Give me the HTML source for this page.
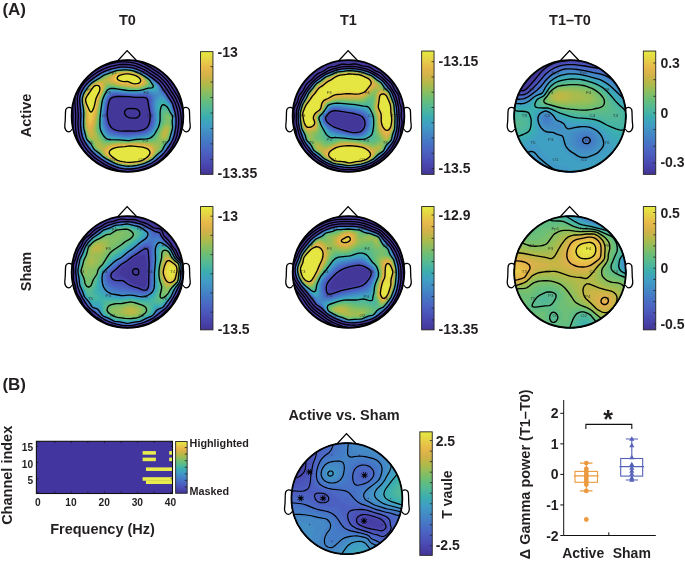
<!DOCTYPE html><html><head><meta charset="utf-8"><title>Figure</title><style>html,body{margin:0;padding:0;background:#fff}svg{display:block}text{font-family:"Liberation Sans",Arial,Helvetica,sans-serif;font-weight:bold;fill:#231f20}</style></head><body>
<svg width="685" height="561" viewBox="0 0 685 561">
<defs><linearGradient id="pg" x1="0" y1="0" x2="0" y2="1"><stop offset="0.0000" stop-color="#e5ea40"/><stop offset="0.0667" stop-color="#e6d246"/><stop offset="0.1333" stop-color="#e7b84a"/><stop offset="0.2000" stop-color="#d1b248"/><stop offset="0.2667" stop-color="#b0ba4a"/><stop offset="0.3333" stop-color="#89be61"/><stop offset="0.4000" stop-color="#66be7b"/><stop offset="0.4667" stop-color="#50b899"/><stop offset="0.5333" stop-color="#3badb1"/><stop offset="0.6000" stop-color="#409ec5"/><stop offset="0.6667" stop-color="#438bc5"/><stop offset="0.7333" stop-color="#4578c6"/><stop offset="0.8000" stop-color="#4b66c3"/><stop offset="0.8667" stop-color="#4b55ba"/><stop offset="0.9333" stop-color="#4844ac"/><stop offset="1.0000" stop-color="#433596"/></linearGradient></defs>
<rect width="685" height="561" fill="#fff"/>
<path d="M117.5 61.0 L127.1 50.6 L137.0 61.0" fill="none" stroke="#000" stroke-width="1.3" stroke-linejoin="miter"/>
<path d="M71.8 108.5 C70.3 107.0 67.3 106.5 65.8 109.5 C65.0 113.0 65.8 119.0 64.8 125.0 C64.3 129.0 66.3 131.8 68.8 131.8 C70.3 131.8 71.3 130.5 72.3 129.0" fill="#fff" stroke="#000" stroke-width="1.3"/>
<path d="M183.2 108.5 C184.7 107.0 187.7 106.5 189.2 109.5 C190.0 113.0 189.2 119.0 190.2 125.0 C190.7 129.0 188.7 131.8 186.2 131.8 C184.7 131.8 183.7 130.5 182.7 129.0" fill="#fff" stroke="#000" stroke-width="1.3"/>
<clipPath id="cA0"><circle r="562"/></clipPath>
<g transform="translate(127.5 116) scale(0.1)"><g clip-path="url(#cA0)" fill-rule="evenodd">
<circle r="567" fill="#44379a"/>
<path fill="#463ca1" d="M-109 -484l42-6 42-1 58 5 42 10 60 25 40 21 34 21 69 50 31 26 22 24 32 50 29 38 51 80 8 17 8 24 23 83 5 50 0 50-8 59-8 42-10 33-14 33-21 38-36 54-31 37-33 32-39 32-37 25-33 17-33 14-101 26-41 6-34 1-41-3-34-5-42-12-50-21-33-15-43-25-49-33-33-26-28-25-32-33-32-44-25-40-15-33-11-42-6-33-5-50 4-100-12-159 2-25 4-17 5-16 12-25 25-42 27-34 28-25 67-51 42-26 50-25 50-17zM-134 -186l-16 7-9 5-8 8-9 16-12 41-9 76 2 41 11 50 15 34 10 14 9 8 16 11 17 7 42 9 33 3 109 0 42-3 33-7 25-9 13-8 9-8 16-26 9-25 5-25 2-33-3-33-18-101-7-25-5-8-13-8-16-4-84-4-67-5-108-2z"/>
<path fill="#4741a7" d="M-103 -484l45-6 41 0 50 5 42 10 59 25 41 21 67 45 44 33 23 20 20 22 32 50 31 42 51 79 15 38 23 83 5 50-1 59-8 58-9 41-11 34-16 34-24 40-29 43-29 35-42 39-33 27-42 28-33 17-34 12-66 19-34 7-42 4-41 0-41-4-34-8-34-11-58-25-42-22-50-32-42-31-33-28-26-27-26-33-29-42-18-33-10-27-9-40-10-75 4-100-12-159 2-23 4-19 9-25 12-24 27-43 30-33 52-42 46-33 37-22 42-21 50-17zM-117 -193l-17 3-16 5-14 10-8 8-8 17-6 16-11 59-4 58 6 50 6 25 10 25 9 17 11 15 14 10 16 9 20 6 26 5 41 4 100 0 51-3 33-6 17-6 16-8 17-12 15-22 10-25 5-25 3-34-3-41-11-59-7-50-4-17-8-13-8-6-9-3-16-3-84-2-67-6z"/>
<path fill="#4946ad" d="M-96 -484l46-5 58 2 42 6 33 10 59 26 36 19 62 42 52 40 21 18 14 17 32 50 26 34 58 90 13 35 20 68 5 24 4 41-2 59-7 56-10 44-14 42-17 33-26 42-29 42-29 33-37 33-31 26-41 26-33 17-34 13-66 18-34 7-42 5-41 0-34-3-41-9-42-14-59-26-41-23-43-28-41-30-33-29-31-33-28-37-25-37-14-26-12-34-9-41-7-67 3-109-12-150 3-25 6-25 10-25 14-25 22-34 30-33 58-47 54-36 46-26 34-13 50-16zM-142 -193l-17 8-8 6-8 10-9 16-11 44-10 76 0 25 3 25 10 46 15 37 18 23 16 11 18 7 42 10 50 4 91-1 51-3 41-9 25-10 21-15 13-18 10-24 8-33 2-34-2-33-13-75-6-50-5-17-6-8-13-9-25-5-76 0-75-6-100-3-25 1z"/>
<path fill="#4a4bb3" d="M-87 -484l45-4 59 3 33 6 38 11 57 25 39 22 65 45 52 41 24 26 31 50 28 36 59 91 12 32 24 92 4 41-1 59-6 50-11 50-15 42-16 32-32 51-24 34-27 31-49 44-33 25-35 21-34 16-33 12-65 18-35 6-42 4-42-1-41-5-34-9-54-20-37-17-42-24-41-26-51-39-32-28-22-25-38-51-17-25-16-33-10-33-9-42-6-67 3-100-12-150 3-25 6-25 11-25 13-25 26-37 27-30 56-45 56-38 44-24 42-17 50-15zM-125 -201l-17 4-17 7-16 14-7 9-12 33-10 59-5 58 6 50 5 25 8 25 12 26 11 13 14 12 11 6 28 10 47 8 50 2 92-2 59-7 25-6 16-7 17-11 8-8 14-19 11-29 6-29 2-34-2-33-13-75-5-50-4-17-9-13-8-7-8-3-17-3-84 0-75-5-100-4z"/>
<path fill="#4a50b7" d="M-77 -484l44-2 58 4 33 6 34 11 58 27 37 21 60 41 54 43 23 24 30 50 30 39 59 91 8 20 21 76 7 33 3 42-2 58-7 50-12 50-12 34-15 30-57 87-35 37-42 38-33 24-33 21-34 16-33 12-67 18-42 7-41 3-42-2-42-6-33-10-50-19-46-22-43-25-48-34-39-31-29-27-21-25-41-57-16-27-11-25-9-33-9-50-4-59 3-92-11-125 0-33 4-25 8-25 26-51 27-37 30-29 53-42 65-42 36-18 41-15 67-19zM-142 -202l-17 7-15 11-10 13-6 12-11 42-11 84 2 50 10 50 8 25 8 17 17 21 25 16 25 9 50 8 50 2 84-1 67-8 25-6 16-7 17-9 9-9 13-16 12-26 9-33 2-33-2-42-13-75-6-59-5-16-7-9-12-8-25-5-92 1-67-5-108-5-25 1z"/>
<path fill="#4b56ba" d="M-63 -484l46-1 50 5 34 8 33 12 56 26 36 21 52 37 65 53 13 14 29 50 33 42 59 91 8 23 22 78 6 33 2 42-3 59-8 50-13 50-13 33-18 33-39 59-19 25-34 35-47 40-35 25-27 15-33 15-33 11-67 17-42 7-42 2-41-3-42-8-42-13-50-21-50-27-45-28-47-36-25-21-27-27-48-64-17-26-13-27-8-25-10-41-6-42-2-42 4-92-12-125 0-33 4-25 8-25 12-25 20-34 26-33 27-27 50-38 67-44 42-20 58-20 50-12zM-125 -209l-17 3-17 6-16 12-9 10-8 16-7 20-10 50-7 67 1 25 3 33 7 34 8 25 8 17 14 20 8 8 17 11 28 11 47 8 58 4 84-3 67-7 37-11 17-8 12-9 14-16 14-25 10-34 3-33-1-42-15-83-3-59-5-16-8-11-9-7-8-4-17-4-100 1-167-9z"/>
<path fill="#4b5bbe" d="M-113 -476l46-7 42-1 50 4 42 9 42 16 58 28 42 27 44 33 48 38 16 17 34 56 30 39 53 80 9 15 5 13 28 101 3 41-2 67-5 42-12 50-10 33-16 33-54 84-29 34-36 33-41 34-32 20-33 18-34 13-92 24-41 5-34 2-41-3-42-8-34-10-50-21-41-21-42-25-29-20-55-42-17-16-23-25-43-58-21-34-13-33-11-42-9-67 0-33 3-84-12-125 0-25 2-25 4-17 18-41 26-42 28-34 29-25 56-41 50-32 34-17 50-18zM-142 -210l-17 5-16 12-9 9-10 17-6 17-6 25-11 76-2 32 1 25 9 59 7 25 7 17 10 16 10 11 25 18 33 11 59 9 58 2 75-4 67-8 25-7 15-7 14-8 13-11 16-22 11-26 7-33 3-33-3-42-14-75-2-59-5-16-4-9-8-8-14-8-21-5-92 2-183-10-25 0z"/>
<path fill="#4b60c0" d="M-106 -476l39-5 42-1 50 3 42 9 42 16 57 28 43 28 42 31 50 40 16 17 34 59 27 34 56 83 12 25 28 101 4 41-2 67-6 42-11 49-11 34-14 31-56 86-27 32-38 35-41 34-30 19-33 17-34 14-92 23-41 6-34 1-41-2-42-8-34-11-50-20-41-21-42-25-38-27-46-36-16-15-22-24-45-61-20-31-13-33-10-42-10-67 0-33 3-84-11-125-1-25 3-25 4-17 18-41 26-42 28-34 50-41 48-34 41-25 36-17 58-20zM-159 -209l-14 9-11 10-10 15-7 16-12 50-9 84 3 58 9 50 14 34 11 17 10 9 25 17 33 10 67 9 58 2 84-6 58-9 34-11 16-11 12-10 18-25 10-26 7-25 3-33-3-50-14-75-3-67-6-17-7-9-17-11-25-5-100 3-192-11-25 2z"/>
<path fill="#4b66c3" d="M-99 -476l49-5 50 1 42 5 41 12 59 26 42 24 54 37 61 50 17 17 32 59 28 34 61 91 7 16 29 101 3 41-2 76-6 41-11 42-10 33-13 28-64 98-28 30-51 45-24 18-33 21-34 17-29 11-62 17-34 7-42 4-41 1-36-4-39-9-42-14-43-19-47-25-40-25-54-41-33-29-21-22-46-63-17-26-9-20-10-33-9-42-5-37-2-30 3-108-11-117-1-25 2-23 5-19 10-25 10-21 26-39 33-37 42-34 64-44 36-21 33-15 59-19zM-142 -219l-17 5-16 10-12 12-10 17-7 16-7 25-11 76-4 58 3 33 5 34 13 42 8 16 13 18 9 7 16 11 34 12 67 10 58 4 83-7 67-9 34-11 16-10 11-8 19-25 12-25 7-25 5-34-2-50-15-83-1-67-6-17-5-8-9-8-16-9-25-4-100 4-175-11z"/>
<path fill="#4a6bc5" d="M-91 -476l49-4 59 3 33 5 39 13 56 25 43 25 48 33 61 50 17 17 31 59 31 38 60 87 7 16 29 101 3 33-2 84-5 34-15 57-8 25-11 25-66 101-26 28-53 47-22 17-33 21-34 16-33 13-58 15-34 7-42 5-41 0-34-3-41-9-34-11-48-21-47-25-41-25-64-50-25-22-19-20-48-66-17-26-10-25-10-33-8-42-4-33-2-26 3-108-11-117-1-25 3-25 7-24 11-26 14-25 25-36 33-34 42-33 71-47 29-16 47-18 53-16zM-159 -218l-16 9-9 9-12 16-12 25-10 42-10 84 0 58 9 58 8 26 9 16 18 25 25 17 34 11 83 11 50 3 109-12 42-7 33-12 25-19 17-22 13-28 9-34 2-33-3-50-14-75 0-67-4-17-12-15-13-10-12-4-25-4-75 5-33 0-184-12-25 1z"/>
<path fill="#4771c6" d="M-81 -476l48-3 50 3 41 8 34 11 50 23 44 25 47 33 68 56 11 11 5 8 20 42 10 17 29 35 58 83 7 15 13 51 14 39 4 19 1 33-2 84-8 42-12 45-11 30-12 25-61 92-25 26-55 49-22 17-31 19-34 17-33 12-58 16-42 8-42 4-42-1-41-6-34-8-50-19-37-17-46-26-37-25-64-49-25-24-66-90-11-20-10-25-8-34-8-41-4-51 3-108-12-117-1-25 3-25 6-21 8-21 17-30 25-37 32-33 43-34 74-49 35-18 43-16 55-17zM-142 -227l-17 5-16 9-14 13-11 16-9 19-7 23-10 59-6 75 1 33 3 33 5 25 8 26 12 25 13 16 23 19 17 7 16 5 51 8 83 8 33-2 92-11 34-6 33-12 25-18 19-23 13-25 10-33 3-34-2-50-16-92 3-58-4-17-11-16-10-9-13-6-25-5-109 5-100-5-84-8z"/>
<path fill="#4577c6" d="M-69 -476l44-1 50 3 33 7 42 15 55 26 41 25 35 25 70 58 9 9 5 8 19 44 9 15 33 40 58 82 18 62 15 41 3 17 2 33-3 84-6 33-13 50-11 34-13 25-61 92-23 24-57 51-22 17-29 18-34 16-41 16-59 15-42 7-41 3-34-1-41-6-39-10-44-17-51-25-42-24-37-26-55-43-24-24-67-91-13-26-8-25-10-41-7-42-2-42 3-100-12-117 0-33 4-25 9-25 12-25 15-25 26-34 33-32 41-31 76-49 33-16 65-22 43-11zM-159 -227l-16 9-11 9-14 19-11 23-11 42-11 83-2 34 0 33 8 58 7 26 7 16 9 17 12 14 13 11 12 8 33 11 109 14 33 2 151-20 33-11 17-10 13-11 19-25 12-25 10-33 4-34-2-50-16-92 4-50-1-16-5-17-6-8-10-9-14-8-17-5-16-2-109 6-92-5-100-9-25 1z"/>
<path fill="#447cc7" d="M-47 -476l47 1 42 5 37 11 46 20 42 22 50 32 84 70 11 14 26 59 38 45 58 80 14 50 19 59 3 16-2 109-9 44-15 56-10 25-8 15-67 99-17 17-70 61-24 17-30 17-34 15-34 11-58 14-50 8-42 1-50-6-42-10-42-15-50-24-50-28-24-17-68-53-16-15-14-15-53-73-16-27-10-25-8-31-12-69-1-42 3-92-12-117 0-33 5-25 8-25 17-34 17-25 27-33 32-29 42-30 75-48 45-19 72-22 42-8zM-142 -234l-17 3-16 8-16 14-9 13-9 15-9 22-6 25-5 34-7 58-2 34 0 33 4 42 4 25 8 25 13 25 12 17 22 17 16 8 17 5 33 5 109 12 25-1 134-19 33-10 17-9 10-8 22-25 14-25 11-34 5-33 0-25-2-34-16-92 6-66-4-17-6-8-8-9-16-10-16-6-17-3-25 0-67 6-33 1-84-5-92-9z"/>
<path fill="#4482c6" d="M-109 -468l42-5 42-2 50 4 33 7 39 13 53 25 41 25 36 25 77 67 10 17 15 42 9 16 29 32 59 77 8 14 11 44 23 67 1 25-3 92-7 38-14 54-9 25-10 20-65 97-19 20-62 55-38 27-33 18-34 13-83 23-42 7-42 2-33-2-42-7-42-13-41-17-50-26-42-24-84-65-16-15-12-13-66-92-13-33-10-42-10-58-1-42 3-92-13-134 1-25 4-16 17-42 25-41 25-31 30-28 36-27 74-48 18-10 66-24zM-159 -235l-16 7-17 15-14 21-9 17-12 41-12 84-3 67 2 33 4 33 6 26 6 16 9 17 15 20 14 13 11 7 26 10 32 6 92 11 33 2 159-22 33-12 25-18 17-19 18-31 11-34 4-33 1-25-3-34-16-92 8-58 0-17-1-8-5-8-7-9-12-8-17-8-14-5-17-2-117 8-83-4-109-11-25 1z"/>
<path fill="#4488c6" d="M-101 -468l43-5 41 0 42 3 33 7 35 12 54 25 42 25 35 25 77 67 10 17 13 42 7 16 36 38 59 74 6 13 14 51 16 41 4 17 1 25-2 92-6 32-16 60-8 25-9 18-29 40-37 59-18 18-64 57-22 17-22 13-34 17-33 13-84 21-41 6-42 1-42-4-33-7-34-10-41-17-59-31-41-26-92-74-67-89-9-14-11-25-9-33-11-50-3-25-1-26 3-116-12-109-1-25 3-25 5-17 10-25 11-20 25-38 33-37 34-27 79-53 21-12 30-13 75-25zM-134 -242l-16 1-17 4-17 10-8 9-13 18-13 25-8 25-5 25-13 100-1 42 2 41 5 34 6 25 11 25 18 25 20 17 16 8 17 5 133 17 25 1 164-23 28-10 25-16 21-24 15-25 12-34 6-33 1-25-1-33-17-101 11-66 1-17-3-8-7-9-12-8-18-10-17-6-17-3-25 0-66 8-42 1-75-3-92-11z"/>
<path fill="#438ec5" d="M-92 -468l42-4 42 0 41 5 34 8 33 12 44 21 40 24 38 26 79 71 10 21 11 50 5 9 40 35 59 72 6 18 11 42 16 39 6 19 1 17-2 100-5 25-17 67-16 40-37 52-31 50-16 16-66 59-22 17-20 12-34 16-33 14-50 13-42 9-42 5-33 1-42-4-41-9-42-15-39-17-61-34-26-17-91-74-42-59-27-34-10-16-9-25-19-84-2-50 2-108-11-101-2-33 3-22 5-20 10-25 14-25 30-42 32-33 34-26 87-57 22-10 66-24 34-10zM-159 -243l-16 6-17 13-11 15-14 25-10 25-6 25-11 84-4 75 5 67 6 25 11 25 10 17 14 16 23 17 29 9 133 17 25 1 167-23 17-5 16-7 23-17 19-24 16-26 9-25 8-34 2-33-2-33-15-101 3-25 15-58 1-8-3-9-14-8-36-15-17-6-17-2-25 1-66 8-42 1-75-3-109-13-25 0z"/>
<path fill="#4294c5" d="M-82 -468l32-2 33-1 34 3 25 4 25 6 25 9 65 32 63 41 73 67 8 8 7 17 4 25-1 17-3 8-7 6-17 3-17-3-48-14-19-2-25 1-66 9-42 1-75-3-92-12-34-2-25 2-16 6-9 5-11 12-14 19-12 22-9 25-12 67-9 92 1 67 3 25 6 25 6 17 10 20 9 13 16 17 10 8 15 8 25 6 158 17 67-10 100-13 27-8 23-14 20-19 17-25 15-34 8-25 4-33 0-34-4-41-10-59-1-25 8-33 10-28 9-16 8-10 8-6 9 0 8 2 25 16 58 67 10 16 14 51 18 44 4 14-1 117-3 19-19 73-14 37-39 55-31 50-14 14-79 69-38 24-33 16-33 12-50 13-42 8-42 4-33 0-42-5-33-8-41-14-37-16-48-26-39-25-93-75-41-58-27-34-10-16-7-17-9-33-12-59-3-50 3-108-12-101-2-33 4-25 6-22 9-20 16-29 27-38 33-33 32-24 90-59 27-12 83-28z"/>
<path fill="#419ac5" d="M-69 -468l61-1 50 6 41 12 39 17 28 15 68 43 71 67 12 17 4 16 1 17-2 9-6 8-6 4-16 3-17-2-50-12-25 1-75 11-42 2-75-4-92-12-34-2-16 0-17 3-16 8-9 7-14 18-11 20-10 22-8 25-6 33-8 59-6 75 3 66 8 42 7 17 12 21 9 12 16 16 16 11 25 8 167 17 67-11 100-12 25-6 25-14 19-17 18-25 17-33 8-26 6-33 1-33-4-50-9-59 0-25 9-33 11-24 8-11 8-8 9-4 8 0 8 2 17 11 17 16 41 48 9 17 12 45 21 48 3 10-2 125-24 92-10 25-5 8-31 42-36 59-93 83-36 22-33 16-33 13-59 15-42 7-41 3-33-1-42-6-34-9-33-12-32-14-60-33-29-18-93-75-13-16-28-42-29-36-9-14-9-25-20-92-2-42 3-108-13-109-1-25 2-17 7-26 10-24 15-27 29-40 33-33 30-22 92-61 25-10 92-31z"/>
<path fill="#40a0c3" d="M-50 -468l50 1 50 7 50 17 51 26 66 43 68 65 7 8 5 9 4 16-1 9-2 8-6 9-8 5-8 1-17 0-42-9-17 0-91 13-67 1-50-3-92-12-42-3-25 3-17 7-8 7-12 15-13 21-10 20-9 25-6 29-7 47-9 91 1 67 6 42 9 25 8 17 11 16 14 16 17 13 25 9 175 18 67-11 100-11 25-6 25-13 18-15 19-25 18-33 12-34 6-33 1-33-3-42-9-67 1-25 4-18 10-24 12-16 12-9 8-2 8 1 17 9 25 24 31 35 8 17 15 50 22 50-1 118-8 38-17 60-8 23-7 11-31 42-36 59-93 83-43 25-37 17-37 12-50 12-50 8-42 1-42-4-50-12-42-16-52-26-56-33-84-66-18-18-33-50-32-39-7-11-11-34-19-83-1-50 2-100-12-101-1-33 3-25 8-25 13-27 17-27 29-38 29-27 25-19 92-60 25-11 92-31 33-6z"/>
<path fill="#3fa5bd" d="M-109 -459l67-7 59 2 25 4 25 6 49 20 46 25 47 30 14 12 64 66 5 9 3 16-2 9-5 8-12 7-9 1-50-7-17 0-83 14-34 3-33 0-58-3-92-14-42-3-25 3-17 6-8 7-8 9-17 26-13 26-9 25-7 34-7 50-8 92 1 66 7 42 9 25 9 17 12 17 16 16 15 10 25 8 92 7 83 10 67-12 109-11 25-7 16-9 17-13 20-24 19-34 14-33 7-34 2-33-2-42-8-75 2-25 5-18 8-18 12-14 13-7 8-1 17 7 25 22 27 29 9 17 15 50 23 50 1 17-2 50 1 50-7 33-17 60-8 24-8 16-33 42-29 50-14 16-76 68-22 17-31 16-37 17-26 9-41 10-51 9-41 4-34-1-41-7-34-9-42-15-49-25-51-29-92-72-16-16-32-50-35-41-5-9-9-25-11-45-9-37-2-18 2-142-14-126 1-16 5-25 17-41 22-35 26-33 26-25 26-19 100-64 94-34z"/>
<path fill="#3ca9b7" d="M-100 -459l58-6 59 2 25 4 25 7 50 20 43 23 49 32 11 10 61 66 5 9 2 8-1 8-3 9-8 6-9 2-58-4-75 14-42 4-92-1-109-16-33-2-25 2-17 6-8 6-8 8-17 26-16 32-9 25-13 76-9 100 0 75 4 25 4 17 11 25 9 16 13 17 14 14 17 10 25 7 92 5 83 10 67-11 109-11 28-7 22-12 22-22 17-25 17-33 12-34 5-25 2-33-7-108 1-26 4-16 7-17 12-15 8-5 8-2 17 5 25 21 25 27 8 17 15 44 19 36 5 14-1 125-25 92-5 17-8 14-34 44-32 55-87 79-23 17-32 17-37 16-30 10-42 10-50 8-42 3-33-3-42-7-33-10-34-13-46-23-58-34-46-38-50-38-12-15-26-42-37-44-12-31-20-84-3-50 2-108-3-34-9-67-2-33 4-25 5-17 20-41 29-42 31-34 25-20 58-37 38-26 21-10 90-32z"/>
<path fill="#3baeb1" d="M-90 -459l57-5 33 1 25 2 42 10 50 20 40 22 61 42 56 66 5 9 1 8-4 11-13 6-13 1-41-2-67 14-42 6-42 1-58-2-109-16-33-3-17 0-16 4-13 5-10 9-11 14-16 30-14 31-6 16-6 34-9 58-8 92 0 67 3 25 4 17 10 25 9 16 12 17 16 17 22 13 17 5 100 5 83 9 67-11 117-11 25-7 17-9 16-14 18-22 23-42 14-33 8-34 2-25-4-108 2-34 4-16 9-15 8-7 8-4 9 0 16 8 17 13 17 17 9 13 18 50 23 40 3 10 1 17-3 41 1 67-27 100-9 20-37 47-29 52-9 9-33 28-47 45-24 17-31 16-40 17-33 10-51 11-41 6-42 2-38-4-37-8-30-9-29-11-43-22-59-34-48-40-50-39-10-12-25-42-40-48-10-27-21-84-2-16-1-34 3-108-3-34-10-67-2-33 4-25 5-17 20-41 30-42 31-34 23-18 58-36 41-29 18-8 95-34z"/>
<path fill="#3fb2aa" d="M-78 -459l53-4 50 4 42 9 57 24 43 25 48 34 15 16 31 42 9 17-1 8-11 8-49 3-67 16-50 7-34 0-58-2-109-17-41-3-17 1-13 4-12 6-8 7-9 11-18 34-15 33-5 17-7 34-7 50-10 100-1 67 2 25 4 17 7 19 11 22 14 21 17 18 18 11 24 7 92 3 91 9 75-12 109-9 25-6 17-8 21-17 19-25 23-42 13-33 7-25 3-25-1-92 3-42 6-25 6-10 8-7 9-2 8 1 8 4 17 12 17 17 8 15 19 45 24 42 1 17-3 41 2 67-26 94-9 23-40 50-27 50-8 9-33 28-50 47-25 17-42 21-33 14-42 11-50 10-34 4-33 1-42-5-41-9-34-12-25-10-76-42-24-15-42-37-50-38-38-60-29-31-8-11-9-25-21-92-2-50 3-100-3-34-11-67-2-33 3-19 7-23 20-41 32-45 33-34 17-13 58-36 45-31 114-42z"/>
<path fill="#48b5a3" d="M-63 -459l55-2 41 5 42 11 50 21 39 23 48 34 15 16 23 34 8 16 0 9-8 8-8 2-33 4-59 16-50 8-42 1-58-2-109-17-41-4-25 3-15 6-10 7-9 11-21 40-12 26-8 24-14 84-11 100-1 75 5 34 9 25 12 22 13 19 15 17 22 14 16 5 101 2 91 9 75-12 109-7 25-5 17-7 20-16 20-25 19-33 20-42 7-25 5-25 1-83 2-25 9-34 5-11 9-9 8-2 8 2 25 17 9 10 28 52 17 25 5 14-4 52 4 51-1 16-26 92-9 25-42 50-26 50-7 9-39 32-44 43-15 11-25 14-35 17-40 14-47 11-45 7-33 2-33-1-42-7-34-8-33-12-30-15-60-33-27-17-42-38-49-37-35-58-32-34-6-8-11-32-21-85-1-59 2-91-3-34-11-68-1-32 2-17 7-25 11-25 15-24 31-43 35-33 17-12 58-35 41-28 116-42z"/>
<path fill="#50b79a" d="M-42 -459l50 0 42 8 42 14 42 20 27 16 49 34 14 16 11 17 9 17 4 16-5 9-9 4-34 7-50 16-50 8-42 2-58-3-117-19-33-3-17 1-17 4-13 8-9 8-11 18-20 41-16 41-7 34-9 67-10 100-1 67 6 33 7 18 12 24 13 19 17 19 17 12 24 7 101 0 91 9 67-11 109-6 33-5 25-11 12-8 13-14 18-28 30-58 11-34 5-25 1-67 3-25 7-23 9-11 8-4 25 0 8 3 9 7 29 45 13 16 5 17-3 50 3 51-1 16-27 100-11 21-27 30-12 16-19 40-9 13-41 35-47 46-12 9-29 16-35 17-36 12-55 13-54 7-33 1-50-7-42-10-42-16-100-55-50-45-42-30-11-12-28-50-36-38-7-13-26-98-3-18 1-151-13-92-2-33 4-25 9-25 12-25 17-26 25-33 33-32 17-11 58-35 42-29 117-42 42-6z"/>
<path fill="#56b991" d="M-103 -451l53-6 50-1 46 7 46 15 53 27 61 42 9 8 11 17 9 16 4 17-2 8-13 9-74 24-41 8-42 2-59-3-133-20-34-3-25 4-16 10-9 9-8 13-27 56-7 17-7 25-8 50-11 83-7 109 1 33 10 34 22 41 13 17 13 12 16 11 25 5 92-1 100 9 67-10 117-7 33-5 25-12 20-19 21-33 29-58 12-34 6-25 1-58 3-25 7-17 7-8 11-7 9-1 16 2 9 7 8 9 34 48 2 17-3 41 4 51-1 16-27 100-9 17-37 42-31 58-40 35-49 49-26 17-34 17-33 13-34 10-50 10-50 6-33 0-44-6-40-10-39-15-103-57-50-46-43-31-7-8-27-50-40-42-8-18-24-91-2-16-1-34 2-117-14-92-2-25 1-16 6-25 19-42 22-34 20-25 23-23 25-19 57-33 43-29 100-38z"/>
<path fill="#5cbb88" d="M-92 -451l50-5 50 0 42 8 50 17 42 22 61 42 15 16 9 17 5 17-1 8-6 8-8 5-50 19-33 10-34 5-42 1-58-3-125-21-34-3-25 3-16 10-9 8-10 17-28 58-14 42-8 50-11 83-9 109 1 33 9 34 21 41 12 17 12 13 17 12 25 8 100-2 100 7 75-10 117-5 34-6 25-14 17-17 16-27 33-67 14-34 4-17 3-16 2-59 5-16 6-10 8-7 9-3 8 0 8 2 17 14 25 29 8 16-4 50 6 51-1 16-26 93-11 24-38 42-26 52-8 10-33 28-43 43-21 17-30 17-37 17-23 8-30 8-50 9-50 5-34-2-41-6-34-9-36-13-105-59-51-47-42-31-8-10-19-37-10-17-35-33-11-26-22-83-2-16-1-40 2-111-15-92-2-25 1-16 5-22 9-21 12-24 21-32 21-27 21-21 25-19 58-33 42-29 105-40z"/>
<path fill="#63bd7e" d="M-80 -451l55-4 42 2 41 8 42 16 39 20 60 42 9 8 11 17 6 16 1 9-3 8-9 8-37 17-35 12-42 7-42 1-53-3-130-22-34-3-25 2-16 9-9 8-13 23-28 58-13 42-19 125-12 125 2 34 11 33 22 42 12 16 13 13 17 11 25 6 100-4 100 6 75-9 126-4 33-7 17-8 8-7 17-19 47-94 20-51 3-16 2-50 3-11 8-14 9-6 8-2 8 2 9 4 27 27 7 8 2 8-2 50 6 59-3 17-21 76-8 23-6 9-26 25-14 17-23 50-7 8-32 28-45 47-22 17-31 17-37 17-24 8-33 8-51 9-50 3-33-2-42-8-33-9-25-10-104-58-47-43-50-39-8-12-25-48-36-33-6-10-5-15-23-84-2-16-1-42 2-109-15-92-2-25 1-16 6-25 11-25 12-22 32-45 33-34 26-18 50-27 42-29 111-43z"/>
<path fill="#6dbe76" d="M-67 -451l50-3 41 3 37 8 43 17 46 25 35 25 20 17 6 8 8 17 1 17-5 8-12 8-35 17-34 11-34 5-42 1-50-3-167-27-25 2-16 8-9 8-13 20-31 67-13 42-19 125-14 134 0 16 3 17 12 33 17 34 12 16 13 15 14 10 11 6 25 4 92-6 108 6 75-9 126-3 37-6 18-8 12-9 12-16 9-17 64-134 2-16 2-42 2-10 9-12 8-5 8 0 17 9 19 18 4 8 2 9-4 41 8 51-1 16-25 92-3 9-8 14-39 36-9 16-11 29-8 15-33 31-48 50-11 9-26 17-34 16-40 16-42 9-50 8-33 3-25-1-42-6-42-10-46-19-74-42-22-14-42-41-47-36-11-17-20-42-6-8-32-27-9-14-3-9-24-92-3-67 2-92-2-25-13-67-2-25 3-25 5-16 21-44 34-48 32-33 25-17 59-31 33-24 117-45z"/>
<path fill="#77bf6d" d="M-49 -451l49-1 33 4 42 12 43 19 41 25 42 33 6 8 7 17 1 8-2 9-6 8-13 8-35 17-34 9-33 5-42 0-50-5-142-24-25-2-17 1-8 3-17 12-16 26-27 59-10 25-7 25-19 117-16 142 0 25 14 41 21 42 19 25 9 8 16 10 25 5 100-7 108 4 75-8 134-1 25-3 17-5 20-11 13-16 42-93 17-31 23-36 1-8 0-42 2-8 5-8 10-5 9 1 8 4 10 8 6 8 2 9-3 41 10 48 1 19-26 92-8 17-7 8-32 25-7 9-19 50-5 8-30 28-51 55-10 9-28 17-45 21-33 12-42 8-59 8-33 1-25-2-42-8-33-9-25-10-25-13-58-34-25-16-43-43-43-32-7-9-18-41-10-17-30-23-9-11-8-16-23-84-3-16-2-59 2-92-4-33-12-59-2-33 3-17 8-23 8-18 17-29 33-44 29-28 21-14 59-30 33-23 15-8 102-39 25-6z"/>
<path fill="#83bf64" d="M-99 -443l49-6 50-1 42 6 35 10 53 25 26 17 32 25 15 16 7 17 0 8-3 9-8 8-29 17-36 12-42 7-34 0-50-4-175-29-25 3-8 4-9 7-16 26-37 82-8 25-7 34-11 75-22 167 2 25 18 50 18 33 22 27 16 12 9 4 25 2 91-9 109 3 92-7 133 0 25-2 17-4 17-8 10-9 9-17 25-67 23-44 16-23 22-16 8-9 0-8-5-10-3-15 0-8 3-9 9-4 8 3 8 10 0 10-6 23 1 8 14 32 4 19 1 16-22 83-8 20-17 17-34 22-5 9-11 41-8 16-25 24-54 60-24 17-31 17-38 17-27 8-60 11-50 5-25-1-46-7-38-9-33-13-93-53-21-17-37-39-41-32-9-12-13-33-9-17-8-9-25-16-8-9-5-8-6-17-22-75-3-25-2-42 2-100-4-33-12-59-3-25 2-16 4-17 10-25 11-20 25-38 20-26 17-16 21-16 67-34 42-27 96-40z"/>
<path fill="#8fbe5d" d="M-88 -443l55-5 41 0 35 5 40 13 44 21 26 17 31 25 15 16 6 17-1 8-4 9-9 8-30 17-36 11-33 5-42-1-50-5-67-10-100-19-25 1-8 4-9 6-16 27-36 81-12 33-13 76-20 150-9 50 1 25 17 50 16 33 22 30 17 14 8 5 17 3 117-13 100 3 83-7 151 3 25-1 17-3 23-9 8-8 3-8 9-42 11-33 21-41 16-23 9-8 16-9 9-2 8 2 8 9 9 20 1 10-1 17-17 62-8 24-9 12-16 13-17 6-17 3-8 5-2 8 0 25-3 17-3 12-9 13-25 27-39 48-19 16-29 18-34 16-21 9-25 7-52 9-48 6-33-1-42-6-42-10-33-13-89-51-21-17-41-44-30-22-9-9-10-16-16-42-10-11-25-15-8-8-10-16-25-84-4-25-2-50 2-92-4-33-13-59-2-25 1-16 5-17 19-42 16-26 25-33 23-24 19-14 67-33 45-28 99-42z"/>
<path fill="#9bbd55" d="M-76 -443l43-4 41 0 42 8 39 13 28 13 20 12 43 34 15 16 4 9 1 8-1 8-6 9-9 8-32 17-35 10-34 3-33-1-50-5-75-12-100-20-17 0-8 2-9 6-8 11-11 22-40 92-10 34-18 108-15 109-9 50 0 25 19 61 14 31 12 16 16 18 17 13 8 3 17 0 75-12 33-4 109 1 92-6 108 3 92 7 9 1 8 3 6 7 3 8 1 17-2 9-9 16-38 50-20 25-20 17-45 25-39 17-29 7-56 9-44 4-34-1-41-7-34-9-31-12-87-50-21-17-45-50-33-26-8-13-12-36-10-17-10-8-27-15-8-9-8-15-26-86-5-67 2-92-3-25-14-67-3-25 2-16 5-19 8-20 15-28 24-34 20-24 16-17 17-12 25-13 50-22 47-28 75-34 21-8zM387 92l14-3 8 2 8 10 3 8 2 8-1 17-12 48-12 35-5 8-8 8-17 8-8 1-17-3-10-5-6-12-1-22 6-25 11-29 17-29 17-19z"/>
<path fill="#a8bb4f" d="M-62 -443l54-3 33 3 37 9 42 17 21 11 21 14 39 33 9 17 1 8-2 8-6 9-10 8-15 8-20 9-33 8-34 2-42-3-100-14-108-24-25-1-9 4-8 11-8 17-23 58-23 50-8 25-9 50-27 176-10 50-1 25 22 83 7 17 38 42 17 10 17 0 58-14 50-8 34-1 75 1 66-5 42-1 75 3 62 7 32 8 18 8 10 9 4 8 0 8-8 25-26 42-25 29-30 21-37 20-33 13-33 8-61 9-40 3-33-3-42-7-31-9-27-12-53-30-40-25-17-17-32-42-39-33-5-8-10-42-5-9-16-12-26-13-8-5-8-10-8-20-25-81-3-67 2-59-1-25-4-33-14-59-2-25 1-16 5-17 7-18 18-32 41-56 16-17 17-12 25-13 59-24 31-20 88-42 23-8zM400 100l9 5 3 4 5 16-8 40-10 35-7 15-9 10-16 7-16-2-9-6-4-7-3-8 0-17 7-30 10-20 15-24 17-14 8-4z"/>
<path fill="#b3ba49" d="M-44 -443l44-1 33 4 42 12 42 19 37 25 26 25 9 17 1 8-3 8-7 9-11 8-27 13-33 9-34 2-42-3-108-16-117-29-17-1-8 7-31 85-29 67-10 41-30 192-15 67 2 25 9 50 0 17-5 9-8 2-17-3-16-7-9-7-8-13-25-70-6-28-3-58 2-59 0-25-5-33-14-59-3-25 4-25 9-25 16-28 32-47 23-25 20-16 25-12 67-24 35-23 82-42 27-8zM382 117l10-4 9 1 3 3 4 8 0 17-7 34-9 25-8 13-8 6-9 2-8-2-5-3-7-8-2-9 0-16 6-22 8-18 8-13zM-114 276l31-2 75 0 91-5 84 3 50 6 33 9 12 5 10 9 5 8 7 17 1 8-1 8-6 17-9 17-12 16-15 18-34 24-49 25-23 9-19 4-75 11-42 2-42-5-41-9-32-12-46-25-52-33-18-17-12-17-24-39-25-22-8-14 0-8 8-6 8 4 25 23 17 4 58-21 34-7z"/>
<path fill="#beb745" d="M-88 -434l46-7 42-1 42 6 33 10 42 19 33 23 26 25 8 17 0 8-3 8-8 9-11 8-20 10-33 9-42 2-34-4-116-18-51-13-66-24-17-3-8 10-5 31-12 42-12 33-23 50-12 42-31 192-18 75 0 17 5 42 0 16-4 9-5 4-9 1-8-2-8-4-8-8-9-17-17-43-9-31-6-67 3-59-1-25-5-33-17-75 1-25 8-25 18-34 22-33 27-34 18-16 25-15 25-9 42-10 25-3 19-22 26-16 55-30zM382 134l10-3 3 3 3 8-1 17-5 20-8 19-8 8-9 1-8-7-3-8 1-17 2-9 8-17zM6 276l52-4 59 1 67 5 41 7 25 11 15 13 11 25 0 17-6 16-10 17-20 25-22 17-45 25-31 13-25 7-67 10-42 2-41-4-42-8-25-8-28-12-56-34-35-25-20-25-10-25-1-8 4-8 4-3 38-22 37-12 33-7 34-4z"/>
<path fill="#c9b546" d="M-76 -434l43-6 41 0 34 5 33 10 42 20 30 21 24 25 8 17-1 8-4 8-8 9-12 8-20 9-34 8-42 0-116-17-42-9-34-10-36-14-15-9-9-8-1-8 4-9 9-8 24-17 41-22zM-271 -342l21-1 8 4 4 5 2 8-1 25-14 51-29 66-8 25-38 214-18 70-1 17 0 42-6 12-8 2-8-5-9-10-25-55-7-28-5-58 3-59-1-25-4-25-18-75-1-28 8-28 17-32 25-38 26-33 16-14 16-10 25-10zM33 276l50-1 76 4 41 5 29 8 21 13 9 9 6 12 5 16 0 9-5 16-14 25-25 25-40 26-35 16-26 9-25 4-58 8-34 2-41-5-42-8-25-8-24-10-56-34-34-25-15-16-11-25 0-9 2-8 18-17 28-15 27-10 31-7 34-4 83-1z"/>
<path fill="#d2b249" d="M-63 -434l46-5 34 2 41 9 30 11 33 16 31 25 15 17 5 8 2 9-1 8-5 8-9 9-25 13-34 8-33 1-125-18-34-7-25-7-33-13-19-11-8-8-3-8 2-9 6-8 21-17 28-16 14-6zM-295 -334l28-4 8 1 9 4 5 7 2 9 0 25-6 25-8 25-22 50-12 33-40 217-18 59-10 47-8 4-9-7-16-28-9-20-3-13-6-50 2-67-1-25-6-33-17-67-1-25 7-26 17-33 25-38 21-28 16-17 13-9 17-9zM-91 284l66-1 50-5 42 0 92 5 41 6 17 5 16 7 17 14 12 19 2 8-1 17-6 17-10 16-22 23-43 28-40 18-42 9-83 10-34-2-50-9-25-6-28-12-42-25-38-25-10-9-14-16-7-17-2-8 1-9 7-11 16-14 17-10 17-7 27-8 31-6z"/>
<path fill="#dcb04c" d="M-48 -434l40-3 33 3 36 8 39 16 30 18 26 25 11 16 1 9-1 8-6 8-9 9-18 9-34 9-33 1-25-3-50-10-53-6-31-7-31-10-19-8-13-9-9-8-4-8 1-9 5-8 8-8 23-17 16-8 23-9zM-314 -326l30-7 17 1 8 3 9 10 2 10-1 25-11 42-26 58-8 25-38 201-9 33-18 49-8 14-9 1-8-8-8-13-9-26-6-50 3-59-2-25-6-33-18-67-1-25 5-21 9-19 16-29 28-40 14-17 15-16 12-8zM-6 284l39-4 59 2 75 6 42 8 25 12 16 17 8 17 1 9-3 16-13 25-14 17-23 17-45 25-19 8-25 7-74 10-26 2-34-2-50-8-25-7-23-10-30-17-50-33-18-17-10-17-3-16 2-9 5-8 20-17 24-12 33-10 33-6z"/>
<path fill="#e4b04c" d="M-26 -434l34-1 34 6 33 10 34 15 17 12 26 25 10 16 1 9-2 8-6 8-11 9-19 9-25 5-33 1-25-3-42-10-50-5-33-6-27-8-19-8-14-9-9-8-4-8-1-9 4-8 17-17 12-8 17-8 26-9zM-305 -326l13-2 16 0 10 2 7 6 5 11 2 8-2 25-9 34-23 50-12 33-44 219-17 42-8 13-9 4-8-5-8-14-8-33-3-25 2-59-2-25-9-41-15-51-3-16 0-17 4-17 17-34 45-66 14-17 16-13zM14 284l44-1 84 6 42 6 25 6 16 8 9 6 15 19 5 17-1 8-4 17-16 25-19 16-40 26-32 14-17 6-29 5-63 7-25 1-25-2-41-7-32-8-21-8-30-17-49-33-18-17-9-17-2-16 3-9 6-8 21-17 22-10 25-8 33-7 84-4z"/>
<path fill="#e7b74a" d="M-69 -426l44-6 33-1 39 7 28 9 42 21 24 20 12 17 4 8 0 9-2 8-13 13-25 11-25 5-25 0-25-4-42-11-50-4-33-6-34-12-14-9-10-8-5-8-1-9 3-8 7-8 9-9 19-12zM-322 -317l13-5 17-3 16 2 9 4 7 10 3 8-1 25-8 34-24 50-9 25-43 204-7 21-10 25-8 12-9 4-8-4-8-18-3-10-3-25 1-59-3-25-7-33-19-64-2-28 5-17 14-29 33-51 29-37 13-10zM-52 292l35-2 42-5 17 0 108 9 41 7 26 10 19 15 10 16 2 9-1 16-12 25-15 17-22 17-45 25-19 8-17 4-100 11-25-1-42-6-33-8-23-8-30-17-38-25-21-17-13-16-5-17 1-8 4-9 16-16 13-9 20-9 34-9 33-5z"/>
<path fill="#e7bf49" d="M-56 -426l39-4 34 1 41 9 30 11 31 17 18 16 12 17 3 8 0 9-4 8-14 13-17 7-25 5-25 0-25-4-42-12-50-3-30-6-29-11-21-14-6-8-1-9 2-8 15-17 12-8 19-8zM-315 -317l14-3 17 0 9 3 8 7 6 18-2 25-6 25-24 50-9 25-16 75-33 134-10 25-6 9-9 3-8-6-8-23-1-17 0-50-3-25-8-33-21-67-1-25 8-25 9-17 44-67 23-26 9-7zM-9 292l34-4 50 2 84 9 41 9 18 9 17 17 8 17 0 8-3 17-9 16-15 17-36 25-31 17-15 6-17 4-100 11-25-1-34-5-34-7-25-8-31-17-37-25-20-17-14-16-4-17 2-8 4-9 17-16 17-9 25-10 33-7z"/>
<path fill="#e7c847" d="M-40 -426l32-2 25 1 41 9 25 9 32 17 18 16 11 17 2 8 0 9-4 8-8 8-17 8-25 6-25-1-25-4-42-13-50-3-25-5-15-4-18-9-11-8-7-8-2-9 2-8 5-8 9-9 13-8 21-8zM-328 -309l11-4 16-4 17 2 8 4 8 10 2 9 0 25-7 25-24 50-9 25-20 89-33 116-8 15-9 3-8-13-6-76-8-34-22-67-4-16 0-17 7-21 8-16 25-40 33-46 11-11zM9 292l24-1 59 4 67 8 33 8 17 7 11 8 8 8 9 17 1 8-2 17-9 16-15 17-36 25-32 17-27 8-100 11-25-1-34-5-26-5-27-8-33-17-36-25-20-17-13-16-3-9 0-8 2-8 5-9 18-15 18-10 24-8 33-7 75-5z"/>
<path fill="#e6d046" d="M-16 -426l24 0 34 6 25 7 29 12 15 9 18 16 10 17 2 8-1 9-6 9-17 11-25 6-25 0-25-6-42-14-42-1-32-5-26-11-8-6-8-8-2-9 1-8 5-8 9-9 11-7 34-12zM-322 -309l21-4 18 4 7 7 5 10 1 25-6 25-21 42-11 25-26 109-25 68-8 14-9-7-4-26-8-33-30-84-4-16 0-17 5-15 8-17 50-76 22-26zM-30 301l47-7 16-1 117 13 34 7 25 11 16 15 6 12 2 8-2 17-8 16-16 17-35 25-32 17-31 7-92 10-59-6-50-12-31-16-36-25-19-17-13-16-3-9 0-8 3-8 6-9 9-8 17-11 25-10 25-6 26-3z"/>
<path fill="#e5d845" d="M-55 -417l38-6 25-1 37 7 27 8 34 17 11 8 8 8 9 17 1 8-2 9-6 8-14 8-21 6-17 0-32-6-35-14-8-1-50-1-32-9-15-8-8-8-4-9 1-8 5-8 9-9 14-8zM-305 -309l13 2 8 4 8 11 2 16-1 17-9 25-22 42-6 17-15 66-15 50-9 18-8 12-8 4-9-10-33-80-9-27-3-17 1-8 6-17 13-24 52-76 17-17 15-6zM-5 301l30-5 17 1 108 13 33 7 19 9 11 8 8 8 7 17-2 17-8 16-15 17-36 25-32 17-35 6-83 8-25-1-42-6-33-7-17-7-31-18-23-17-19-17-12-16-2-9 0-8 4-8 6-9 10-8 17-10 25-9 25-5z"/>
<path fill="#e5df43" d="M-39 -417l31-4 25 1 41 9 27 10 24 14 12 11 8 17 1 8-3 9-10 9-17 7-17 2-16-1-25-6-34-14-50-2-23-4-19-8-10-8-5-9 1-8 4-8 9-9 16-8zM-326 -301l17-4 8 1 11 3 8 9 3 8 0 25-5 17-30 58-5 17-13 58-10 33-9 17-8 10-8 2-9-7-8-14-25-55-9-27 0-17 9-21 8-14 42-63 17-22zM12 301l21-1 67 7 59 9 25 7 21 11 8 8 6 9 3 16-4 17-12 17-19 16-24 17-29 15-25 5-92 9-34-3-33-4-25-5-22-8-29-17-23-17-18-17-11-16-2-9 1-8 3-8 17-16 18-9 41-12 75-7z"/>
<path fill="#e5e641" d="M-13 -417l28 0 35 6 25 9 19 10 15 9 12 16 3 8-1 8-4 9-10 7-9 4-17 2-16 0-25-7-34-15-50-1-16-3-17-7-7-5-6-9 0-8 4-8 9-9 25-10zM-332 -292l15-7 8-1 8 1 9 4 8 15 1 21-9 24-27 51-15 67-8 25-9 17-8 9-8 2-9-5-8-11-17-32-12-30-3-17 1-8 6-15 8-15 50-74zM-14 309l31-5 16-1 76 9 58 10 25 10 14 10 6 9 4 8 0 17-8 16-15 17-35 25-24 13-25 5-92 8-25-1-42-6-42-11-29-16-22-17-18-17-11-16-1-9 1-8 5-8 17-15 16-8 42-11z"/>
<path fill="none" stroke="#000" stroke-width="13.5" stroke-linejoin="round" d="M-46 -417l29-4 25-1 30 5 30 8 19 8 16 9 12 8 7 8 6 9 3 8 1 8-3 9-7 8-13 7-17 4-17 1-17-2-8-2-17-6-25-11-8-2-33 1-17-2-22-5-18-8-9-8-4-9 1-8 4-8 9-9 16-8zM-329 -301l12-4 8-1 8 0 9 2 6 3 6 9 3 8 1 8-2 17-1 9-5 11-20 39-11 25-15 66-4 16-8 24-9 17-8 10-8 2-9-7-8-15-25-58-8-22-1-8-1-9 0-8 3-8 7-16 8-14 42-62 17-22 8-8zM5 301l20-3 32 3 93 11 17 4 17 5 16 7 8 6 8 8 5 9 3 8 1 8-2 9-3 8-5 8-7 9-8 8-11 8-25 17-14 9-16 7-9 2-25 4-67 7-16 1-34-3-33-4-27-6-23-8-28-17-23-17-18-17-7-8-5-8-2-9 1-8 3-8 7-9 11-8 19-10 25-8 25-5 67-5zM-63 -459l30-2 25 0 23 2 18 3 25 5 17 6 25 10 25 11 17 10 22 13 37 25 11 9 15 16 23 34 8 16 0 9-8 8-8 2-33 4-59 16-25 5-25 3-42 1-58-2-109-17-25-3-16-1-17 1-8 2-15 6-10 7-9 11-21 40-12 26-8 24-7 34-7 50-7 58-4 42-1 50 0 25 2 17 3 17 9 25 12 22 13 19 15 17 11 8 11 6 8 3 8 2 17 1 84 1 91 9 9-1 41-7 25-4 109-7 25-5 17-7 10-7 10-9 13-14 7-11 19-33 13-25 7-17 7-25 5-25 1-25 0-58 2-25 6-26 3-8 5-11 9-9 8-2 8 2 9 5 16 12 9 10 8 13 20 39 17 25 4 8 1 6 0 11-4 41 1 17 3 34 0 8-1 8-26 92-5 17-4 8-6 8-23 26-13 16-9 17-12 25-5 8-7 9-39 32-44 43-15 11-25 14-35 17-22 8-18 6-47 11-45 7-33 2-17 0-16-1-42-7-34-8-33-12-30-15-60-33-27-17-42-38-39-29-10-8-9-13-17-31-9-14-8-9-24-25-6-8-4-9-7-23-17-67-4-18-1-17 0-42 2-91-3-34-11-68-1-15 0-17 2-17 7-25 11-25 15-24 16-24 15-19 16-16 19-17 17-12 58-35 41-28 116-42 27-5zM-100 -484l25-4 17-1 41 0 50 5 25 5 17 5 25 9 34 15 25 12 16 10 25 15 41 29 44 33 24 21 13 13 6 8 32 50 24 31 8 11 15 25 36 55 8 18 6 19 19 65 4 18 4 25 1 25 1 25-2 33-2 26-6 33-8 39-12 36-13 30-17 30-39 57-13 17-15 17-17 17-25 23-33 27-42 27-33 17-34 13-66 18-34 7-42 5-41 0-37-4-38-8-42-15-34-13-25-12-41-23-42-27-42-31-33-29-25-26-26-33-29-42-18-33-11-29-9-38-7-50-2-25 0-34 3-66-2-34-9-100-1-25 2-20 5-22 9-25 12-25 15-25 12-17 14-16 16-17 17-15 34-27 47-33 27-17 18-9 16-9 25-10 50-17zM-134 -192l-16 5-9 5-8 7-7 8-5 8-6 17-6 25-6 34-5 41-1 17 1 25 4 25 6 28 7 22 8 17 10 17 8 9 9 7 8 5 17 8 16 5 26 5 41 3 50-1 42 1 25 0 25-2 25-4 16-3 26-9 14-8 11-8 7-8 6-9 4-8 8-20 4-14 3-16 3-34-2-33-12-67-9-58-4-14-7-11-9-6-9-3-25-2-67-1-75-6-91-2-26 0zM-109 -509l26-5 16-1 25-1 25 1 34 2 25 4 25 5 16 5 26 10 33 14 42 21 25 16 83 57 17 13 17 16 25 26 14 17 27 39 52 78 19 33 18 42 12 34 10 41 4 25 5 42 1 42-3 33-11 75-9 34-12 33-27 54-12 21-13 20-25 32-34 37-19 20-19 17-20 15-42 28-33 18-17 8-25 10-25 8-42 11-42 10-41 5-25 1-25-1-42-4-17-3-25-6-25-9-33-13-47-20-37-20-58-38-34-24-29-27-41-41-14-17-13-17-21-33-21-42-7-17-6-16-8-34-4-25-5-58 0-34 3-50 0-16-7-92-3-67 1-17 2-16 6-25 10-25 12-26 15-25 12-16 14-17 13-13 16-15 42-35 25-19 17-11 16-11 25-14 34-17 25-11 42-14zM-8 -68l-13 10-5 8-3 8 0 9 4 16 4 9 7 8 14 10 8 4 17 4 42 3 16-1 11-3 6-3 8-6 7-8 5-8 2-9 1-8-1-8-2-9-5-8-6-8-9-7-8-4-17-5-50-1-17 2zM-117 -534l25-5 25-2 25-1 25 0 50 5 25 5 25 6 26 9 25 10 33 15 25 14 33 20 59 39 25 17 17 14 16 16 25 26 18 20 24 32 27 44 28 41 20 36 21 48 15 42 8 33 4 25 5 42 2 41-2 42-12 75-10 42-14 36-27 56-15 25-11 17-14 18-17 20-32 37-18 17-16 16-17 13-17 12-25 17-42 24-19 9-22 9-25 9-34 10-33 8-25 6-42 6-25 1-25 0-25-2-25-2-25-5-17-4-25-8-25-9-33-13-25-12-42-22-50-32-42-29-33-28-42-42-28-33-23-33-14-25-12-25-8-17-7-20-6-22-4-16-5-34-4-50 0-33 2-75-7-109-2-33 1-25 4-34 6-25 8-25 16-33 16-25 12-17 14-17 16-16 25-22 34-28 24-19 22-15 28-17 25-13 26-13 25-11 25-9 25-7zM-132 584l-52-19-25-12-25-12-25-15-33-20-34-22-25-19-17-14-24-22-25-25-19-20-15-17-19-25-11-16-14-25-20-42-12-34-9-33-6-42-4-58 1-109-7-117 0-25 1-25 3-25 3-16 10-34 14-33 19-34 11-16 14-17 23-25 37-33 42-34 33-23 41-24 42-21 42-17 25-8 25-6 50-11 42-6 42-2 41 2 25 4 25 4 42 11 25 9 25 11 50 25 42 25 67 44 22 17 19 16 34 34 17 19 16 21 19 26 58 92 22 42 20 50 11 34 9 41 7 59 2 25 0 25-3 42-9 58-9 42-14 41-10 26-12 25-24 43-25 36-33 40-42 44-33 29-17 12-25 17-25 15-25 13-42 18-50 16"/>
</g></g>
<circle cx="127.5" cy="116" r="55.85" fill="none" stroke="#000" stroke-width="1.8"/>
<path d="M338.5 61.0 L348.1 50.6 L358.0 61.0" fill="none" stroke="#000" stroke-width="1.3" stroke-linejoin="miter"/>
<path d="M292.8 108.5 C291.3 107.0 288.3 106.5 286.8 109.5 C286.0 113.0 286.8 119.0 285.8 125.0 C285.3 129.0 287.3 131.8 289.8 131.8 C291.3 131.8 292.3 130.5 293.3 129.0" fill="#fff" stroke="#000" stroke-width="1.3"/>
<path d="M404.2 108.5 C405.7 107.0 408.7 106.5 410.2 109.5 C411.0 113.0 410.2 119.0 411.2 125.0 C411.7 129.0 409.7 131.8 407.2 131.8 C405.7 131.8 404.7 130.5 403.7 129.0" fill="#fff" stroke="#000" stroke-width="1.3"/>
<clipPath id="cA1"><circle r="562"/></clipPath>
<g transform="translate(348.5 116) scale(0.1)"><g clip-path="url(#cA1)" fill-rule="evenodd">
<circle r="567" fill="#44379a"/>
<path fill="#463ca1" d="M-37 -476l45-2 59 2 50 7 38 10 45 15 42 19 39 24 45 33 20 17 22 25 49 62 20 30 18 42 17 50 7 33 7 51 4 66 2 75-5 42-11 52-13 48-15 34-14 22-44 61-23 27-41 36-59 45-42 24-33 15-43 12-66 13-41 5-42 1-58-5-67-12-50-13-42-18-42-24-32-22-51-42-25-23-16-19-43-58-21-34-14-33-30-83-10-42-4-34-2-66 2-34 7-33 18-50 21-44 40-73 27-37 38-47 28-27 34-26 44-30 31-16 60-26 32-11 42-8zM-142 -34l-25 7-17 10-8 9-12 16-4 17 6 17 10 13 17 14 25 15 37 16 72 25 58 17 25 5 33-1 25-5 17-9 8-9 9-14 6-26 0-16-5-17-10-17-8-8-17-11-33-13-42-10-134-23z"/>
<path fill="#4741a7" d="M-25 -476l50-1 67 5 33 6 53 15 47 19 29 15 55 38 33 26 18 19 57 71 14 21 16 33 19 50 11 42 6 42 5 67 3 75-2 42-6 33-19 75-9 25-12 25-68 92-33 31-66 53-26 16-33 18-33 13-42 12-67 12-42 5-50 0-58-7-59-11-50-16-41-19-41-23-85-67-17-17-20-25-46-64-16-28-40-108-10-42-4-42-2-58 2-34 8-33 18-50 19-42 41-75 26-35 39-49 27-26 34-25 46-32 29-15 63-27 29-10 42-8zM-167 -33l-17 9-21 24-8 17-2 8 2 8 9 17 17 17 20 14 25 14 34 14 76 25 57 15 25 4 33-2 17-4 13-5 12-8 7-9 9-16 5-17 2-17-2-17-4-11-7-14-8-8-10-9-17-9-25-10-33-8-142-25-25-3-17 0z"/>
<path fill="#4946ad" d="M-10 -476l60 1 59 6 39 10 52 17 34 15 31 18 61 44 25 23 58 70 17 23 16 32 17 43 15 49 6 33 7 75 2 67 0 42-4 33-17 75-14 42-20 36-54 73-14 16-24 22-68 54-32 20-33 17-34 12-50 12-58 10-50 5-42-2-67-9-50-10-42-14-41-19-39-22-62-48-32-28-22-25-46-62-17-26-9-20-32-85-8-24-9-50-3-50-1-42 3-33 9-33 19-51 23-46 34-62 33-44 40-48 27-23 60-44 23-14 42-19 42-17 33-11 50-8zM-150 -43l-25 8-17 12-24 31-4 17 4 17 12 16 20 18 25 16 34 16 49 17 84 25 34 7 33 0 34-6 16-9 9-8 8-13 6-12 5-17 1-17-1-17-6-16-5-10-13-15-12-9-17-8-23-8-52-13-134-22-25-2z"/>
<path fill="#4a4bb3" d="M-79 -468l54-6 33-1 50 2 51 5 33 8 50 17 33 13 25 13 59 41 33 26 15 16 60 75 16 25 12 25 14 38 14 46 7 42 6 75 2 66-1 42-4 34-17 66-10 34-11 25-60 83-18 23-25 22-59 47-33 23-41 21-34 13-41 10-67 12-42 4-33 0-50-5-59-10-42-10-41-16-50-26-35-24-74-61-20-23-47-64-17-26-8-18-33-88-9-29-7-42-3-42 0-58 4-33 13-42 17-42 44-83 16-27 52-65 23-25 84-62 33-18 70-29 30-10zM-167 -44l-17 9-16 15-21 28-5 17 5 17 12 18 25 22 29 18 38 17 78 25 63 17 26 3 42-2 25-7 17-11 16-24 7-18 3-17 0-16-3-17-6-17-9-12-13-13-15-8-31-12-41-11-142-24-34-3-16 2z"/>
<path fill="#4a50b7" d="M-71 -468l79-6 59 3 42 4 31 8 51 16 34 14 25 13 67 47 25 21 75 91 15 23 15 34 18 50 9 33 6 42 6 75 1 58-1 42-4 34-17 66-10 34-11 25-77 104-16 16-70 55-31 21-41 22-34 12-50 13-67 11-41 3-34-1-50-6-58-10-42-11-42-17-50-27-75-59-25-21-18-22-57-78-9-14-10-25-31-82-9-34-7-42-2-50 0-42 4-33 13-42 17-42 44-83 15-25 53-67 22-24 25-19 67-48 33-16 75-31 25-7zM-159 -51l-25 11-16 15-26 33-4 17 3 17 11 16 24 24 27 18 34 17 48 17 88 25 45 8 33-1 34-7 17-10 8-8 11-16 7-16 6-26 0-16-3-17-6-17-7-12-11-13-14-9-16-8-26-9-70-15-130-21-25 0z"/>
<path fill="#4b56ba" d="M-61 -468l69-5 59 3 50 6 46 13 54 20 25 11 29 19 55 40 16 14 79 97 18 33 20 53 12 39 7 42 7 91 1 67-2 42-5 25-22 83-10 25-13 22-58 79-14 16-83 67-23 17-47 25-34 12-50 13-75 12-42 3-41-3-84-13-50-13-42-18-50-26-83-66-27-26-57-77-15-24-45-116-6-25-6-42-4-59 1-41 7-34 17-50 18-40 42-78 16-24 47-58 28-29 63-46 29-19 100-43 25-6zM-142 -59l-25 6-25 15-27 30-15 25 0 16 9 20 19 22 31 25 33 18 43 16 86 25 55 11 41 0 34-6 11-5 12-9 14-16 9-17 5-17 3-17 0-25-4-16-8-19-12-15-13-11-34-15-58-15-142-24z"/>
<path fill="#4b5bbe" d="M-52 -468l44-4 33 0 67 5 42 8 66 22 42 18 84 59 27 26 64 80 13 20 18 42 20 58 5 25 5 42 6 67 1 67-2 42-5 33-20 75-12 33-12 20-30 39-29 42-24 25-84 67-50 28-33 13-42 12-50 10-50 7-42 1-50-5-75-12-46-13-38-16-48-25-85-67-19-17-13-17-60-82-9-15-42-111-8-34-5-42-3-66 2-34 8-33 15-43 17-36 42-80 16-23 48-60 19-21 17-13 68-50 24-14 100-40 25-6zM-159 -60l-25 11-16 14-29 35-8 17-2 8 1 8 4 13 14 21 26 25 27 18 33 17 51 16 87 24 46 8 42-1 29-7 21-12 18-21 8-17 7-25 2-17-2-25-5-17-8-16-12-14-15-11-18-9-25-9-67-15-134-21-25-2z"/>
<path fill="#4b60c0" d="M-42 -468l42-3 50 2 59 6 33 8 67 23 33 15 92 65 17 18 66 82 19 35 20 50 13 42 6 42 7 75 2 75-3 50-4 25-23 83-9 25-10 17-33 42-35 50-16 16-86 68-23 14-33 16-34 13-41 11-59 10-42 5-41 1-59-7-67-12-41-13-34-14-46-24-96-76-22-25-61-83-9-17-41-109-9-40-5-43-2-58 2-34 8-33 18-50 61-117 67-84 27-24 70-51 22-12 100-41 25-6zM-142 -67l-25 5-25 15-14 14-21 25-14 25-1 16 2 9 9 16 22 26 25 21 34 20 41 15 95 27 56 11 41 0 34-5 15-6 10-7 18-18 10-17 9-25 3-17 0-25-6-25-8-16-9-13-14-12-14-9-22-9-59-15-150-25z"/>
<path fill="#4b66c3" d="M-32 -468l40-2 50 3 51 5 33 8 67 23 31 14 94 67 16 16 26 34 41 50 18 33 16 42 17 50 6 42 8 83 1 75-3 42-4 23-26 94-6 16-10 16-33 43-36 50-14 14-88 70-21 12-33 17-34 13-41 11-67 11-42 5-42-1-75-10-45-8-38-13-34-15-44-22-98-77-20-24-29-41-32-42-9-17-44-117-8-42-4-41-2-50 2-34 8-33 18-50 62-117 66-84 26-23 72-52 20-11 100-41 28-6zM-159 -69l-25 11-16 14-36 44-9 17-1 8 2 17 14 25 21 23 34 26 33 18 50 16 92 24 50 8 42 0 33-8 15-7 10-8 17-19 8-15 9-25 3-25-1-25-7-25-10-17-10-12-17-13-17-8-25-9-71-16-138-21-25-1z"/>
<path fill="#4a6bc5" d="M-22 -468l39-1 83 7 25 4 48 15 44 16 25 12 84 60 15 13 76 94 9 14 11 25 22 59 10 33 12 117 0 75-2 42-3 19-27 98-7 16-8 14-35 45-35 50-13 13-90 71-19 11-33 17-34 13-41 11-76 12-41 4-42-2-92-13-33-8-33-12-51-24-25-15-97-78-70-93-14-24-44-117-9-50-4-58 0-42 3-25 9-33 19-51 57-107 75-92 90-68 27-14 75-31 25-8zM-142 -76l-25 5-17 9-8 6-17 17-25 31-11 16-3 9-2 8 2 17 14 25 25 28 25 21 34 19 42 15 96 25 37 8 25 3 42 0 33-7 25-14 21-23 9-17 8-25 4-25-1-25-7-25-8-17-9-11-15-14-15-8-20-9-59-15-150-24-25-3z"/>
<path fill="#4771c6" d="M-11 -468l44 1 81 8 28 7 50 17 33 13 24 13 90 67 39 50 39 46 19 37 23 62 9 30 12 125 0 75-3 42-29 109-7 16-7 12-37 47-35 50-11 11-92 73-25 14-34 16-33 12-42 11-75 11-42 4-33-3-100-15-25-6-30-11-54-25-25-15-96-77-14-17-28-41-32-42-13-25-42-113-9-54-4-67 1-33 5-25 15-48 11-28 56-105 75-93 92-68 25-13 75-32 25-8zM-159 -77l-25 11-16 13-43 53-9 17-1 8 0 8 5 17 14 24 25 27 34 26 33 17 59 18 91 22 50 6 42-1 17-3 17-6 25-17 18-21 11-25 7-25 2-25-3-25-7-25-10-17-10-11-17-13-16-8-26-10-66-15-142-21-34-2z"/>
<path fill="#4577c6" d="M-72 -459l55-7 25-1 101 8 25 5 58 21 33 12 22 12 91 67 39 50 36 42 11 16 11 25 24 66 7 26 12 117 0 109-4 25-25 91-9 25-14 21-31 38-34 50-93 75-24 17-35 17-34 13-41 12-109 16-25 0-33-3-84-12-33-8-42-17-58-29-103-81-14-17-28-41-31-39-12-20-17-50-21-50-8-25-7-50-4-50 0-42 3-25 8-28 16-47 63-117 71-88 17-14 77-57 23-11 92-38zM-142 -84l-25 5-17 8-8 7-17 16-32 40-11 16-3 9-2 8 2 17 13 26 25 30 33 29 34 19 41 14 100 24 59 9 42 0 33-6 25-12 11-8 15-17 14-25 8-25 3-25 0-25-6-25-7-17-13-18-16-15-17-9-25-10-59-15-141-22-34-3z"/>
<path fill="#447cc7" d="M-62 -459l70-7 101 8 25 6 52 18 39 14 20 11 91 67 8 8 31 42 37 42 10 16 12 25 25 69 6 23 12 117 0 109-4 25-25 91-9 25-13 19-27 32-40 58-58 46-34 29-25 17-42 20-33 12-36 10-106 15-25 0-33-3-84-12-33-8-42-17-58-29-101-80-15-17-33-50-27-32-10-18-21-58-19-44-7-23-7-50-4-50 0-42 3-25 7-25 18-50 52-100 10-17 60-75 15-17 92-67 20-10 92-38 16-4zM-159 -85l-25 10-16 14-50 61-9 17-1 8 0 8 5 17 14 25 24 29 33 29 34 18 52 16 98 22 58 8 42-1 34-7 25-14 23-25 13-25 7-25 4-33-2-25-6-25-8-17-15-18-16-13-22-11-28-10-67-14-142-21-34-1z"/>
<path fill="#4482c6" d="M-52 -459l60-6 92 7 34 7 100 36 21 14 79 58 9 9 30 42 37 42 11 16 8 17 33 92 6 33 8 85 1 74-2 50-3 17-28 100-10 22-37 45-38 57-58 45-42 36-20 12-34 17-30 11-41 12-109 16-33 0-101-14-33-7-29-10-79-38-51-42-50-38-13-16-33-50-29-34-9-16-20-58-25-59-6-33-5-50-3-50 3-34 7-28 19-55 57-109 72-92 19-16 75-54 17-10 100-42 25-5zM-167 -86l-22 11-20 19-44 56-9 17-2 8 1 8 4 17 17 30 25 29 33 29 34 18 58 17 92 20 33 5 34 2 42-1 16-3 17-6 25-17 20-23 13-25 7-25 3-33-1-25-6-25-7-17-12-17-19-16-23-12-25-9-34-9-41-8-142-20-34-1z"/>
<path fill="#4488c6" d="M-43 -459l35-4 25 0 83 6 31 6 103 38 100 72 8 9 29 40 38 42 11 16 8 17 33 92 4 25 10 100 0 83-2 42-30 109-9 20-39 47-36 55-13 11-45 34-42 36-22 14-35 17-27 10-41 12-76 12-41 4-34-1-100-15-25-5-26-9-82-40-51-42-50-37-12-15-29-46-34-40-8-14-19-58-26-59-8-50-4-50-2-42 3-25 8-33 18-50 57-109 73-92 17-14 72-52 20-13 108-44zM-159 -92l-25 9-16 13-57 70-8 17-2 8 0 8 5 17 20 35 25 30 33 29 17 10 17 8 58 15 100 21 59 6 42-1 16-3 17-6 25-15 20-20 13-23 10-27 5-34-1-25-3-25-10-25-10-17-17-16-15-10-25-11-34-10-42-8-150-22-33-1z"/>
<path fill="#438ec5" d="M-34 -459l34-4 17 1 83 6 34 7 100 37 100 72 12 14 23 34 40 44 10 14 7 17 34 92 4 25 10 100 0 92-2 33-31 109-7 18-41 49-34 53-15 13-43 32-42 37-25 15-34 16-25 10-41 12-117 16-34-1-100-15-25-5-25-9-83-40-51-43-50-37-10-13-26-41-39-47-6-12-17-50-28-67-10-58-4-59 0-33 4-25 11-39 17-44 53-101 74-92 15-13 33-22 41-31 18-12 108-44zM-167 -94l-17 7-8 5-17 18-51 64-9 17-1 8 0 8 5 17 17 33 31 38 17 16 16 13 17 10 17 7 66 17 92 17 67 6 42-2 25-6 26-15 16-14 9-11 14-25 7-25 5-34-1-33-5-25-10-25-12-17-16-14-19-11-31-11-33-9-42-8-150-20-34-1z"/>
<path fill="#4294c5" d="M-25 -459l25-3 25 1 84 8 25 5 100 37 100 73 33 46 42 46 8 12 8 17 34 92 14 125 0 92-3 33-30 109-7 16-42 51-32 51-17 15-41 30-42 38-17 10-42 21-26 10-40 12-117 16-34-1-100-15-25-5-25-9-83-40-51-44-50-37-9-11-31-50-35-40-5-10-16-50-29-67-9-58-6-67 1-25 4-25 10-36 17-45 29-53 26-50 73-92 90-66 16-10 108-45zM-150 -101l-17 3-15 6-18 14-63 78-9 17-2 8 1 8 4 17 19 35 25 33 33 33 27 16 40 12 108 21 42 7 42 3 42 0 33-7 25-13 26-23 15-25 9-25 5-34 1-33-3-25-8-25-12-21-19-21-14-9-25-10-33-10-42-9-150-21-34-2z"/>
<path fill="#419ac5" d="M-16 -459l24-2 92 8 18 2 27 8 90 34 99 73 31 44 44 48 7 10 10 22 25 66 8 27 13 127-1 84-2 33-33 117-10 17-37 42-30 49-8 9-50 36-51 44-57 29-34 12-34 8-88 13-29 2-25-1-108-16-42-13-83-41-51-44-50-36-38-60-29-33-12-17-18-58-20-42-8-20-9-64-5-58 1-25 4-25 9-32 17-46 31-56 25-50 74-92 53-38 37-28 14-9 108-44zM-167 -101l-17 6-8 5-17 17-58 73-9 17-1 8 0 8 5 17 22 41 33 42 25 24 17 11 16 8 59 13 108 19 75 6 42-2 25-8 25-15 17-14 8-10 13-23 10-33 4-34 0-33-4-25-9-25-14-22-16-17-17-10-26-10-41-11-42-8-150-19-42-1z"/>
<path fill="#40a0c3" d="M-5 -459l22 0 100 9 94 33 21 8 10 6 42 33 50 35 29 43 46 50 17 33 25 66 8 26 12 125-1 92-2 25-18 59-15 58-9 15-40 44-23 41-12 15-50 36-51 45-58 29-33 11-34 9-92 13-25 2-25-2-108-15-42-14-83-40-51-45-49-35-37-59-39-45-21-63-24-50-5-18-7-49-6-75 2-25 3-17 25-76 28-49 29-59 76-93 101-73 50-19 50-23 25-5zM-142 -109l-33 7-17 8-8 7-41 54-29 33-9 17-2 8 3 17 19 42 16 25 18 21 16 20 17 15 25 14 25 7 134 23 50 6 41 3 42-2 25-7 25-14 25-21 15-24 9-25 7-42 1-33-4-33-9-25-15-25-15-17-14-10-17-7-41-12-42-9-150-20-34-2z"/>
<path fill="#3fa5bd" d="M-59 -451l59-7 117 9 100 35 25 13 42 33 49 34 28 42 48 52 8 15 9 20 25 66 6 22 13 117-2 117-3 17-17 50-12 50-7 16-39 42-11 17-18 33-10 13-50 36-48 43-28 16-33 15-58 19-109 16-25 1-17-2-103-15-22-5-31-11-70-34-12-8-46-42-41-29-13-13-29-50-42-48-19-60-23-46-6-21-9-59-4-50-1-25 4-27 8-31 17-48 30-52 29-59 36-42 38-50 50-34 42-33 14-8 36-13 65-29zM-159 -110l-25 7-16 11-38 50-35 42-9 17-2 8 3 17 5 14 23 44 36 48 25 24 17 10 25 8 158 24 84 7 42-3 25-7 29-19 21-20 12-22 9-33 6-42 0-33-4-25-8-25-15-29-21-21-13-8-16-7-50-13-42-8-150-18-42-2z"/>
<path fill="#3ca9b7" d="M-49 -451l41-5 16-1 92 7 25 5 109 40 50 39 46 32 36 50 40 42 11 20 37 97 4 25 11 100-1 100-2 25-19 59-13 50-8 18-31 32-13 17-29 50-11 9-41 29-50 45-51 26-33 13-39 11-111 16-25-1-117-17-24-6-18-7-83-41-42-39-54-38-12-17-24-42-13-16-22-23-9-12-14-49-31-67-9-58-6-59-1-25 3-25 8-29 19-54 34-59 22-46 39-46 36-48 50-35 51-38 41-16 67-29zM-125 -117l-25 2-25 6-17 7-8 6-9 9-31 45-36 42-10 17-1 8 3 17 10 25 15 30 34 49 25 28 16 12 25 9 167 23 84 7 42-3 25-6 26-16 24-19 14-22 8-25 8-51 1-41-5-34-9-25-17-29-17-18-8-6-17-6-84-20-150-19z"/>
<path fill="#3baeb1" d="M-39 -451l47-5 101 9 21 4 104 39 50 40 44 30 8 8 27 42 41 42 6 8 7 15 36 94 14 125-1 100-2 25-19 59-12 50-7 16-34 34-13 17-27 50-51 36-51 46-50 26-25 10-41 13-117 16-25 0-109-16-25-5-17-6-78-37-13-8-42-39-52-36-7-9-28-50-14-16-24-25-9-15-15-52-29-59-9-58-6-59-1-25 3-25 7-25 21-58 33-59 21-44 40-48 35-46 50-35 51-38 50-19 58-26zM-150 -118l-34 8-16 10-14 17-29 41-37 42-9 17-1 8 3 17 11 28 15 30 36 55 25 28 16 11 25 7 34 3 150 19 75 5 34-1 25-6 16-8 20-13 20-16 6-9 9-16 8-34 6-50-1-42-6-33-10-25-18-31-17-17-8-5-17-5-58-13-42-7-150-17-34-1z"/>
<path fill="#3fb2aa" d="M-30 -451l38-3 92 7 27 4 107 41 50 40 42 28 8 8 27 42 42 42 6 8 8 17 35 92 14 125-1 100-2 25-17 50-15 59-8 16-41 42-33 59-48 33-54 50-50 25-38 14-34 9-117 16-16-1-117-17-17-4-22-8-84-42-44-42-50-34-9-10-21-39-11-17-34-36-8-14-14-50-29-59-11-67-5-58 0-25 5-25 25-75 34-59 19-41 42-51 33-44 9-7 41-28 51-39 50-19 58-26zM-167 -118l-25 9-17 13-37 54-37 42-9 17-1 8 9 32 25 56 34 53 14 18 11 9 16 10 17 5 42 1 192 21 50 2 25-2 25-6 40-24 17-16 12-25 9-50 3-42-2-42-4-25-17-38-16-28-17-16-17-7-83-15-150-18-59-3-25 2z"/>
<path fill="#48b5a3" d="M-22 -451l22-2 17 0 92 8 16 3 109 41 50 41 42 28 8 10 24 38 43 42 8 12 6 13 36 94 14 123-2 100-2 25-17 50-17 67-10 13-38 37-26 50-6 9-55 38-37 37-11 8-50 25-35 13-34 9-117 15-16 0-117-17-36-11-85-42-46-44-50-35-9-10-29-53-39-42-18-58-30-59-11-67-5-66 0-17 5-25 25-75 30-50 24-50 42-51 31-42 9-8 41-27 51-39 50-19 58-27zM-142 -126l-42 10-16 7-9 8-33 51-44 50-10 17 0 8 4 17 25 63 34 62 11 17 13 14 17 12 8 3 17 4 50-1 184 17 50 2 31-1 19-4 42-22 16-12 12-21 7-25 8-67-1-50-5-33-9-25-20-40-8-13-9-9-8-5-17-5-25-2-83-14-142-14-34-1z"/>
<path fill="#50b79a" d="M-13 -451l21-1 92 7 17 2 17 6 97 36 53 43 42 29 8 10 22 35 49 50 12 25 34 92 13 125-2 92-2 25-20 59-14 55-9 13-26 24-15 16-25 50-7 9-52 35-39 40-11 8-52 25-31 12-34 9-117 15-16-1-50-8-67-8-33-10-85-42-49-47-50-34-8-11-27-50-40-43-17-57-31-59-11-67-6-66 0-17 5-25 26-75 30-50 24-50 42-51 31-41 9-9 48-31 32-27 14-8 46-18 58-26zM-159 -127l-33 11-17 11-8 11-28 44-45 50-9 17 0 8 4 17 28 72 33 67 15 19 10 11 17 10 17 5 16 0 34-4 25 0 183 16 51 1 25-1 25-7 33-16 17-13 9-18 7-34 6-75-2-50-6-33-14-35-17-36-8-13-9-8-16-6-34-1-75-10-142-14-50-1z"/>
<path fill="#56b991" d="M-61 -443l61-8 109 9 25 6 83 31 17 8 42 35 50 35 27 43 48 47 11 20 38 100 12 117-2 117-4 17-18 50-12 50-4 8-6 8-28 26-12 12-9 14-16 37-9 10-50 35-42 42-12 8-51 25-53 18-109 16-33 0-59-10-58-7-17-4-31-13-67-33-11-9-41-40-50-35-32-58-14-17-21-19-8-12-15-52-27-49-7-18-10-66-4-43-1-25 3-25 10-35 17-46 31-52 28-55 33-37 37-50 10-9 45-29 42-33 50-20 58-27zM-134 -134l-25 4-25 7-16 8-9 6-13 17-25 42-45 49-9 18-1 8 4 17 22 63 29 70 13 24 17 19 17 12 10 4 15 2 16-1 34-7 33-1 59 3 125 11 50 2 25-1 17-3 41-14 13-8 6-8 4-9 6-25 6-92-1-50-3-25-6-21-33-84-8-13-9-5-8-2-50 2-209-20-33-1z"/>
<path fill="#5cbb88" d="M-49 -443l41-6 16 0 92 7 25 5 100 37 13 8 46 39 40 27 26 42 44 42 8 8 7 14 34 85 5 18 13 117-3 117-4 17-18 50-12 50-4 8-7 8-29 26-15 16-18 42-9 12-50 35-44 45-13 8-43 22-31 12-29 8-115 17-25-1-59-10-54-6-31-8-90-46-48-46-49-34-11-16-20-42-14-17-27-25-6-13-12-45-33-59-4-16-8-51-6-58 0-25 3-17 26-78 33-55 26-52 35-40 37-50 44-30 47-37 12-7 42-15 58-27zM-150 -135l-42 12-11 6-10 8-12 17-25 42-42 45-9 13-3 9 1 16 48 151 14 25 23 25 18 9 16 3 25-2 42-11 34-1 58 2 125 12 67 3 50-7 17-4 11-4 9-9 5-8 3-17 2-133-2-42-6-33-18-50-14-51-7-16-8-7-9-1-41 9-25 2-209-17-42 0z"/>
<path fill="#63bd7e" d="M-39 -443l47-5 92 8 25 4 100 38 10 6 41 35 45 31 7 9 19 33 16 17 29 25 9 10 8 15 33 83 5 17 12 117-2 117-4 17-16 41-16 59-3 8-8 8-31 26-8 8-10 17-10 28-9 14-8 8-42 27-47 48-13 8-40 20-33 13-34 9-117 16-133-18-34-11-83-43-42-42-52-36-7-8-19-42-10-16-37-36-6-15-6-25-6-16-33-59-8-35-10-90 0-25 2-17 25-75 35-58 24-50 37-42 38-50 41-28 50-39 9-5 42-15 58-28zM209 -153l-42 18-17 4-16 2-51-2-150-12-58 1-25 4-25 6-17 6-17 10-14 16-29 50-40 42-9 10-6 15 2 16 16 50 13 51 10 58 9 17 20 25 12 11 8 6 8 3 17 2 25-1 50-15 34-4 66 2 192 17 67-2 9-3 15-8 7-8 4-9 0-8-7-42-2-25 0-83-3-50-5-25-22-67-11-75-2-3-8-2z"/>
<path fill="#6dbe76" d="M-30 -443l38-3 92 7 26 5 99 38 17 12 34 30 41 28 9 10 18 32 16 17 32 28 9 10 8 17 36 95 13 125-3 109-4 17-19 50-13 50-10 14-36 28-7 8-8 17-9 25-10 16-47 33-50 51-50 27-33 13-34 9-117 15-16-1-59-10-58-6-34-11-83-44-42-43-50-34-8-11-26-54-8-10-25-22-8-10-14-50-35-59-5-16-8-51-7-66 2-25 4-17 20-59 7-16 31-50 25-50 36-42 36-48 50-33 33-28 17-11 42-15 58-28 17-4zM225 -178l-50 29-16 7-17 5-42 1-158-11-51 0-33 4-25 5-25 9-17 9-16 19-30 51-46 48-6 10-2 9 1 16 14 42 10 50 2 25-3 42 4 17 47 48 9 5 16 4 42-3 17-4 33-14 17-3 25-2 92 4 217 23 8 0 17-4 22-13 11-9 4-7 0-9-14-33-7-33-3-34 0-67-3-41-5-25-17-50-5-25-1-42 2-42-3-8-6-4z"/>
<path fill="#77bf6d" d="M-20 -443l20-2 17 1 83 7 25 4 100 39 15 10 36 32 41 30 9 11 14 27 16 17 36 30 9 12 8 17 35 91 13 125-4 109-4 17-19 50-13 47-8 14-42 30-7 9-18 49-7 9-43 29-16 16-27 30-10 9-47 25-33 13-34 9-117 16-16-1-59-10-58-7-17-4-17-7-80-43-45-45-50-35-8-12-21-49-13-16-22-18-7-8-4-9-5-25-6-16-36-59-5-16-7-39-9-78 1-19 5-23 20-59 8-16 31-50 25-50 36-42 34-45 8-7 42-27 36-30 14-9 50-19 50-24 17-4zM225 -192l-58 38-17 7-16 4-51 1-141-9-51 0-33 4-25 6-25 9-17 9-16 17-32 56-42 42-10 16-3 17 17 58 4 26 2 25-2 16-4 17-21 42-1 8 1 8 7 5 33 10 42 33 17 4 17-1 41-8 45-18 39-5 75 1 109 11 133 21 8 0 17-6 38-22 8-8 2-8-23-42-11-33-4-34-1-67-3-41-5-25-16-50-5-25 0-42 6-50-3-10-8-9-8-1z"/>
<path fill="#83bf64" d="M-10 -443l27 0 97 9 92 33 19 9 9 5 42 38 41 31 19 34 6 7 50 43 9 12 6 13 35 92 13 125-3 109-5 17-17 41-13 50-8 15-8 8-32 19-10 9-5 8-12 42-8 13-50 36-42 46-20 13-33 17-30 12-34 9-117 16-16-1-59-11-58-6-33-11-77-42-10-8-39-41-39-26-10-8-9-17-11-33-8-17-7-8-24-18-9-9-15-48-38-59-5-16-9-49-7-68 0-17 6-25 18-55 8-18 28-44 30-58 34-39 34-45 9-8 41-26 39-33 11-6 42-16 50-25 25-7zM242 -210l-17 6-58 41-17 8-16 4-25 3-26 1-133-8-59 0-25 3-33 8-25 9-19 10-16 16-22 42-11 17-41 40-11 18-2 17 16 58 3 42-2 17-7 17-22 27-7 14-2 17 3 17 8 8 32 7 16 6 34 27 8 4 9 1 16-2 45-9 55-22 34-5 75 1 117 11 83 17 42 10 8 0 14-4 53-28 9-12 0-10-29-50-7-17-6-25-2-25-3-67-4-42-6-25-13-41-4-25 1-42 7-50-1-10-9-21z"/>
<path fill="#8fbe5d" d="M-55 -434l47-7 16-1 92 7 25 6 100 39 9 6 42 39 33 24 8 9 15 28 7 8 45 37 8 8 9 14 39 100 13 117 0 42-3 75-5 17-17 41-15 50-4 10-8 9-17 10-30 13-7 9-5 33-5 17-4 8-9 8-23 15-17 14-42 48-23 15-33 17-21 8-31 9-117 18-25-1-59-10-58-6-30-10-79-43-8-7-25-29-17-16-44-30-7-8-6-17-14-50-8-9-29-17-9-14-4-19-6-16-41-59-7-25-9-50-5-50-1-25 3-17 20-58 8-20 30-47 29-56 33-38 37-48 9-8 38-24 50-39 42-16 58-29 17-4zM250 -229l-25 14-58 44-17 8-16 6-25 3-26 1-141-7-59 2-25 4-33 9-25 10-15 10-15 16-29 54-11 13-35 34-10 16-2 9 2 16 10 34 5 25-1 33-4 17-5 8-7 10-29 24-3 8 0 33 4 17 3 3 6 5 10 4 25 4 17 5 17 11 22 18 11 5 17-2 58-15 42-18 17-5 33-4 75 1 109 11 75 17 50 15 17-2 67-29 8-7 2-9-2-16-8-17-26-42-6-16-6-25-9-126-22-83-1-17 2-25 7-58-6-50z"/>
<path fill="#9bbd55" d="M-43 -434l51-6 101 8 22 6 86 34 17 11 33 32 40 32 7 8 13 25 7 8 44 34 16 17 15 31 30 77 12 117 1 25-3 75-3 25-23 59-14 44-8 11-9 6-25 9-8 0-8-3-18-34-25-42-13-33-5-33-7-101-6-25-13-41-4-25 3-42 6-42 0-42 3-16 7-17-1-8-2-3-9 0-17 8-75 61-25 14-16 6-25 4-26 2-141-6-59 2-33 6-25 8-25 10-17 10-17 19-25 51-14 16-36 34-8 16-2 17 12 42 3 25-1 25-4 17-8 13-9 8-36 20-4 9 1 33-2 9-9 4-8-3-8-10-5-17-7-16-39-48-8-15-6-21-10-58-6-50 0-17 6-25 25-67 31-50 27-52 35-40 30-42 10-10 42-27 42-34 16-9 42-17 50-25 17-4zM-85 259l35-3 50 1 109 11 50 10 83 26 17-1 42-17 16-4 9 1 9 9 1 9-1 16-8 17-43 32-44 51-11 9-29 17-33 14-33 10-126 18-16-1-59-11-58-6-25-7-18-9-59-34-11-8-38-42-16-14-34-22-8-14-4-16-2-17 1-8 5-8 8-2 17 1 17 4 16 9 29 21 13 4 25-5 59-18 41-18z"/>
<path fill="#a8bb4f" d="M-32 -434l40-4 101 8 17 4 86 34 22 13 33 34 34 28 8 8 12 25 6 8 10 9 39 26 16 17 9 15 36 92 13 134-3 83-3 25-21 50-14 44-8 14-9 7-16 6-9 0-9-4-7-8-36-59-8-16-8-25-5-34-7-92-5-25-14-41-4-25 2-34 7-50 2-42 5-16 7-17 1-8-4-10-8-4-9 1-17 8-58 51-25 18-17 9-25 8-25 4-25 1-125-5-59 2-25 4-25 6-25 9-25 11-15 12-10 11-22 47-11 16-38 34-12 18-5 16 0 8 12 42 3 33-5 25-11 17-19 13-27 12-15 15-8 0-9-5-16-16-26-30-10-22-11-59-7-58 1-25 11-35 16-45 39-62 21-42 36-42 38-49 42-27 50-40 50-21 50-25 19-5zM-102 267l35-6 42-1 42 1 59 6 41 6 33 7 41 12 51 19 17 0 42-14 16-1 9 6 2 15-3 9-6 8-35 26-47 57-41 26-29 12-33 10-126 19-16-2-59-10-58-6-17-4-17-8-75-45-42-48-16-13-23-14-9-8-7-17-1-17 3-8 3-4 9-3 8 0 17 4 42 27 16 4 17-3 17-5 50-17z"/>
<path fill="#b3ba49" d="M-21 -434l38-2 92 8 25 7 83 33 17 12 67 66 11 26 6 8 10 9 48 29 16 17 9 16 34 88 13 117 1 25-3 75-3 21-23 54-15 42-4 9-9 8-16 5-9-2-8-5-27-40-15-25-8-19-7-23-5-33-8-92-17-58-4-25 1-26 8-58 3-42 16-41 1-9-4-8-9-5-17 1-17 7-16 13-36 34-23 18-25 15-25 9-25 4-25 2-117-4-67 2-25 4-25 6-50 21-16 12-10 11-24 50-8 13-41 37-12 17-3 8-1 17 12 42 2 25-5 25-11 18-16 12-42 20-8 2-9-2-16-12-26-28-8-18-12-59-7-58 1-25 26-76 9-16 27-42 23-44 8-12 32-36 35-46 50-33 42-34 42-18 58-29 25-6zM-82 267l32-3 50 0 92 9 33 5 25 6 34 11 58 22 25 1 34-8 8 0 6 7-2 9-37 36-34 47-20 17-29 17-26 11-33 10-126 18-16-1-50-10-67-7-17-4-20-9-68-42-12-12-34-43-40-28-5-9-2-8 0-8 6-10 8-2 8 1 9 2 33 21 9 3 8 2 17 0 25-8 91-36z"/>
<path fill="#beb745" d="M-9 -434l34 0 88 8 21 7 75 30 21 13 55 59 7 8 3 8 1 9-4 5-25 7-17 8-16 12-35 35-24 19-25 15-25 10-25 4-25 2-117-3-75 3-25 5-25 8-33 14-17 9-16 14-6 8-28 59-9 10-36 31-11 17-4 17 0 8 12 42 1 16-3 26-9 16-16 15-42 18-8 2-9-1-8-4-25-22-9-11-5-13-15-67-5-42-1-25 10-34 18-50 9-16 28-42 27-50 30-33 38-51 9-8 41-26 42-34 42-18 50-26 16-7zM309 -259l8-4 25 8 25 14 19 16 6 8 9 17 27 66 7 25 12 117 0 34-4 67-7 25-16 33-19 49-9 10-8 4-8 1-9-3-8-8-30-45-16-33-10-42-10-100-20-75-1-25 9-67 2-33 4-17zM-33 267l66 3 67 7 34 6 50 17 50 21 42 9 6 4-2 8-29 50-12 17-21 17-29 17-22 9-33 10-126 19-16-2-50-10-67-6-17-4-17-8-66-42-16-17-26-39-9-9-25-18-8-9 0-9 8-3 9 2 25 14 8 3 17 2 17-2 25-8 100-40 33-7z"/>
<path fill="#c9b546" d="M-52 -426l44-6 25-1 83 7 34 8 66 27 25 14 18 18 27 33 11 17 0 8-8 9-23 12-16 12-42 42-17 14-25 15-25 9-25 5-25 2-117-2-75 4-42 10-58 26-17 14-9 12-17 42-9 17-8 8-32 27-12 15-5 8-3 8-1 17 12 42 1 16-2 17-7 17-8 9-10 8-40 17-17 1-16-8-20-19-6-9-5-16-13-58-7-50 0-17 9-30 20-54 37-58 26-47 32-36 39-51 46-31 42-34 50-22 38-21 20-8zM315 -250l11-4 16 4 25 12 17 14 14 24 28 66 8 33 11 118 0 33-5 59-6 22-21 44-12 29-9 13-8 4-8 0-8-4-9-9-25-36-17-34-6-21-5-25-10-100-20-67 0-25 11-100 9-25 13-21zM-79 276l37-4 50-1 84 9 42 7 50 17 75 35 4 3 2 9-2 8-11 25-17 25-21 17-28 17-19 8-33 9-67 10-50 9-25-1-42-9-67-6-25-6-28-14-38-26-17-13-12-12-18-33-3-8 1-9 7-4 41-12 100-43z"/>
<path fill="#d2b249" d="M-39 -426l39-5 25 0 75 7 34 9 75 31 13 8 17 17 24 33 5 9 1 8-2 5-1 3-10 9-31 24-41 43-25 17-25 11-25 7-26 3-116-2-84 5-42 11-58 26-17 13-13 17-16 42-9 17-39 33-8 8-10 17-3 8 0 17 10 33 2 17-4 25-9 17-18 14-33 14-17 1-16-7-17-16-9-14-3-9-13-58-7-50 0-17 7-25 25-64 35-53 23-42 34-39 26-36 15-17 42-27 42-34 50-24 43-23 15-6zM315 -242l11-6 16 2 25 12 17 14 12 20 28 66 8 34 11 117 0 33-5 59-8 25-29 57-9 14-8 5-8 0-9-5-8-9-25-37-15-34-10-42-9-91-20-67-1-25 12-100 10-24zM-40 276l40-1 33 2 76 9 41 10 42 17 55 29 7 9 1 8-4 17-8 16-12 17-21 17-35 20-16 6-34 8-50 7-67 11-16-2-59-11-58-5-17-5-24-12-49-34-9-8-13-17-7-17-1-8 1-8 11-9 124-54 34-9z"/>
<path fill="#dcb04c" d="M-26 -426l43-3 83 7 25 6 60 24 32 16 18 17 12 17 9 16 3 9-1 8-5 8-28 25-41 44-25 18-25 11-25 7-26 3-116-2-84 6-42 11-66 32-14 12-11 17-16 42-9 17-40 33-11 13-6 12-4 17 1 8 10 33 2 17-3 18-7 16-9 10-9 6-33 13-17 2-16-7-17-15-9-18-14-58-7-50 0-17 5-21 25-64 38-57 24-42 71-88 42-27 43-35 49-24 42-23 16-7 19-4zM330 -242l12 0 17 7 15 10 10 10 9 15 25 58 8 21 4 21 11 125 0 25-6 59-4 16-14 26-25 40-8 7-8-1-9-5-8-8-18-25-17-34-7-22-5-28-7-83-4-17-15-42-3-16 0-26 11-83 3-17 10-16 7-9 12-7zM-77 284l44-5 50 0 83 9 34 7 50 19 49 28 9 9 5 8-1 17-7 16-12 17-20 17-32 18-19 7-31 8-50 6-67 11-66-12-59-5-25-5-21-11-35-26-21-16-7-9-8-16-2-9 1-8 7-8 45-25 49-24 34-13z"/>
<path fill="#e4b04c" d="M-12 -426l37-1 84 8 30 10 59 25 15 8 10 9 14 16 12 25 1 9-2 8-64 70-25 19-25 11-25 7-26 3-108-2-92 7-25 6-17 6-66 32-17 14-8 11-8 16-11 34-7 13-43 37-13 17-4 8-2 8-1 17 13 42-1 16-7 18-8 11-9 6-25 12-16 4-9 0-16-6-9-6-8-11-9-18-12-51-8-50 0-17 4-17 27-67 33-50 30-50 29-33 39-50 42-28 50-39 100-52 26-5zM323 -234l11-3 17 2 16 8 17 16 8 15 25 58 8 21 3 17 11 125 0 25-5 51-7 24-10 19-16 25-9 10-8 5-8 0-9-5-8-9-20-28-13-28-6-22-5-25-5-75-4-17-16-42-4-16 1-26 12-91 10-22zM-38 284l38-2 28 2 81 10 41 10 46 22 36 25 6 8 2 8-2 17-8 17-7 8-20 17-29 17-24 8-25 6-50 6-67 12-66-13-59-4-25-6-18-9-23-17-21-17-15-17-7-16 0-9 4-8 8-8 27-17 31-17 47-20 34-9z"/>
<path fill="#e7b74a" d="M-54 -417l46-7 25-1 83 7 25 6 67 28 25 15 9 10 11 17 5 16 0 9-4 8-6 8-52 59-21 15-25 12-25 7-26 3-108-2-100 9-34 10-74 38-10 8-12 17-21 59-8 9-39 32-7 8-9 17-3 8 0 17 13 42-2 16-8 17-8 9-12 8-25 9-17 2-16-6-9-6-8-12-9-20-11-42-7-50 0-17 10-33 21-51 34-50 26-41 69-87 17-13 25-15 44-36 40-20 50-30 16-7 17-5zM319 -225l15-7 8 0 17 5 17 11 11 16 14 29 16 39 9 31 4 68 7 58 0 25-4 42-6 25-10 20-16 22-9 8-8 4-8-1-9-5-8-8-17-22-13-26-6-26-4-25-3-58-3-17-19-50-4-16 1-26 12-91 6-14zM-74 292l41-4 50-1 83 9 34 7 41 16 37 23 17 17 4 8 0 17-8 17-6 8-20 17-30 17-44 12-58 7-59 11-58-11-67-6-25-6-14-7-23-17-28-25-9-17-1-8 1-9 6-8 9-8 38-25 54-25z"/>
<path fill="#e7bf49" d="M-38 -417l38-5 25 0 67 5 35 8 59 25 16 8 11 9 8 8 10 17 4 16-1 9-5 8-47 59-23 17-25 12-25 7-26 3-100-3-100 8-17 4-25 9-75 38-15 13-11 17-15 50-4 8-7 9-41 33-12 17-4 8-3 8 0 17 13 42-2 16-7 13-17 14-25 10-17 2-16-6-9-7-6-9-11-25-9-33-8-50 0-17 9-28 23-56 61-89 30-36 39-50 14-11 25-15 50-40 25-12 59-36 16-8 17-4zM330 -225l12-3 9 2 16 8 11 9 14 25 17 38 8 21 6 25 5 67 7 58 0 25-5 42-4 19-9 18-16 20-9 6-8 3-8-1-17-12-15-20-10-19-7-23-4-25-4-75-5-16-15-34-5-16 1-26 12-91 4-9 6-8zM-28 292l45-1 75 8 33 6 25 8 34 16 28 22 13 18 2 15-2 8-11 17-9 8-23 17-18 9-39 10-58 7-59 11-66-13-59-4-18-3-18-8-22-17-19-17-12-17-2-8 0-8 3-9 6-8 18-17 22-14 34-16 25-9 33-7z"/>
<path fill="#e7c847" d="M-22 -417l39-3 66 4 34 6 25 9 50 23 17 11 7 8 10 17 2 16-2 9-30 41-21 25-16 12-25 12-25 6-26 3-100-3-100 8-25 7-17 6-43 25-35 16-13 11-11 14-7 17-8 34-7 16-43 36-12 14-9 17-3 8 0 17 13 42-1 8-4 12-12 13-22 11-25 4-16-5-9-8-6-10-11-27-8-33-7-40 0-17 7-23 25-59 59-84 75-92 33-21 50-41 34-17 46-30 20-11 25-6zM325 -217l9-4 17 0 16 8 9 7 8 12 17 35 14 34 4 16 4 34 2 42 7 50 1 25-2 16-5 39-7 20-10 15-8 8-9 5-8 2-8-3-17-11-13-16-8-17-8-25-4-25-1-67-5-16-16-34-6-16 0-26 11-83 7-17zM-69 301l52-5 34 0 83 8 34 7 41 18 29 22 13 16 4 9-1 16-4 9-15 16-23 17-19 8-34 9-58 7-50 10-21 0-54-12-67-5-24-8-22-17-24-25-4-9-1-8 4-17 6-8 15-14 31-19 35-16z"/>
<path fill="#e6d046" d="M-2 -417l38 0 64 6 25 6 30 13 35 16 12 9 9 8 5 8 6 17-1 8-3 9-23 33-20 25-16 13-25 12-17 5-25 4-25 1-59-5-25 0-108 10-34 12-41 25-42 20-14 12-11 16-6 17-7 34-4 11-8 10-27 20-15 15-8 10-10 17-2 8 0 17 13 42-2 8-4 8-12 14-17 8-25 4-8-2-8-4-9-8-6-12-11-27-12-64-1-17 5-18 25-59 9-15 58-78 21-22 46-59 9-8 33-20 41-34 34-19 50-34 16-9 17-5zM324 -209l10-6 8-2 9 1 16 7 9 9 8 13 17 35 11 27 5 20 4 30 1 42 7 58-1 33-3 25-8 28-8 13-8 8-9 4-8 0-17-6-13-13-12-20-7-22-4-25 1-58-2-17-21-42-6-16 0-26 10-75 4-16zM-1 301l18 0 92 8 25 6 25 10 28 17 10 9 13 16 4 9 2 8-5 17-6 8-19 17-13 8-22 9-26 6-58 7-59 11-66-13-59-4-17-3-11-4-23-17-16-17-5-8-3-9-1-8 5-17 14-16 32-22 33-15 26-6 25-4z"/>
<path fill="#e5d845" d="M-43 -409l43-6 25 0 67 5 25 5 50 21 29 17 15 16 4 17-1 8-4 9-16 25-19 25-16 15-25 12-17 5-25 4-25 0-75-7-117 10-17 5-17 8-50 30-37 18-19 17-10 16-4 17-5 34-3 8-6 8-41 35-13 15-10 17-3 17 3 16 9 25 1 9-4 11-12 14-21 9-17 1-8-1-8-5-10-13-16-37-11-63 3-19 17-42 10-22 15-23 50-64 28-30 30-41 17-18 34-20 41-36 34-19 58-41 25-10zM334 -209l8-2 17 3 8 6 9 9 8 13 17 35 8 20 6 25 3 25 0 42 9 58-1 32-9 43-8 15-8 8-9 4-8 0-17-7-11-11-9-17-6-17-5-25 0-17 3-41-1-17-8-17-15-25-7-16-1-26 10-75 7-16zM-56 309l73-3 75 6 42 8 32 14 24 17 10 12 8 13 2 8-1 8-3 9-14 16-25 18-42 11-58 8-50 10-17 0-58-12-59-4-17-3-19-11-19-17-12-16-3-9 0-8 6-17 14-16 25-17 25-12 25-8z"/>
<path fill="#e5df43" d="M-23 -409l31-3 34 0 50 4 30 7 38 17 32 19 12 14 4 9-1 16-19 34-21 25-17 13-25 10-25 5-25 1-58-8-25-1-117 8-25 9-59 36-41 21-18 14-12 17-5 17-3 33-4 17-7 8-39 34-14 16-10 17-4 17 3 16 8 25 1 9-3 8-10 11-17 8-17 1-8-2-8-5-9-11-11-27-6-18-9-49 3-16 15-39 13-28 12-18 50-60 30-31 38-50 15-13 34-22 33-29 34-21 39-32 27-16 26-9zM333 -200l9-4 9 0 8 2 8 6 9 10 25 48 9 29 4 34 0 42 9 58 0 25-6 34-6 16-10 14-9 4-12-1-13-7-9-10-9-17-6-25-2-16 7-67-3-8-28-41-5-18 0-25 9-58 5-16zM-83 317l33-3 67-1 75 3 33 6 32 12 25 17 10 10 10 15 2 8 0 8-3 9-13 16-11 9-15 8-28 9-76 10-41 8-17 0-58-12-59-3-17-3-15-9-11-8-14-17-7-17 3-16 11-17 20-17 30-15z"/>
<path fill="#e5e641" d="M3 -409l40 0 57 6 25 7 28 12 29 17 10 8 6 8 3 9 1 8-5 17-13 21-17 21-17 14-25 11-25 4-25 1-75-13-75 6-50-2-17 6-67 43-50 25-23 21-10 17-3 17 1 33-5 17-45 42-20 25-8 16-1 17 10 33 0 9-4 8-12 8-13 4-9 0-8-2-8-6-9-12-8-19-14-56-1-17 6-20 17-39 9-16 16-23 76-77 33-43 15-16 35-25 39-33 28-19 46-40 20-13 17-6zM336 -192l6-4 9-1 8 3 8 6 9 10 25 49 8 29 1 25-1 42 9 50 1 33-2 17-8 25-8 12-9 4-8 1-8-3-8-6-9-12-6-13-4-17-2-25 4-23 10-35-2-8-30-34-5-8-7-17 0-25 6-42 4-16zM-98 326l23-5 33-2 117 1 42 4 30 10 28 17 9 8 12 17 2 8 1 8-3 9-13 16-11 9-17 8-30 8-58 7-50 10-17-1-58-11-67-5-20-8-18-17-10-16-2-17 8-17 16-16 26-15z"/>
<path fill="none" stroke="#000" stroke-width="13.5" stroke-linejoin="round" d="M-19 -417l19-3 17 0 25 1 41 4 17 2 17 3 24 9 37 17 17 8 14 10 8 10 4 5 4 9 2 8 0 8-3 9-5 8-25 33-19 23-8 7-8 6-13 6-12 5-25 7-26 3-25 0-50-4-25 0-25 2-41 4-26 2-16 2-17 5-17 7-45 26-21 9-14 7-11 10-7 7-5 8-7 17-7 34-3 8-4 8-9 9-22 16-12 10-13 15-9 17-2 8-1 9 0 8 2 8 10 25 1 9-1 8-3 10-9 11-5 4-11 7-9 3-16 4-9 0-8-1-8-4-9-8-5-9-3-5-9-23-6-22-2-13-6-37-1-9 0-8 7-22 17-42 8-17 9-14 29-39 21-31 8-11 22-24 28-38 8-10 9-9 14-10 19-11 37-31 13-9 34-18 47-31 19-10 26-7zM327 -217l7-3 8-1 9 1 8 2 8 6 9 7 8 12 17 35 13 33 5 16 4 34 1 42 6 41 2 17 0 17-1 16-5 36-8 23-9 14-8 8-9 4-8 1-8-2-9-4-8-7-11-14-9-17-5-14-3-11-4-25 0-17 0-33-1-17-5-16-16-34-6-16-1-9 1-17 11-83 3-8 4-9zM-61 301l53-4 25 0 83 8 17 3 17 4 25 10 16 8 18 12 10 9 13 16 3 9 1 8-1 8-4 9-6 8-9 8-10 9-13 8-18 8-34 9-50 5-55 12-12 1-10-1-31-8-25-4-59-4-17-3-14-6-12-9-20-17-8-8-6-8-4-9-1-8 2-8 3-9 6-8 8-8 10-9 13-8 32-17 16-6 17-5zM-22 -451l22-2 17 0 92 8 16 3 90 33 19 8 50 41 42 28 8 10 13 21 11 17 8 8 35 34 8 12 6 13 36 94 3 14 6 67 5 42-2 100-2 25-2 9-15 41-5 17-7 33-5 17-10 13-22 21-16 16-10 17-16 33-6 9-11 8-27 17-17 13-37 37-11 8-50 25-35 13-34 9-92 13-25 2-16 0-59-10-58-7-17-4-19-7-69-34-16-8-9-9-21-20-16-15-50-35-9-10-18-36-11-17-15-17-17-17-7-8-4-8-8-34-6-16-8-17-14-26-8-16-3-16-8-51-4-41-1-25 0-17 5-25 18-59 7-16 30-50 24-50 7-10 35-41 31-42 9-8 41-27 39-31 12-8 50-19 48-23 10-4 17-3 50-6zM-142 -126l-25 5-17 5-16 7-9 8-8 12-25 39-13 17-31 33-6 8-4 9 0 8 4 17 16 44 9 19 34 62 11 17 13 14 9 6 8 6 8 3 17 4 17 0 16-2 17 1 67 5 117 12 50 2 31-1 19-4 11-5 31-17 8-5 8-7 9-12 3-9 7-25 6-41 2-26 0-25-1-25-2-16-3-17-9-25-20-40-8-13-9-9-8-5-8-3-9-2-25-2-41-8-42-6-142-14-34-1zM-72 -468l55-6 25-1 59 3 42 5 32 8 51 16 33 14 25 13 59 41 17 12 16 14 14 15 61 76 15 24 15 34 18 50 9 33 6 42 6 75 1 58-1 42-1 17-3 17-17 66-10 34-11 25-10 15-26 35-24 33-17 21-16 16-69 55-15 11-17 11-25 13-16 8-34 13-41 11-59 10-42 5-33 1-50-5-67-11-25-5-17-5-19-7-20-8-27-13-25-14-11-6-22-17-59-47-17-15-18-22-49-66-16-26-8-16-34-91-8-26-7-42-3-42-1-58 2-17 3-16 5-17 8-25 9-25 8-17 44-83 15-25 46-59 22-25 24-21 67-48 16-10 17-8 75-31 25-8zM-159 -50l-16 6-9 5-8 6-8 8-13 17-12 16-3 9-2 8 2 8 3 9 8 14 8 9 20 18 26 17 16 9 19 8 48 17 57 16 31 9 25 5 17 2 17 0 16-1 17-3 17-4 8-4 9-6 8-9 10-14 7-16 5-17 1-9 0-16-3-17-6-17-6-10-5-6-8-9-12-8-18-8-24-9-32-8-34-7-126-20-25-2-16 2zM-44 -493l86-2 25 1 33 5 75 18 25 8 34 16 54 30 29 19 17 14 17 17 33 33 17 18 12 15 13 19 29 48 9 17 7 17 9 25 18 75 5 33 1 17 1 50 4 50 1 25-4 34-14 83-7 25-11 25-31 59-16 25-13 16-15 17-48 49-17 15-26 20-74 46-17 9-25 9-50 11-50 13-25 4-17 1-25 0-67-1-25-3-25-4-92-23-25-9-16-9-73-44-28-20-25-23-55-58-20-25-17-27-31-56-8-17-6-17-8-25-18-66-7-34-2-25 2-92 2-16 6-25 34-84 11-25 15-25 36-57 12-18 13-17 15-17 35-34 16-15 17-14 30-20 62-35 33-16 34-11 67-17 16-3zM-63 -518l21 0 42 4 50-6 17 0 25 4 33 11 16 4 34 4 17 3 17 5 8 4 8 5 34 23 17 8 33 13 17 10 16 15 22 27 12 12 37 30 15 16 11 17 20 42 30 42 8 16 6 17 3 17 3 34 5 16 9 25 6 25 1 25-4 36 0 14 0 8 9 42 2 17-1 8-4 25-7 25-4 17-1 17 0 25-2 16-4 17-7 17-10 16-17 26-4 9-12 32-9 17-5 8-6 9-10 9-33 27-9 8-25 33-16 18-9 7-16 10-34 15-12 6-12 9-26 21-8 6-9 4-16 7-17 3-33 3-17 3-10 3-32 12-25 6-25 2-50-6-50 4-17-1-25-5-50-18-17-3-25-3-16-3-17-6-8-4-17-11-34-26-8-5-37-17-21-13-17-16-21-29-12-14-34-27-10-9-7-9-10-16-21-50-10-16-19-26-9-17-3-8-6-25-4-34-2-8-15-42-5-17-1-8-1-25 6-42 1-8-4-42 0-16 1-9 4-16 8-17 18-34 6-16 9-34 3-8 8-17 11-16 19-23 8-11 20-42 14-20 16-17 34-26 33-38 17-14 16-10 42-19 11-6 31-22 8-5 9-4 16-6 50-9 42-15 17-4zM584 329l-7 13-9 10-9 7-25 17-9 8-8 8-8 10-7 15-12 34-6 10-8 11-8 7-9 5-16 7-30 10-12 6-9 6-8 8-8 9-18 29-6 9-10 9-12 7M-315 584l-11-3-8-5-11-8-7-9-6-8-15-25-7-8-12-11-17-10-42-14-11-7-9-8-7-9-5-8-4-8-11-34-9-17-7-8-9-8-36-27-7-7-6-8-5-8-5-17-2-46"/>
</g></g>
<circle cx="348.5" cy="116" r="55.85" fill="none" stroke="#000" stroke-width="1.8"/>
<path d="M560.0 61.0 L569.6 50.6 L579.5 61.0" fill="none" stroke="#000" stroke-width="1.3" stroke-linejoin="miter"/>
<path d="M514.3 108.5 C512.8 107.0 509.8 106.5 508.3 109.5 C507.5 113.0 508.3 119.0 507.3 125.0 C506.8 129.0 508.8 131.8 511.3 131.8 C512.8 131.8 513.8 130.5 514.8 129.0" fill="#fff" stroke="#000" stroke-width="1.3"/>
<path d="M625.7 108.5 C627.2 107.0 630.2 106.5 631.7 109.5 C632.5 113.0 631.7 119.0 632.7 125.0 C633.2 129.0 631.2 131.8 628.7 131.8 C627.2 131.8 626.2 130.5 625.2 129.0" fill="#fff" stroke="#000" stroke-width="1.3"/>
<clipPath id="cA2"><circle r="562"/></clipPath>
<g transform="translate(570 116) scale(0.1)"><g clip-path="url(#cA2)" fill-rule="evenodd">
<circle r="567" fill="#44379a"/>
<path fill="#463ca1" d="M-51 -559l68-6 66 1 92 7 176 22 50 11 50 15 58 22 75 33 0 1038-1168 0 0-871 108 23 17-4 16-11 17-16 67-75 59-73 24-25 30-25 41-25 46-20 50-13z"/>
<path fill="#4741a7" d="M-55 -551l72-6 66 1 92 9 176 23 50 11 50 17 58 24 75 34 0 1022-1168 0 0-860 108 22 8 0 12-5 13-8 26-24 66-74 63-78 26-25 20-16 42-26 50-22 50-13z"/>
<path fill="#4946ad" d="M-62 -543l70-6 67 1 92 9 184 25 50 13 47 17 58 25 78 37 0 1006-1168 0 0-851 100 21 16 0 17-6 17-11 22-21 68-75 61-75 24-24 21-18 38-24 41-20 50-15z"/>
<path fill="#4a4bb3" d="M-69 -534l77-7 67 2 84 9 192 27 41 11 51 18 58 27 83 42 0 989-1168 0 0-841 58 13 42 6 25-2 16-8 17-12 25-24 67-74 58-71 22-22 20-17 34-22 41-21 42-14z"/>
<path fill="#4a50b7" d="M-75 -526l75-7 67 2 83 9 192 28 50 14 51 19 55 27 86 46 0 972-1168 0 0-831 58 12 42 5 25-3 16-7 17-11 27-25 69-75 63-74 37-34 37-25 34-17 42-16z"/>
<path fill="#4b56ba" d="M-80 -518l30-4 42-3 75 2 83 9 117 20 75 10 42 12 51 21 58 29 91 51 0 955-1168 0 0-822 58 12 33 4 25-2 29-10 24-16 27-26 62-67 64-74 37-35 33-23 33-17 42-16z"/>
<path fill="#4b5bbe" d="M-1 -518l51 2 67 7 150 25 59 7 25 6 41 14 50 23 62 33 80 48 0 937-1168 0 0-813 58 11 33 4 25-2 25-8 29-18 28-25 69-73 66-77 26-24 25-18 41-24 50-20 51-11z"/>
<path fill="#4b60c0" d="M-29 -509l62 0 67 6 242 40 42 15 50 23 57 33 93 57 0 919-1168 0 0-804 50 10 41 3 34-4 25-10 31-21 27-25 64-67 62-72 25-24 25-19 41-25 42-17 42-12z"/>
<path fill="#4b66c3" d="M-43 -501l60-1 75 7 67 10 108 20 50 7 25 6 46 18 49 25 56 33 91 59 0 901-1168 0 0-795 50 9 41 3 34-5 25-10 31-20 29-25 65-67 65-75 19-17 25-21 33-21 42-20 42-14z"/>
<path fill="#4a6bc5" d="M-51 -493l59-1 84 7 58 9 100 20 59 9 25 5 42 16 51 27 55 34 102 69 0 882-1168 0 0-787 50 10 41 2 34-5 33-15 34-23 38-33 53-56 59-67 42-38 33-22 35-18 44-16z"/>
<path fill="#4771c6" d="M-54 -484l29-3 33 1 84 7 58 10 100 20 59 10 25 6 42 18 55 31 52 33 101 72 0 863-1168 0 0-778 50 9 41 2 34-6 33-14 34-22 49-42 42-43 64-74 37-34 33-22 33-18 42-16z"/>
<path fill="#4577c6" d="M-56 -476l23-2 33 0 92 8 58 10 151 30 33 9 45 20 55 33 150 108 0 844-1168 0 0-770 50 10 41 1 34-6 33-14 34-22 53-42 41-42 64-75 42-37 31-21 33-17 36-15z"/>
<path fill="#447cc7" d="M-54 -468l21-2 41 1 84 7 67 12 142 30 25 8 45 20 55 33 46 33 112 86 0 824-1168 0 0-762 41 9 42 2 25-3 17-3 33-14 33-22 67-50 34-35 58-71 42-38 33-23 33-17 42-16zM159 208l-17 5-15 12-5 9-2 8 1 8 3 9 6 8 12 9 17 5 16-1 17-8 8-8 6-14-1-16-5-9-8-8-8-5-9-3z"/>
<path fill="#4482c6" d="M-49 -459l24-2 42 1 83 8 51 9 133 30 42 12 41 19 50 32 56 41 78 64 33 24 0 805-1168 0 0-753 41 8 42 2 25-2 17-4 33-14 25-16 90-64 19-20 58-74 25-26 25-20 28-18 32-17 41-16zM150 183l-16 4-14 5-13 8-9 9-7 8-6 17-1 16 2 9 6 12 8 10 13 11 12 7 25 7 17 1 17-3 23-12 16-16 7-17 2-9-1-16-6-14-7-11-18-15-25-9zM-250 17l-4 8 0 8 3 9 7 8 10 5 9 0 8-4 5-9 0-9-2-8-6-8-14-8-8 1z"/>
<path fill="#4488c6" d="M-39 -451l31-1 33 1 84 9 50 10 117 27 50 16 41 20 53 35 52 42 79 67 33 24 0 785-1168 0 0-745 41 9 42 1 25-2 17-4 33-14 67-46 58-36 9-9 38-55 21-25 24-26 30-24 37-24 33-15 42-14zM125 166l-25 9-14 9-11 9-12 16-7 16-2 17 2 17 7 17 12 16 17 16 17 10 20 8 21 3 17 0 25-5 17-7 12-8 13-12 10-13 7-17 3-17-1-16-10-25-9-13-14-12-11-8-17-7-17-4-16-2zM-250 -10l-15 10-9 17-1 16 4 17 12 17 17 11 17 5 16-2 10-6 5-8 3-9-2-25-6-16-10-13-16-13-17-3z"/>
<path fill="#438ec5" d="M-20 -443l28 0 42 2 75 11 151 35 50 17 41 22 44 30 51 42 81 72 41 30 0 766-1168 0 0-738 41 10 42 2 25-3 17-3 33-14 75-52 50-25 9-6 8-10 28-46 22-29 27-29 32-26 33-21 42-19 42-12zM109 149l-27 10-24 14-19 19-9 17-5 16 0 25 7 26 10 16 16 19 25 19 26 13 25 8 25 1 25-3 25-9 25-14 16-15 9-10 10-17 6-17 2-17-2-16-5-17-11-21-11-12-20-17-19-11-17-6-17-4-25-2-25 2zM-250 -26l-17 9-10 9-7 9-6 16-1 16 3 17 8 17 13 17 17 12 25 9 25 1 41-6 9 0 20 17 5 2 8 2 8-1 5-3 3-8-4-9-4-2-16-3-25 4-2-7-7-9-8-18-17-48-8-12-12-13-21-15-17-4z"/>
<path fill="#4294c5" d="M-62 -426l29-5 33-3 42 2 50 5 75 15 100 25 42 14 42 20 41 28 60 49 91 84 41 28 0 748-873 0-7-25-12-25-14-25-23-33-14-17-17-16-16-11-17-3-17 3-21 11-19 16-18 25-11 25-6 25-2 25 3 25-84 0 0-730 41 10 50 2 34-5 33-14 17-10 58-43 25-13 34-13 8-7 8-11 24-42 18-27 25-28 34-28 25-17 25-13 33-13zM92 133l-34 11-27 15-20 16-11 17-8 25 1 33 6 26 14 25 23 25 31 22 33 19 25 8 25 2 34-5 37-13 29-17 19-16 15-19 12-23 4-17 1-17-5-25-7-16-13-22-17-18-17-14-17-10-25-10-25-6-25-2-25 1zM-259 -35l-17 10-17 17-9 16-3 17 1 17 7 25 9 16 12 16 26 19 25 9 50 5 58 18 17 0 8-3 9-6 5-7 3-9 0-16-8-17-8-9-14-8-29-9-8-4-8-8-31-54-11-12-16-13-26-12-8-1z"/>
<path fill="#419ac5" d="M-53 -417l36-6 34-1 41 2 42 5 75 16 92 25 42 14 42 22 41 29 60 52 82 80 17 12 33 21 0 730-739 0-16-25-15-16-64-55-67-61-34-34-16-13-9-4-16-3-25 4-42 18-34 22-27 26-19 25-19 33-14 42-5 41-7 0 0-722 41 10 50 3 34-5 33-12 25-17 54-41 21-11 39-14 11-9 27-50 17-25 23-28 34-29 25-16 33-17 34-11zM-259 -44l-22 11-20 16-11 17-5 17 0 25 6 25 10 25 11 17 23 24 25 15 25 6 42 2 10 3 40 17 44 8 14 6 9 10 3 9 14 67 7 16 9 17 13 17 19 16 68 46 25 12 17 5 17 2 25-1 33-9 50-19 25-14 32-30 18-24 8-18 4-25-2-17-6-25-12-25-18-25-17-16-24-19-25-13-25-9-25-5-33-3-33 2-34 4-92 23-8 0-8-3-9-8-12-28-13-19-17-14-16-8-25-9-15-8-28-42-25-25-24-15-17-6-8-2z"/>
<path fill="#40a0c3" d="M-44 -409l36-5 33-1 42 3 42 5 50 11 91 25 34 10 25 10 33 18 42 30 67 60 75 75 58 40 0 712-568 0 1-16-3-17-6-12-10-13-15-11-16-7-84-26-33-13-20-10-22-13-35-29-32-33-17-23-24-44-12-16-8-9-13-8-18-5-16 0-9 2-16 9-55 44-82 58-28 25-27 31 0-579 50 12 41 4 34-4 33-12 25-17 42-36 17-11 16-9 39-13 11-7 9-10 21-42 21-31 25-28 25-21 25-17 33-16 34-12zM-259 -52l-26 10-24 17-13 17-8 25 1 25 6 33 14 37 17 29 16 23 9 8 17 11 16 5 42 4 17 4 27 13 25 16 8 9 11 16 26 67 20 34 16 18 17 16 67 48 25 14 33 7 34-1 33-6 92-32 25-10 42-24 16-14 9-9 11-24 5-25-2-33-9-34-16-33-17-25-22-25-34-28-25-14-20-8-30-9-25-4-58-2-92 7-25-3-17-8-42-33-58-27-9-7-35-40-31-23-17-8-17-6-8-1z"/>
<path fill="#3fa5bd" d="M-36 -401l36-4 33 0 34 2 42 5 50 11 83 23 34 11 26 11 40 22 34 24 58 54 83 83 67 50 0 693-435 0 16-25 15-16 21-17 24-13 25-9 34-7 83-6 25-4 17-5 17-8 17-13 8-9 10-18 5-17 1-16-2-17-5-17-11-25-45-83-33-50-35-42-36-33-41-27-42-17-42-8-50-4-92 0-33-6-17-7-50-27-50-23-48-40-23-17-21-10-25-8-8-1-18 3-41 14-16 11-9 8-10 17-6 25 2 33 6 35 14 57 4 25-1 19-9 18-16 14-50 24-14 8-70 56-74 53-34 27 0-510 58 15 33 4 34-3 16-4 17-7 25-16 43-40 16-12 16-10 35-12 17-8 14-17 22-42 21-30 25-27 25-20 25-15 33-15 34-10z"/>
<path fill="#3ca9b7" d="M-26 -392l34-4 34 1 33 2 42 6 50 11 75 22 34 11 25 11 39 23 32 25 53 50 76 79 83 66 0 673-145 0 33-16 29-20 25-22 20-25 14-25 8-25 3-25-4-25-5-17-13-25-32-42-122-125-65-58-29-22-25-16-28-13-31-9-58-9-117-7-25-4-25-8-101-43-75-51-22-10-19-6-25-2-51 11-26 13-16 17-7 17-4 25 2 33 8 75 0 25-7 25-13 17-21 17-199 128 0-453 16 2 50 17 25 3 34-1 33-9 25-15 45-48 20-17 19-9 33-12 17-11 8-10 25-45 17-24 25-28 25-20 25-16 33-15 34-10z"/>
<path fill="#3baeb1" d="M-14 -384l39-2 33 1 34 3 42 7 41 11 67 20 34 12 30 15 36 23 33 27 42 42 69 75 70 58 26 25 2 3 0 330-41-16-50-27-42-27-134-96-25-15-25-12-33-12-34-7-41-4-101-8-50-9-117-45-64-38-19-10-25-9-25-3-50 6-33 8-18 8-10 8-6 9-6 16-2 17 5 100-2 34-7 25-13 18-17 14-25 16-158 86 0-401 16 1 42 20 25 6 42 2 25-4 17-5 16-10 9-7 40-54 17-16 18-11 33-13 17-10 14-16 24-42 18-25 19-21 25-21 33-20 34-13 42-11z"/>
<path fill="#3fb2aa" d="M5 -376l53 0 51 6 50 10 58 18 47 16 37 18 33 21 33 28 41 42 68 77 73 65 21 25 14 23 0 203-16 5-25 1-25-4-25-8-34-14-50-26-108-62-25-11-26-9-50-10-125-10-58-10-117-39-84-43-33-11-25-2-100 4-18-2-7-6-2-11 6-25 12-25 11-17 18-16 46-21 16-13 13-16 22-36 15-23 18-19 17-15 33-22 42-18 50-11zM-584 -92l0-5 16 2 34 23 25 8 33 3 67 2 8 1 9 6 3 10 11 84 0 16-2 42-4 29-9 21-14 17-19 14-25 13-133 59z"/>
<path fill="#48b5a3" d="M-53 -359l53-6 42-2 41 3 51 8 53 14 63 22 42 19 34 22 25 20 34 34 74 90 25 26 40 34 19 25 16 33 11 42 1 25-2 17-10 25-8 10-8 7-17 7-25 2-33-5-34-10-42-14-79-39-48-17-48-9-125-10-67-10-33-9-92-28-74-34-26-10-25-5-42 0-42-4-19-6-11-8-4-9 0-16 5-17 10-17 11-10 41-21 17-13 12-14 38-58 25-27 25-19 34-18 33-12zM-584 -58l0-8 5 8 4 16 7 9 9 2 41-6 34 0 33 4 22 8 12 10 8 14 10 26 4 25-2 33-7 34-7 17-14 16-26 17-25 11-108 35z"/>
<path fill="#50b79a" d="M-42 -351l42-4 42-2 50 4 42 6 48 13 52 18 42 18 33 21 34 27 33 33 27 33 48 67 17 20 38 39 12 25 4 25-3 25-8 16-7 9-11 7-17 6-25 3-25-1-42-8-83-27-42-10-42-5-108-6-67-9-50-11-84-23-108-42-25-5-34-1-25-3-23-7-12-9-5-8-2-8 2-17 7-12 13-13 37-22 12-11 14-17 32-48 25-28 25-19 34-18 33-11zM-523 0l30-5 25 3 17 6 15 13 11 16 4 17 0 25-5 21-8 18-9 11-10 9-15 8-20 8-30 8-66 12 0-164 25 1z"/>
<path fill="#56b991" d="M-28 -342l45-4 41 0 42 4 42 7 35 9 48 17 37 17 30 17 33 25 26 23 23 27 18 25 60 108 6 17 1 8-2 9-4 8-10 12-17 11-17 6-25 4-33-2-67-12-34-3-108-3-67-6-67-11-91-21-34-10-83-30-25-5-34-3-17-3-17-8-10-8-5-8-1-9 1-8 3-8 16-17 41-33 42-59 31-32 25-18 33-15 34-10zM-518 42l25 0 18 8 6 8 2 9 0 8-3 8-6 10-8 7-17 9-25 4-17-1-16-3-18-9-6-8-1-9 4-8 7-8 29-17z"/>
<path fill="#5cbb88" d="M-7 -334l40-2 42 2 42 4 33 7 42 13 42 16 33 17 25 16 34 27 24 25 19 25 14 25 13 34 8 33-1 25-8 17-11 9-17 8-33 5-75-2-109 3-67-5-83-12-92-18-100-33-71-14-18-8-8-8-3-9 0-8 8-17 15-16 27-24 42-57 16-18 17-15 25-16 33-13 34-8z"/>
<path fill="#63bd7e" d="M-64 -317l89-8 42 1 42 4 33 6 25 6 43 16 36 16 30 18 30 24 26 25 19 25 12 25 7 25 1 25-4 17-8 13-8 8-17 8-17 5-125 13-33 2-42-1-117-12-83-15-34-8-75-23-58-14-18-9-6-9-3-8 5-17 12-16 26-25 25-37 25-28 25-21 25-14 34-11z"/>
<path fill="#6dbe76" d="M-44 -309l77-5 34 1 42 4 33 6 25 7 33 12 34 16 30 18 22 16 18 17 21 25 11 17 6 16 2 25-4 17-6 11-8 8-17 10-17 6-92 19-33 3-42 1-125-10-83-12-42-9-100-29-18-6-12-9-5-8-2-8 6-17 22-25 34-46 25-26 25-18 33-16 34-7z"/>
<path fill="#77bf6d" d="M-17 -301l75 0 67 7 42 11 57 24 28 17 21 17 16 16 13 17 10 17 4 16-1 17-3 8-11 15-15 10-52 19-25 7-34 6-58 2-134-8-75-9-42-9-80-24-19-9-9-8-4-8 0-9 8-16 38-54 16-18 25-21 25-14 34-11 25-4z"/>
<path fill="#83bf64" d="M-99 -284l24-3 58-2 67 0 67 7 50 13 25 10 33 17 33 25 14 17 10 16 4 17-2 17-8 13-14 12-34 16-44 12-59 5-142-3-66-6-34-6-42-10-41-14-22-11-7-8-2-9 1-8 22-42 16-20 17-16 25-19 25-12z"/>
<path fill="#8fbe5d" d="M-90 -276l65-1 75 3 60 7 49 12 47 21 19 13 14 12 11 17 4 8 2 17-3 8-5 9-7 8-12 8-20 10-42 10-58 4-142 1-59-3-33-6-42-11-32-13-11-8-5-9-2-8 2-8 6-17 9-16 14-17 19-17 25-17 25-11z"/>
<path fill="#9bbd55" d="M-119 -259l36-7 41 0 84 7 75 13 41 12 35 17 12 8 12 13 6 12 0 9-3 8-11 12-17 9-25 8-42 6-133 9-59 1-42-3-41-9-23-8-16-8-9-9-4-8-1-8 4-17 7-14 17-19 16-13 21-12z"/>
<path fill="#a8bb4f" d="M-110 -250l27-5 33 2 58 8 53 11 30 9 41 16 13 9 7 8 2 8-7 9-13 6-34 9-97 18-53 6-42 1-33-5-34-9-18-10-8-8-3-8-1-9 5-17 15-16 19-15 17-10z"/>
<path fill="#b3ba49" d="M-123 -234l23-6 17-2 25 3 25 5 43 17 14 8 7 9 2 8-5 8-11 9-25 11-34 10-25 4-25 1-17-1-25-5-26-12-8-8-3-9 1-8 3-8 16-17z"/>
<path fill="#beb745" d="M-93 -225l10 0 16 4 10 4 12 8 6 9 1 8-6 8-12 9-11 3-25 4-17-1-16-4-9-4-7-7-2-8 3-8 7-9 16-10z"/>
<path fill="none" stroke="#000" stroke-width="13.5" stroke-linejoin="round" d="M-45 -309l45-4 33-1 34 1 42 4 25 4 25 6 33 12 33 14 34 19 25 19 20 18 21 25 11 17 6 16 3 17-1 8-1 9-3 8-6 11-8 9-8 5-9 4-17 6-33 7-34 8-25 4-33 3-42 1-42-2-83-8-42-5-41-6-42-10-100-29-18-6-12-9-6-8-1-8 2-9 4-8 7-8 15-17 34-46 8-10 17-16 25-18 16-9 17-7 17-4 17-3zM-584 -85l8 0 8 4 6 6 11 15 8 6 17 4 75 5 17 3 8 3 9 5 8 9 8 17 10 33 3 17 0 8-2 42-5 25-5 17-4 8-6 8-7 7-17 12-34 16-116 44M584 103l-7 14-6 8-11 9-9 4-8 2-17 2-17-1-16-3-34-10-50-19-42-19-33-19-23-13-20-8-24-8-25-7-25-4-33-4-67-5-42-4-33-5-34-7-25-8-83-27-25-11-55-27-29-10-16-3-9-1-33 1-34-1-23-2-10-3-11-6-5-8-2-9 1-8 1-8 7-17 10-17 7-7 13-9 37-18 12-7 8-9 7-8 32-50 17-22 11-12 14-12 16-12 17-10 25-11 25-8 34-8 33-5 33-3 25 0 34 1 33 3 34 6 33 8 42 13 38 13 21 9 24 12 22 13 23 16 29 26 25 25 22 25 38 46 18 20 24 23 32 28 16 16 12 17 14 25 11 25 6 21M-584 -137l33 9 25 4 25 1 17 0 16-2 17-4 17-7 17-9 8-5 50-40 15-10 18-9 42-16 8-6 9-14 20-39 11-17 12-16 15-17 17-16 17-13 16-12 17-9 17-9 16-7 26-8 16-4 34-7 16-2 25-1 34 1 33 3 34 5 33 6 33 8 92 25 34 11 25 12 33 19 32 23 29 25 37 34 77 75 17 12 33 21M-267 -43l-19 10-11 8-8 8-6 9-4 8-5 17-1 8 1 17 5 25 10 25 13 21 8 10 17 17 8 6 17 9 8 3 17 2 42 3 12 4 29 14 17 6 25 6 9 3 5 4 7 9 4 9 13 49 8 25 9 17 6 8 14 17 17 15 17 12 25 15 33 23 17 8 8 3 17 4 17 1 25-1 16-3 17-5 50-19 25-13 17-13 8-8 18-19 13-17 9-16 4-17 0-8 0-9-2-17-7-25-12-25-18-25-21-21-16-12-10-6-25-13-25-9-25-5-33-3-25 1-34 3-25 4-58 13-17 1-8-2-8-5-4-4-5-6-10-19-6-9-8-8-9-7-17-10-33-12-9-5-8-8-16-25-13-16-18-17-11-8-17-9-17-6-8-2-8 1zM-119 584l-5-8-12-17-25-25-10-8-54-39-34-27-58-51-25-31-9-8-8-7-8-4-9-3-8-1-8 0-17 4-17 7-25 13-17 8-16 11-26 19-25 26-19 25-10 16-9 17-7 17-4 13M-584 -179l41 9 17 2 25 0 25-3 17-3 16-6 17-8 32-21 45-33 21-17 36-36 37-47 22-25 24-24 25-20 17-11 17-10 16-8 25-11 26-10 23-7 10-2 17-1 33 0 42 3 33 3 42 6 42 8 75 17 67 13 16 4 17 6 24 10 18 9 53 33 35 25 87 67 33 24M150 215l-8 4-8 6-6 9-2 8 1 8 4 9 7 8 4 3 8 4 9 2 8 1 8-1 9-3 8-5 7-9 3-9 1-8-2-8-6-9-10-8-10-3-8-2-8 1zM-584 -225l50 10 25 4 16 0 17 0 17-4 8-2 17-8 14-9 11-8 28-25 64-67 64-75 19-19 25-20 17-12 17-10 16-9 25-11 25-9 17-4 25-6 17-2 25-2 33-1 34 1 41 4 67 9 117 21 50 6 25 5 17 5 25 9 25 10 25 13 57 30 93 56M-584 -275l50 11 58 11 8 0 14-6 11-7 9-7 17-16 66-74 42-53 17-20 22-23 20-17 16-13 17-10 17-10 25-12 16-7 25-8 25-6 26-5 83-9 33-1 34 1 42 3 58 6 175 22 25 5 25 6 51 16 58 24 83 38"/>
</g></g>
<circle cx="570" cy="116" r="55.85" fill="none" stroke="#000" stroke-width="1.8"/>
<path d="M117.5 217.0 L127.1 206.6 L137.0 217.0" fill="none" stroke="#000" stroke-width="1.3" stroke-linejoin="miter"/>
<path d="M71.8 264.5 C70.3 263.0 67.3 262.5 65.8 265.5 C65.0 269.0 65.8 275.0 64.8 281.0 C64.3 285.0 66.3 287.8 68.8 287.8 C70.3 287.8 71.3 286.5 72.3 285.0" fill="#fff" stroke="#000" stroke-width="1.3"/>
<path d="M183.2 264.5 C184.7 263.0 187.7 262.5 189.2 265.5 C190.0 269.0 189.2 275.0 190.2 281.0 C190.7 285.0 188.7 287.8 186.2 287.8 C184.7 287.8 183.7 286.5 182.7 285.0" fill="#fff" stroke="#000" stroke-width="1.3"/>
<clipPath id="cS0"><circle r="562"/></clipPath>
<g transform="translate(127.5 272) scale(0.1)"><g clip-path="url(#cS0)" fill-rule="evenodd">
<circle r="567" fill="#44379a"/>
<path fill="#463ca1" d="M-52 -509l52-1 42 3 33 5 42 11 25 8 33 15 92 47 42 11 17 9 8 11 14 31 11 16 58 64 47 62 10 17 19 41 10 17 15 15 22 18 15 17 4 9 4 16-2 25-9 42 4 58-1 17-4 17-8 17-27 41-45 92-37 66-18 26-40 41-50 42-45 34-56 35-25 13-33 12-75 23-42 7-58 2-50-3-42-9-84-25-33-15-33-20-42-28-50-40-40-36-30-33-22-32-39-68-15-34-9-25-17-66-7-42-3-109 2-25 6-25 23-74 14-34 45-87 19-30 25-25 73-62 31-22 52-30 34-16 41-14 67-18zM125 -161l-33 14-34 18-95 71-17 16-12 17-8 17-2 16 4 9 8 8 39 25 50 41 25 16 25 13 50 19 17 5 17 3 8-2 8-5 8-15 3-16 3-34 2-67-1-50-2-41-4-29-6-22-3-9-8-15-8-6-9-2z"/>
<path fill="#4741a7" d="M-95 -501l45-6 50-1 42 3 41 7 59 17 30 13 95 49 50 16 13 11 16 33 17 25 54 58 40 51 15 25 24 50 12 16 38 34 11 17 4 16 0 17-10 50 3 58-1 17-4 17-8 17-27 41-36 75-27 49-20 35-18 25-32 33-30 27-61 49-56 36-34 17-34 13-66 20-42 9-50 4-50-2-41-7-51-14-50-15-33-15-48-30-35-25-59-48-28-27-22-25-25-36-36-64-16-34-18-58-12-59-4-41-2-75 1-25 5-25 20-67 16-42 46-91 16-26 22-25 62-54 33-26 32-20 35-20 42-19 42-14zM159 -185l-25 8-69 35-23 16-50 38-42 29-18 17-19 25-11 17-6 17 1 8 9 8 44 17 17 8 55 42 28 17 92 37 25 5 8-2 9-7 8-25 4-58 1-125-5-59-8-43-9-18-8-6z"/>
<path fill="#4946ad" d="M-84 -501l42-5 59 1 41 5 51 11 25 7 25 11 108 56 50 15 10 8 17 33 17 25 48 51 28 33 28 41 29 59 12 16 38 34 11 17 4 16-1 25-9 42 4 58-2 17-4 17-7 17-32 50-28 58-29 54-25 41-23 30-36 36-70 56-30 22-42 25-33 16-42 15-58 17-42 8-50 3-58-5-59-13-67-21-33-15-45-27-24-16-65-53-26-23-29-33-28-40-30-52-16-33-13-35-13-49-9-50-4-42-1-66 2-25 6-34 18-58 16-42 44-88 18-29 23-25 51-45 39-30 44-29 42-22 40-16 43-14zM159 -201l-25 12-83 47-59 46-56 38-54 58-14 17-3 8 0 8 5 9 11 8 10 4 51 7 16 5 17 9 50 38 42 21 83 31 17 3 17-3 7-6 4-9 6-33 3-159-2-58-6-59-4-20-4-13-4-7-9-5z"/>
<path fill="#4a4bb3" d="M-69 -501l44-3 42 0 41 6 59 13 17 5 27 12 83 42 23 14 50 16 9 7 15 30 18 27 76 82 28 41 30 60 11 15 38 34 11 17 4 16-1 25-8 42 3 58-1 17-4 17-8 17-32 50-55 108-25 41-26 34-33 34-84 67-24 16-34 20-33 16-50 18-59 16-41 7-50 2-50-5-67-15-53-17-39-17-42-25-100-78-23-22-28-33-33-50-23-42-18-42-14-42-10-41-6-42-3-50-1-50 3-34 8-33 14-49 21-51 38-76 21-33 23-25 48-42 54-41 38-24 50-24 54-19 37-10zM167 -219l-17 8-100 62-58 46-59 38-78 73-6 9-3 8 1 17 4 8 7 8 13 9 12 4 17 2 42 1 16 4 10 5 40 31 25 14 25 11 51 17 33 15 17 5 16 1 9-1 8-5 8-12 3-9 4-33 4-175-2-57-8-77-3-17-6-9-8-4z"/>
<path fill="#4a50b7" d="M-48 -501l40-2 33 2 42 7 58 13 31 13 82 42 29 18 50 15 9 8 12 26 21 31 75 78 27 41 32 63 10 12 37 34 11 17 4 16-1 25-8 42 3 58-1 17-4 17-8 17-32 50-53 105-34 52-27 35-23 22-50 38-37 32-21 14-42 24-46 20-46 15-58 14-50 6-42-1-50-7-67-17-51-18-41-21-35-21-103-84-29-33-33-48-21-36-20-41-18-49-9-35-9-50-4-42-2-41 2-42 5-33 14-51 20-52 31-64 23-42 18-25 35-34 35-29 62-46 30-18 55-24 53-18 42-9zM184 -235l-17 5-17 8-55 38-53 33-59 47-50 30-50 46-34 28-8 8-5 9-4 16 2 17 10 17 14 11 25 9 17 2 42-1 16 4 42 29 23 13 27 11 50 16 42 17 17 5 16 1 17-4 6-5 6-8 5-14 4-28 3-225-8-117-8-15-8-3z"/>
<path fill="#4b56ba" d="M-14 -501l22 0 34 5 83 17 26 11 91 48 25 16 17 6 25 5 8 4 9 11 14 27 18 25 76 79 25 38 25 50 10 17 15 17 25 21 10 12 8 17 2 17-1 16-8 42 2 67-3 16-5 17-37 59-41 83-18 32-34 50-29 35-21 19-42 30-51 43-24 14-42 21-57 23-34 10-59 11-50 5-50-5-67-14-33-9-50-20-34-17-31-19-52-45-42-30-18-17-33-42-39-58-16-34-19-47-12-36-8-33-7-59-4-58 1-34 5-33 12-50 13-35 37-82 21-41 18-26 23-25 34-31 47-36 45-31 25-14 53-22 56-19 58-10zM175 -243l-16 7-17 10-47 34-53 34-62 49-55 34-87 75-12 17-3 8-2 17 4 16 8 15 8 10 17 11 17 7 16 3 42 0 17 3 68 35 82 27 42 16 17 4 16 1 17-4 8-5 9-11 4-11 4-17 2-25 4-200-5-117-3-25-6-13-9-6-8-2z"/>
<path fill="#4b5bbe" d="M-82 -493l57-6 33 0 42 6 75 16 22 9 94 51 26 18 9 4 33 7 8 4 20 33 18 25 71 71 8 10 24 36 24 50 10 17 15 17 29 25 11 17 5 16-1 25-8 42 3 58-2 17-4 17-8 17-37 58-50 100-34 50-26 34-18 18-50 35-50 43-42 24-45 22-46 17-59 14-50 7-33 2-59-8-67-15-48-17-43-21-37-21-55-48-50-36-22-25-37-51-21-32-12-25-25-62-13-38-6-34-6-50-4-50 1-42 5-33 12-50 19-50 34-75 16-30 17-24 19-22 39-36 74-55 27-18 33-16 75-29 25-7zM175 -252l-16 7-17 11-50 37-58 38-59 47-50 31-92 77-15 21-3 8-3 17 5 25 8 14 8 10 17 13 16 8 25 6 42 4 17 3 62 25 80 24 50 18 17 3 16 0 17-3 13-8 6-9 8-16 4-34 2-108 4-100-5-126-4-25-4-8-7-8-9-4-8-1z"/>
<path fill="#4b60c0" d="M-65 -493l48-4 25 0 31 4 86 18 17 7 92 51 33 24 9 4 33 6 8 6 16 26 18 25 75 73 8 11 22 33 24 50 10 17 15 17 29 25 6 8 8 17 2 17-1 16-7 42 2 67-3 16-6 17-42 67-50 101-35 49-33 42-16 14-50 35-50 43-50 26-54 24-21 8-67 14-59 8-16 0-34-4-83-16-31-10-36-15-67-35-57-50-35-24-16-13-19-22-57-80-25-54-22-58-7-25-14-117 0-33 3-33 17-76 51-116 23-39 16-22 50-49 77-57 25-17 32-14 83-33 25-5zM175 -260l-16 7-17 10-56 43-53 35-58 47-56 35-94 79-10 12-9 17-3 25 4 17 7 16 19 24 17 12 25 10 75 13 55 17 78 20 59 19 25 3 17-2 16-6 11-9 6-9 7-16 4-34 2-108 5-109-5-125-5-23-8-14-8-6-9-3-8-1z"/>
<path fill="#4b66c3" d="M-45 -493l37-3 16 1 117 22 12 5 90 51 12 8 20 19 8 6 9 2 25 2 8 3 8 9 24 34 14 17 71 66 6 9 22 33 24 50 10 17 13 15 25 21 13 14 7 17 3 17-1 16-8 42 2 67-3 16-6 17-42 67-48 97-44 62-27 33-13 12-50 33-50 45-53 27-72 31-67 14-59 8-41-3-92-17-25-8-40-17-69-35-18-15-32-32-42-27-16-14-16-19-60-83-8-17-25-61-15-39-4-17-15-125 1-33 5-34 11-50 7-25 53-117 20-33 20-25 42-41 92-68 17-10 108-43 25-5zM175 -268l-33 18-66 50-48 33-53 43-65 41-89 75-14 16-7 15-4 10-1 17 3 17 6 16 12 21 12 13 22 15 25 10 183 38 84 24 25 2 17-2 16-7 17-13 5-9 7-16 4-34 2-108 5-109-4-125-2-18-5-15-5-9-7-7-8-5-9-1z"/>
<path fill="#4a6bc5" d="M-25 -493l25-1 15 1 110 23 23 11 85 50 15 17 11 17 8 4 25-2 9 1 8 4 42 51 75 69 26 39 24 50 10 17 15 17 25 21 11 12 8 17 2 17-1 16-7 42 1 67-2 16-6 17-43 67-46 94-47 65-27 33-10 9-50 32-50 47-25 13-70 33-22 9-25 7-75 14-42 5-25-3-100-18-20-6-39-17-50-23-25-14-50-48-42-27-16-13-76-104-41-101-7-20-4-17-13-117 1-25 3-33 12-59 8-24 52-118 23-36 27-31 31-30 92-67 17-10 117-46zM184 -278l-17 6-25 14-67 52-50 35-56 46-68 42-70 58-18 17-13 16-9 17-4 17 1 16 3 17 9 20 8 14 17 19 25 17 33 13 59 11 108 17 92 24 25 1 17-3 16-6 17-13 8-11 6-11 4-17 3-25 2-108 6-117-4-117-5-33-3-10-9-12-8-6-8-3-9 0z"/>
<path fill="#4771c6" d="M-78 -484l78-8 25 3 100 21 18 9 83 50 14 17 10 27 9 8 8 0 25-7 9 1 8 5 37 41 80 72 24 36 24 50 10 17 15 17 27 23 9 10 8 17 2 17 0 16-7 42 0 67-2 16-6 17-44 67-44 92-49 67-26 32-16 13-42 25-47 47-28 15-100 45-126 22-25-1-108-19-35-12-74-35-25-14-50-49-42-25-13-11-70-94-9-15-7-16-39-100-17-126 0-25 3-33 18-84 51-116 17-29 22-30 44-44 101-74 16-8 100-40 17-4zM184 -286l-25 11-25 16-65 50-52 38-50 41-74 47-70 58-24 25-11 17-7 16-1 17 2 17 7 25 8 17 11 16 17 17 26 17 40 13 59 11 67 6 33 5 92 22 25 0 25-6 18-10 15-14 7-11 6-16 5-34 1-108 7-117-5-134-6-33-6-13-4-4-13-6-8-1z"/>
<path fill="#4577c6" d="M-59 -484l51-6 16 0 117 25 82 48 21 16 9 17 5 26 8 15 9 2 33-11 9 0 8 4 117 106 22 33 24 50 10 17 15 17 29 24 7 9 8 17 3 17-1 16-7 42 1 67-3 16-6 17-48 75-41 84-72 96-16 14-42 24-50 49-17 10-108 49-126 22-25-1-108-19-30-10-87-41-16-9-48-51-12-8-33-17-11-8-79-109-43-107-7-26-13-117 3-50 18-84 51-116 20-34 20-25 41-42 109-78 117-47zM209 -302l-42 15-33 21-67 53-53 38-56 45-50 30-23 17-69 58-17 17-13 16-9 17-4 17 2 24 6 26 10 24 12 18 16 16 14 11 17 9 16 6 34 9 50 9 67 3 25 3 75 17 25 4 25 0 17-3 25-12 17-14 8-11 6-14 7-33 2-117 7-100 0-59-5-108-6-34-3-8-8-10-9-2z"/>
<path fill="#447cc7" d="M-41 -484l33-4 16 0 109 23 17 7 66 41 21 16 6 9 5 16 1 25-2 17-4 8-11 9-49 23-33 21-71 56-55 39-52 44-69 42-71 60-31 32-11 17-6 16-1 25 4 25 8 26 12 24 17 21 17 14 16 10 17 7 67 16 33 4 50 0 34 2 75 16 25 4 25-1 25-7 25-14 15-13 6-8 7-17 4-17 3-25 1-108 8-126-4-116 1-76 5-16 13-12 16-9 9-1 16 8 92 75 14 14 23 33 24 50 10 17 15 17 23 19 13 14 9 17 2 17 0 16-8 49 1 60-2 16-6 17-45 67-45 92-76 100-57 33-39 42-10 9-106 50-24 8-125 21-125-21-25-8-100-48-14-11-28-33-17-15-50-27-41-58-34-43-8-16-44-108-17-134 4-50 13-67 5-17 55-124 17-27 27-32 34-34 47-32 44-34 15-10 58-22 59-24z"/>
<path fill="#4482c6" d="M-24 -484l24-2 15 2 102 22 17 7 59 38 21 16 9 17 2 17-2 16-6 15-9 10-74 46-80 63-46 33-58 49-67 40-75 65-29 30-11 17-6 16-1 25 5 34 7 25 10 20 16 22 17 15 17 11 25 10 75 17 25 3 50-3 25 1 34 5 50 11 25 3 25-1 17-4 25-11 21-16 7-8 10-17 5-16 4-25 1-117 9-126-3-116 3-42 7-34 11-16 8-6 9-3 8 1 17 8 33 23 62 52 23 33 24 50 10 17 15 17 25 20 12 13 8 17 3 17-1 16-7 42 1 67-3 16-6 17-45 67-45 92-76 99-17 10-25 11-16 12-39 43-11 9-107 50-27 8-117 19-125-21-20-6-105-50-11-9-40-46-16-11-34-15-8-7-37-54-40-51-22-58-22-50-5-17-6-58-10-67 1-25 4-25 12-67 5-17 24-50 32-75 22-34 38-41 21-19 41-27 47-37 14-9 56-20 59-25z"/>
<path fill="#4488c6" d="M-4 -484l12 1 59 14 50 10 17 7 64 43 10 8 5 9 3 8 2 8-2 17-7 17-16 16-51 33-25 18-61 50-56 41-50 43-17 11-33 17-25 17-75 67-27 29-11 17-6 16-1 25 4 34 6 25 11 25 15 23 17 16 17 11 25 11 83 18 25 3 50-4 25 0 25 3 59 12 25 3 25-1 25-8 25-14 17-12 9-11 9-17 5-16 3-17 2-134 9-125-3-100 1-25 7-31 7-19 9-13 9-6 8-2 8 1 25 11 17 12 59 47 24 33 24 50 10 17 15 17 27 22 10 11 8 17 3 25-7 50 0 67-3 16-6 17-51 75-38 81-75 99-8 6-34 15-16 10-17 17-25 31-9 6-58 26-53 27-22 5-117 20-125-21-17-5-108-52-15-14-25-34-11-10-16-10-33-13-9-7-34-51-41-51-21-58-23-50-5-17-5-50-10-67-1-16 5-42 14-75 31-67 19-50 13-23 16-24 49-53 60-41 42-34 16-9 50-17 59-26z"/>
<path fill="#438ec5" d="M-48 -476l40-6 16 1 59 15 42 8 16 5 30 19 45 33 7 9 3 8 0 17-6 16-13 17-74 52-69 57-48 34-58 49-45 25-25 17-74 67-32 33-10 17-5 16-1 34 5 42 7 25 13 24 16 21 17 14 17 10 16 7 92 19 25 3 50-6 25 0 25 3 59 12 25 2 25-1 17-4 16-7 34-22 8-9 11-16 7-17 4-25 2-134 10-133-3-84 1-25 5-25 7-17 11-16 12-9 8-2 9 1 25 11 50 37 16 14 23 31 24 50 10 17 15 17 29 24 8 9 9 17 2 17 0 16-7 50 0 59-2 16-6 17-36 50-16 25-36 77-75 99-10 8-32 12-16 9-13 12-26 34-12 11-58 26-58 30-134 23-67-13-58-8-25-10-100-48-12-11-30-42-9-7-16-9-26-9-12-8-33-50-38-44-9-15-18-50-23-51-5-16-5-58-11-67 3-42 18-88 30-62 22-58 22-34 26-30 34-33 50-33 50-40 58-20 59-27z"/>
<path fill="#4294c5" d="M-32 -476l24-3 16 1 59 15 42 8 16 6 23 15 44 33 7 9 3 8 0 17-8 16-15 17-62 45-75 61-42 30-58 50-51 28-25 17-75 70-30 33-11 19-5 23 0 41 4 34 7 25 10 21 16 21 18 15 16 11 25 9 92 18 25 2 50-6 25 0 25 2 59 12 25 2 25-1 25-7 33-20 16-12 13-17 8-17 5-16 2-17 1-134 11-133-3-84 2-25 4-16 8-19 11-15 6-5 8-4 17 0 17 7 50 35 16 14 21 28 24 50 10 17 14 17 31 25 7 8 9 17 3 17-1 16-6 50 0 59-3 16-6 17-48 67-17 33-22 50-40 51-34 46-8 7-9 5-33 11-10 6-15 15-25 35-9 8-66 30-42 22-18 7-124 20-75-14-50-7-22-8-103-50-9-8-25-39-9-11-16-11-42-14-8-10-25-40-42-48-6-11-17-50-27-58-2-9-6-58-11-67 4-42 14-75 5-17 25-50 22-58 8-17 24-33 39-42 12-11 50-32 50-40 58-20 59-27z"/>
<path fill="#419ac5" d="M-16 -476l25 0 49 14 51 11 16 6 28 19 31 25 7 9 3 8-1 17-9 16-17 17-58 44-69 56-48 35-57 49-52 29-25 18-75 71-28 32-9 17-5 25-2 41 3 42 7 25 9 19 17 22 16 14 19 12 23 9 92 17 33 2 50-6 25 0 25 2 59 11 25 3 25-2 25-6 33-20 17-13 12-14 10-16 6-17 4-25 0-125 12-151-2-66 0-25 4-17 7-17 12-17 11-8 16-2 17 5 41 27 25 20 19 25 24 50 10 17 14 17 31 25 11 13 7 20 1 17-6 50-1 67-3 16-6 17-37 50-16 25-35 75-41 51-30 41-8 9-9 4-33 10-17 10-8 9-25 37-14 13-53 23-51 27-24 7-117 20-67-14-58-7-17-6-103-50-16-17-23-39-8-10-17-9-33-8-9-6-29-44-46-53-20-56-27-58-4-17-4-50-11-59-1-16 2-25 18-92 29-59 21-58 22-37 50-55 9-8 50-31 43-36 15-9 59-20 50-24 67-7z"/>
<path fill="#40a0c3" d="M-50 -468l50-6 117 30 29 18 29 25 7 9 3 8-1 17-9 14-9 11-124 99-50 37-59 49-50 29-25 18-83 80-25 30-9 16-2 9-5 33-1 42 4 42 8 25 10 17 14 16 21 17 18 10 25 8 92 15 33 1 50-6 25 0 25 2 59 11 33 2 25-2 17-5 25-13 25-18 13-13 11-17 7-17 6-25 1-33-2-100 13-142-2-75 1-25 5-17 8-17 14-15 9-4 16 0 17 7 33 20 25 20 17 23 24 49 17 25 9 11 37 31 9 17 3 17-1 16-6 50-1 59-2 16-5 15-9 14-30 38-17 25-35 75-35 42-38 50-12 9-41 11-9 5-14 17-21 33-7 9-8 6-50 22-58 30-17 5-117 19-67-13-67-10-106-51-10-8-7-9-26-50-9-9-9-5-8-3-25-3-8-3-9-7-30-45-36-39-9-11-20-58-22-44-5-15-5-58-13-67 3-33 18-92 28-59 25-66 16-26 25-29 34-34 50-31 48-39 10-6 50-16 59-28z"/>
<path fill="#3fa5bd" d="M-32 -468l24-3 16 1 109 30 22 14 27 25 10 17 0 8-2 9-7 11-12 14-113 92-59 43-58 48-42 23-25 18-86 85-22 25-13 25-5 25-6 50 1 50 6 25 8 17 13 16 21 19 16 11 25 10 25 5 67 9 42 4 58-7 25-1 25 3 59 11 33 2 25-2 25-7 17-9 25-18 13-13 12-17 12-25 4-16 2-34-3-108 3-50 11-101-1-83 3-17 8-16 11-14 9-6 8-2 8 0 17 5 33 19 25 21 17 22 22 46 16 25 12 13 35 29 9 17 3 17-1 25-5 41-1 59-6 27-9 15-44 58-14 25-25 55-38 45-37 49-17 9-42 8-10 9-24 42-13 17-15 8-46 21-50 26-17 5-117 19-67-13-58-8-17-6-42-22-49-22-12-8-7-9-10-16-14-34-8-14-8-9-9-5-33 0-10-5-31-42-40-42-10-16-14-42-31-67-5-58-14-67 3-33 18-91 29-60 21-58 9-18 17-23 41-45 17-14 50-30 34-29 16-10 59-20 50-25 16-3 42-3z"/>
<path fill="#3ca9b7" d="M-12 -468l20 1 92 26 18 7 23 17 16 16 9 17 0 8-2 9-5 8-15 17-102 83-59 43-58 48-50 30-25 19-84 86-21 25-12 25-9 41-5 51-1 41 5 25 8 17 14 17 19 16 19 13 17 7 22 5 28 5 92 9 25-2 41-5 25-1 25 3 59 11 33 3 25-2 25-6 17-8 25-18 17-17 14-22 8-16 8-25 2-34-5-67 0-41 3-50 12-101-1-75 2-16 7-17 13-17 12-6 17 1 16 6 34 19 16 15 17 23 20 42 16 25 17 17 22 17 14 17 5 16 2 17-6 58-2 59-3 16-6 17-51 67-14 25-22 49-6 9-36 42-33 43-9 6-8 3-42 5-8 5-8 10-23 45-11 13-17 10-50 23-36 21-22 7-117 18-67-12-58-8-17-6-42-22-41-19-17-11-11-14-7-17-16-44-8-17-8-10-9-3-25 9-8 0-8-4-9-8-25-31-41-42-22-58-24-50-5-17-4-50-12-54-3-21 3-23 17-86 6-17 25-50 20-58 9-17 15-21 41-44 17-14 50-30 42-35 11-6 47-15 55-27 12-4 59-5z"/>
<path fill="#3baeb1" d="M-44 -459l36-5 16 1 98 29 16 8 19 17 12 17 3 8 0 8-8 17-15 17-75 61-83 63-50 41-50 31-25 19-92 95-17 21-12 28-11 50-8 50-3 50 3 17 9 16 15 17 24 21 17 10 16 6 42 7 109 9 25-2 41-6 25 0 25 2 67 13 34 2 25-1 25-7 16-9 17-13 17-17 17-24 11-24 7-25 2-34-6-67-1-41 4-50 13-101-1-75 4-16 8-17 9-10 8-5 17-2 16 5 34 19 16 14 15 21 20 41 16 25 16 17 25 19 9 9 7 14 3 17-1 25-5 50-2 50-2 16-7 17-52 67-14 25-19 43-9 13-38 44-28 36-9 7-8 4-17 2-25 0-8 2-8 6-7 10-17 42-11 16-11 9-46 21-50 28-17 5-109 18-16-1-50-10-59-8-14-3-94-46-17-13-13-25-17-66-4-9-7-8-9-4-9-1-25 7-8 1-8-3-61-59-13-16-15-42-32-67-6-58-15-67 1-25 22-100 28-59 24-66 16-26 17-19 41-39 51-30 50-40 59-19 41-22 16-6z"/>
<path fill="#3fb2aa" d="M-23 -459l15-2 17 2 100 32 14 10 16 16 6 17 0 8-3 9-12 16-58 50-147 114-50 32-25 18-25 25-85 95-13 25-15 59-20 117 1 8 10 17 47 44 9 6 16 5 33 4 134 8 66-8 25-1 25 3 67 13 42 3 25-1 17-3 16-7 17-12 25-30 15-24 12-25 7-25 1-25-8-76-1-41 4-59 14-92-1-66 3-17 7-17 6-8 12-8 13-3 25 7 25 14 16 14 13 18 20 41 16 25 16 17 27 21 10 13 6 16 2 17-6 67-2 50-3 16-6 17-54 67-10 17-29 59-66 77-9 7-16 7-34-2-16 3-9 7-5 9-12 41-8 16-8 9-93 51-24 9-100 16-17 1-67-12-58-8-17-6-82-42-11-9-7-8-7-17-4-16-8-59-7-16-8-8-16-5-34 7-8 0-8-2-17-12-42-36-9-11-20-50-29-59-6-58-15-59-2-16 2-17 19-92 31-67 19-58 19-30 41-45 17-14 50-29 42-34 17-9 50-16 45-24 13-4z"/>
<path fill="#48b5a3" d="M-52 -451l44-6 16 2 88 29 16 9 16 16 6 17 0 8-4 9-5 8-15 17-60 50-133 100-42 27-25 18-25 25-39 47-46 50-11 17-6 16-20 67-15 67-6 17-15 33 1 8 5 9 29 33 6 8 1 9-12 8-22 9-17 0-17-9-25-17-17-15-8-14-12-29-33-67-7-58-18-67 1-25 21-92 27-58 22-67 9-17 12-17 45-45 16-12 47-26 45-35 14-7 45-13 58-29zM337 -242l14-4 16 2 25 10 17 12 17 19 21 44 17 25 15 17 32 25 7 9 5 16 1 34-5 50-2 50-5 25-11 18-29 32-19 25-14 25-20 42-10 14-58 64-17 12-17 2-41-6-9 1-8 4-7 17-9 50-9 17-10 8-15 9-75 41-17 6-100 16-17 1-67-11-42-5-25-6-81-42-13-9-8-8-7-17-4-25-1-25 2-33 4-14 8-8 9-4 25-3 33-1 109 3 66-9 25 0 25 2 84 17 50 3 33-3 9-3 8-6 17-22 27-44 14-33 7-25 1-25-11-92 2-67 16-109 1-58 1-17 9-22z"/>
<path fill="#50b79a" d="M-25 -451l17-1 16 1 89 34 12 8 8 8 4 9 1 8-4 17-20 25-48 41-125 92-75 51-25 26-46 57-39 42-11 16-8 17-27 83-17 59-7 17-21 33 0 17 8 25-1 8-7 5-8 1-17-6-16-12-9-11-45-85-5-17-6-50-17-59-3-16 2-17 21-92 31-67 15-50 7-16 17-25 50-48 58-34 34-26 15-9 52-17 58-30 17-3 42-4zM338 -234l13-6 8 0 17 3 25 12 16 14 9 12 19 40 16 25 16 17 32 25 7 9 6 16 1 25-8 109-3 16-6 17-44 50-12 17-10 17-23 45-15 21-60 60-8 5-17 2-28-8-13-8-7-9-2-8 3-17 34-75 10-33 1-25-14-84-1-25 2-42 5-41 14-84 1-58 4-17 5-8zM-23 284l40-6 25 1 92 18 66 10 17 4 11 6 6 9 2 8 3 33-4 25-10 16-12 9-88 50-25 6-92 13-24-2-109-18-17-7-75-40-11-10-5-8-7-25 2-34 6-25 7-10 8-8 17-7 25-4 41-1 67 1z"/>
<path fill="#56b991" d="M-50 -443l33-4 25 2 71 28 15 8 9 8 5 9 1 8-4 17-20 25-28 25-138 100-61 41-17 14-16 17-53 70-32 33-12 17-9 17-11 38-19 45-23 67-8 15-19 27-15 28-8 1-8-5-9-10-33-53-9-17-4-19-6-42-18-59-3-16 2-17 21-88 29-62 17-59 7-16 6-10 12-16 46-43 58-33 44-32 15-7 42-12 58-31 17-3zM356 -234l20 2 16 6 17 11 8 8 9 13 21 44 12 16 15 17 33 25 7 9 4 8 3 17 0 33-9 100-4 17-4 8-38 42-20 25-29 54-16 24-59 55-8 4-17 2-14-5-11-9-5-8-2-17 6-25 24-58 7-34-1-16-15-76-2-41 5-67 18-92-1-42 2-16 6-17 6-8 11-8zM17 284l25 1 25 4 108 24 25 8 9 5 8 7 8 17 4 26-4 16-8 13-16 12-76 45-25 7-92 12-25-1-50-9-42-5-16-4-24-11-60-34-10-8-7-8-3-9-3-16 1-17 3-17 11-22 8-9 9-5 16-6 25-4 101-2z"/>
<path fill="#5cbb88" d="M-83 -434l66-8 17 1 17 5 41 19 25 15 9 10 2 8-1 8-3 9-12 16-28 28-125 89-67 44-17 14-16 18-17 21-43 62-32 33-12 17-8 17-9 33-24 50-21 59-9 16-26 29-8 5-8-1-9-5-16-20-20-33-4-16-6-42-21-58-3-17 2-17 24-92 27-58 16-59 7-16 11-17 8-9 42-39 17-11 41-21 42-29 17-9 42-11 58-32zM352 -225l15-4 17 4 17 8 16 14 23 44 16 25 16 17 32 25 8 9 6 16 2 34-9 108-5 17-4 8-53 59-12 16-27 50-9 13-17 17-33 28-17 9-8 1-9-2-10-7-6-8-2-9 3-25 20-58 7-34-2-16-13-51-5-33-1-25 1-42 6-50 17-75 0-42 2-16 8-17zM-3 292l28-3 33 4 97 24 26 9 15 8 9 8 5 9 4 8 3 17-3 16-5 9-20 16-37 26-31 16-36 9-77 8-25-1-92-14-16-4-17-7-56-33-11-8-8-10-3-7-3-16 4-25 10-21 17-14 17-6 25-5 92-4z"/>
<path fill="#63bd7e" d="M-30 -434l22-1 16 3 30 15 26 16 8 9 3 8 1 8-7 17-14 17-19 16-53 34-50 37-67 44-33 27-27 34-48 74-33 34-11 17-7 17-8 33-29 50-19 50-8 17-10 12-17 10-8 1-9-4-16-17-11-19-6-16-7-42-20-50-7-25 3-17 10-33 12-54 29-63 16-59 12-25 27-29 33-28 50-25 51-33 16-6 34-7 16-8 34-22 16-7 17-3zM353 -217l14-6 17 2 17 8 15 13 21 41 17 25 15 17 33 25 8 9 4 8 4 16 0 26-9 104-2 12-6 15-56 61-17 25-19 34-17 21-33 27-17 9-8 2-8-2-9-7-3-9 2-25 16-59 4-25-2-16-13-42-7-34-3-33 1-33 2-25 5-34 18-75 2-50 6-17zM-14 301l31-5 33 2 48 11 69 23 18 10 13 17 5 17-3 16-5 9-17 16-36 26-17 9-16 7-17 3-75 9-42-3-75-10-25-6-19-9-42-26-14-11-10-14-3-16 2-17 4-8 12-17 20-13 33-8 84-5z"/>
<path fill="#6dbe76" d="M-38 -426l21-1 17 2 19 8 12 8 16 17 5 8 2 8-5 17-13 17-10 8-51 28-49 39-68 45-33 30-31 42-40 67-31 33-12 17-8 16-12 42-35 50-23 58-9 8-8 4-8 1-9-3-10-9-10-17-9-42-29-67-4-16 0-9 15-50 10-42 26-58 8-25 10-42 10-23 25-26 33-28 50-24 51-30 16-6 34-5 8-3 44-30 20-8zM355 -209l12-7 17 0 17 7 10 9 7 8 21 42 12 16 17 18 40 33 6 16 3 34-9 100-7 27-8 11-52 54-13 16-19 33-17 21-25 20-16 8-9 0-10-7-3-16 13-67 1-25-17-50-6-25-5-34 0-25 1-33 5-33 21-84 2-42 5-16zM-21 309l38-7 25 1 41 9 59 20 22 10 10 9 7 8 6 17-1 16-4 9-15 16-22 17-28 16-34 9-66 7-42-3-75-11-17-4-25-11-32-20-18-15-7-10-3-16 4-17 12-17 19-11 33-9 67-5z"/>
<path fill="#77bf6d" d="M-97 -409l72-7 25 4 17 11 6 9 6 16-1 9-5 8-15 12-41 16-40 39-69 48-33 33-38 52-37 67-37 42-12 17-7 16-10 34-5 8-40 42-5 8-10 27-8 14-8 3-9-5-8-13-13-34-29-52-6-15-1-17 13-41 12-51 29-66 12-52 8-23 8-11 17-17 25-22 17-11 41-18 42-22 17-8 50-7 17-10 33-25zM368 -209l8-2 16 3 17 11 8 11 14 27 17 25 20 21 37 30 8 16 2 34-9 100-6 25-13 17-51 50-44 59-16 13-17 6-8-2-5-10-1-16 5-42-1-25-18-50-7-25-5-34-1-25 2-33 3-25 7-33 17-59 3-42 7-16zM16 309l26 1 33 6 34 11 34 15 16 11 11 14 4 17-5 17-6 8-17 17-21 14-16 8-42 9-50 3-50-4-67-11-17-4-17-7-26-17-19-16-6-9-3-8 0-8 4-13 10-12 15-10 25-8 67-7z"/>
<path fill="#83bf64" d="M-100 -392l25-5 33 3 15 2 5 8-28 12-11 13-15 25-12 17-20 16-26 17-16 16-72 101-42 75-42 50-9 17-11 26-8 14-22 18-36 23-9 1-8-3-17-15-17-23-7-16-2-17 14-41 12-51 25-58 5-17 10-50 10-21 11-12 23-20 16-13 17-9 92-37 17-2 25 0 16-3 17-9 28-24zM369 -200l7-3 16 1 9 4 8 6 19 33 17 25 23 23 34 28 9 16 2 25-1 34-8 75-3 16-4 9-13 16-53 51-39 45-8 6-8 4-9-1-4-4-3-9-2-41-3-17-25-67-5-25-4-33 2-42 7-42 20-67 8-50 3-8zM9 317l24-1 25 4 34 9 33 15 17 11 12 12 6 17-4 17-5 8-17 17-29 17-35 8-45 3-58-5-78-15-19-8-14-9-19-16-6-9-2-8 1-8 3-9 8-8 15-8 19-5 58-9z"/>
<path fill="#8fbe5d" d="M-243 -326l18-4 16-1 18 5 10 9 4 8 0 8-2 25-4 17-7 17-20 33-40 59-25 50-13 17-38 43-16 13-9 2-25-6-8 0-8 5-3 9 2 25-3 9-5 5-8 3-8-2-9-6-9-9-8-16 0-9 14-41 11-51 25-58 4-17 6-41 7-21 17-21 25-21 17-11 24-10zM372 -192l12-5 8 1 9 4 8 8 20 34 21 25 17 16 34 27 8 15 3 25-1 34-9 75-7 25-15 17-79 73-9 5-8 3-9-6-16-50-21-51-9-33-4-33 1-42 8-42 20-67 9-41 4-12zM8 326l25-2 25 4 34 10 26 13 16 12 9 13 2 8 0 8-7 17-17 17-14 8-15 6-34 6-33 2-52-5-74-17-19-9-13-8-8-8-5-9-1-8 3-8 11-9 50-11 60-22z"/>
<path fill="#9bbd55" d="M-263 -309l21-3 17 0 9 3 8 8 6 17 0 17-4 17-11 25-25 35-39 40-5 8-7 25-7 17-11 17-15 15-14 10-11 3-50 3-8-3-3-20 3-25 26-67 6-58 10-24 16-18 34-24 21-10zM376 -184l8-4 8 0 9 4 45 59 18 16 32 26 7 8 3 8 4 25-1 36-9 73-7 24-17 19-50 41-17 13-8 5-9 2-8-3-8-12-30-64-12-36-6-39 2-42 8-42 21-67 8-33zM14 334l19-1 25 3 25 8 28 15 14 15 5 10 1 8-3 9-4 8-8 8-11 9-19 8-28 6-25 1-33-3-33-6-23-6-20-9-13-8-5-8 3-9 25-25 33-18 25-10z"/>
<path fill="#a8bb4f" d="M-294 -292l35-5 17 2 8 5 6 6 5 17-5 25-14 26-15 16-10 8-17 7-42 3-12 7-8 8-3 8 2 9 12 25 2 8-1 8-3 9-6 8-14 9-10 2-15-2-7-9 1-17 4-12 22-38 0-8-5-21-3-21 3-25 9-16 17-17 24-16zM383 -175l9-3 9 4 50 57 42 34 7 8 4 8 4 25 0 34-11 75-4 18-11 15-31 27-34 24-16 6-9-1-8-6-8-11-21-39-16-42-7-41 1-42 9-44 31-90 3-8zM-7 351l24-7 16-1 17 1 25 8 17 8 17 16 4 8 1 8-2 9-5 8-15 12-17 7-25 4-17 1-25-3-20-4-24-9-13-8-5-8-1-9 3-8 15-17 12-8z"/>
<path fill="#b3ba49" d="M-312 -276l20-5 16-1 9 1 12 5 6 9 2 8-2 17-4 8-14 17-17 10-17 4-33 4-8 0-9-4-7-14-1-8 6-17 15-17zM382 -159l2-3 8-4 9 3 56 54 32 26 8 8 5 8 4 25 0 34-11 75-5 16-4 9-10 11-33 26-26 15-16 3-9-2-8-7-25-40-16-40-8-41 1-34 10-50 13-40 17-41zM8 359l17-4 17 0 25 7 16 10 9 9 3 11-2 9-7 8-11 7-25 6-17 0-16-2-25-8-6-3-9-8-3-9 2-8 6-8 10-9z"/>
<path fill="#beb745" d="M-314 -259l13-4 9 0 8 3 6 10-1 8-6 8-16 10-16 3-9 0-8-3-4-10 3-8 7-8zM388 -150l4-3 9 0 8 4 44 40 33 26 8 8 5 8 5 25 0 34-11 75-6 16-11 16-25 20-25 15-17 5-8-1-9-4-16-17-10-17-18-42-7-25-3-25 2-33 12-50 9-25 15-34 8-13zM20 376l13-4 17 2 8 4 8 6 2 8-5 9-13 5-8 2-17-3-9-4-7-9 1-8z"/>
<path fill="#c9b546" d="M392 -142l9-2 16 8 73 61 9 17 4 25-1 33-12 67-6 16-14 17-19 15-25 13-17 3-8-1-9-5-8-8-17-24-16-39-6-21-3-25 2-33 15-57 17-39 8-14z"/>
<path fill="#d2b249" d="M396 -134l5-1 8 1 8 4 70 55 6 8 3 9 5 25 0 25-14 75-6 16-13 15-17 12-17 9-17 5-16-2-8-5-17-21-19-38-7-25-4-25 0-16 4-25 14-50 12-27 8-14 8-8z"/>
<path fill="#dcb04c" d="M397 -125l12-2 17 8 56 44 11 17 6 33 0 17-13 66-2 9-7 16-9 11-17 12-17 8-17 4-8-1-15-8-18-23-17-36-10-42 2-26 16-61 17-34 8-10z"/>
<path fill="#e4b04c" d="M397 -117l12-3 17 6 52 39 8 8 4 9 6 25 1 25-14 66-5 17-10 14-9 7-16 10-17 5-17-1-8-4-17-17-17-31-8-25-5-25 1-25 13-50 16-36 8-10z"/>
<path fill="#e7b74a" d="M398 -109l11-4 8 1 9 3 47 34 8 8 6 9 7 25 0 25-18 78-8 13-10 9-15 9-17 4-17-3-8-4-17-19-17-35-9-36 2-25 13-50 11-25 8-12z"/>
<path fill="#e7bf49" d="M399 -100l10-5 8-1 9 3 41 28 16 17 8 25 1 25-19 75-5 9-9 9-10 7-15 6-17 0-8-3-17-15-16-30-9-24-3-18 1-25 11-41 10-25z"/>
<path fill="#e7c847" d="M401 -92l8-5 8-1 17 6 17 10 25 20 7 12 5 17 1 25-13 52-8 23-6 8-9 8-19 8-17-1-8-4-12-11-15-25-6-17-6-25 0-16 9-42 10-25z"/>
<path fill="#e6d046" d="M404 -83l5-5 8-2 9 1 25 12 22 19 6 8 5 17 2 16-2 15-16 59-6 10-8 8-11 7-9 2-17-2-8-5-10-10-13-25-9-34 0-16 7-36 8-23z"/>
<path fill="#e5d845" d="M408 -75l9-6 9 0 17 6 14 8 10 9 6 8 5 8 4 17 0 8-2 17-12 42-8 16-9 11-8 5-9 2-8 0-9-4-14-14-9-16-7-25-1-25 5-34 10-25z"/>
<path fill="#e5df43" d="M414 -67l12-5 8 1 17 7 17 15 7 16 2 8-1 23-17 48-8 13-8 5-9 2-8-1-10-7-11-16-6-17-1-25 1-33 4-17 6-12z"/>
<path fill="#e5e641" d="M424 -58l10-2 9 1 8 4 8 7 5 6 7 17 0 17-12 34-8 17-8 8-9 2-8-3-8-8-5-17 4-33-5-17 0-8 4-17z"/>
<path fill="none" stroke="#000" stroke-width="13.5" stroke-linejoin="round" d="M396 -109l5-3 8-2 8 1 9 3 42 30 8 7 8 9 7 14 3 17 1 16 0 9-15 66-4 14-8 11-9 9-16 10-9 3-8 1-9 0-8-2-7-4-10-8-8-11-8-15-9-19-6-22-4-17 0-8 2-17 10-41 7-18 7-16 9-14zM-52 -426l27-2 17 0 13 2 18 9 12 8 9 8 8 9 5 8 2 8-2 9-4 8-11 15-11 10-13 8-26 14-17 11-43 34-57 37-17 12-17 13-13 13-12 14-19 28-41 67-6 8-25 25-13 17-8 16-8 34-4 8-33 50-7 17-11 31-5 11-3 4-9 8-8 4-8 0-9-3-8-7-5-6-3-5-6-12-3-8-4-26-3-8-5-17-21-47-5-19 0-9 2-8 13-42 10-42 6-16 20-42 8-25 10-42 3-8 8-16 8-10 17-16 17-15 16-13 17-9 33-15 51-31 16-6 34-5 8-4 8-5 33-22 17-9 17-3zM366 -217l10-1 8 1 8 3 9 4 8 6 8 10 18 35 10 17 7 8 16 18 9 7 23 17 8 9 4 8 4 17 1 16 0 17-1 17-5 33-3 42-3 16-4 12-8 11-36 36-15 17-13 16-20 35-8 12-9 9-8 8-17 12-16 9-9 1-9-2-6-9-1-8 1-17 12-50 3-25-1-8-2-8-14-42-8-34-3-33 1-42 3-25 4-25 6-25 13-50 1-33 2-17 3-8 6-9 6-5zM17 301l8-1 17 1 16 3 25 6 48 16 22 8 14 8 11 9 7 8 4 8 1 9 1 8-2 8-5 9-6 8-19 17-25 17-17 8-17 6-17 3-41 5-25 2-42-3-75-11-17-4-17-6-16-9-27-17-11-8-8-8-5-9-3-8 0-8 1-9 3-8 4-8 7-9 10-8 12-6 17-5 16-3 25-3 34-1 17-1zM-35 -476l27-4 8 0 8 1 59 15 42 9 16 5 25 16 34 25 10 8 7 9 3 8 0 8-1 9-3 8-8 14-8 9-9 7-41 29-25 19-67 55-34 23-16 13-50 43-9 6-42 22-26 19-81 75-16 17-10 14-7 11-2 8-3 25 0 25 1 17 2 17 3 16 6 17 3 8 10 17 14 17 9 8 10 8 21 12 16 6 37 7 55 10 25 2 50-5 25-1 25 3 51 10 33 4 25-2 8-1 17-6 17-9 16-10 14-11 8-9 6-8 8-17 5-16 2-17 2-33-1-67 0-34 3-33 5-50 3-50 0-25-3-59 2-25 5-21 8-17 9-12 8-8 8-3 9-1 8 2 17 7 50 35 16 15 9 9 12 19 25 50 10 17 14 17 30 25 8 8 5 9 3 8 3 17 0 16-7 50 0 59-3 16-6 17-10 17-26 33-16 25-13 25-22 50-40 51-34 47-8 7-8 4-34 12-8 5-9 7-8 9-24 34-10 9-15 8-43 18-50 26-8 3-9 3-58 9-50 10-17 2-17-3-58-12-50-6-9-2-14-7-44-22-45-19-13-8-9-9-25-38-11-12-6-5-8-4-33-11-10-5-7-9-15-25-11-16-14-17-27-30-7-12-17-50-26-56-3-11-5-58-9-50-2-17 0-17 2-20 15-80 2-8 4-9 24-50 10-25 12-33 9-17 10-17 13-16 35-37 17-16 50-32 50-41 17-6 41-14 17-7 28-14 14-6 15-3 43-3zM-53 -501l45-2 33 2 42 6 58 14 15 5 17 8 60 32 22 10 28 17 9 4 33 8 8 3 9 9 12 26 21 30 11 12 47 48 17 19 28 41 24 50 7 12 10 13 29 25 8 9 7 8 4 9 3 8 2 8 0 9-1 16-9 42 0 17 3 41-1 17-4 17-8 17-22 33-10 17-32 66-21 40-28 44-12 17-13 16-15 17-16 15-50 38-37 31-21 15-34 19-41 19-34 13-16 5-59 15-25 4-25 3-25 1-17-1-33-3-25-5-34-7-33-9-32-11-18-7-17-8-25-13-35-22-50-42-32-23-16-14-13-13-15-17-12-16-19-27-25-40-21-42-16-42-13-41-8-42-5-50-3-50 1-42 6-33 11-42 6-20 12-30 27-59 26-50 11-16 8-11 21-23 27-25 19-15 45-35 24-17 23-14 25-12 25-11 59-21 16-5 25-5 25-4zM167 -228l-17 8-53 36-47 29-8 6-40 32-19 14-46 28-12 10-42 39-31 26-8 8-6 9-2 8-2 8 1 9 2 8 4 8 7 9 10 8 8 4 17 5 17 2 42-1 8 1 8 3 9 5 31 23 13 8 16 9 31 12 51 16 33 15 17 4 16 1 9-1 8-3 4-3 6-8 6-17 3-16 1-25 4-192-2-34-5-75-4-25-5-11-8-5-8 0zM-80 -526l13-2 17-1 50 5 50-2 25 3 25 8 34 14 41 11 17 7 17 8 37 24 13 7 17 5 33 4 8 2 9 3 8 5 7 8 6 8 4 9 7 24 4 9 5 8 9 10 33 32 8 10 11 15 20 33 23 25 12 17 9 17 17 41 9 14 10 11 25 17 10 8 7 9 5 8 4 9 2 8 0 8-1 17-12 41-2 9 1 17 6 41 0 17-4 17-7 17-19 25-10 16-20 50-7 17-9 17-21 30-7 12-18 41-8 16-8 9-16 17-35 28-33 37-17 14-18 13-32 17-14 8-28 22-17 11-8 5-17 7-16 4-42 9-50 20-25 6-25 1-42-3-42 3-25-1-25-6-50-20-42-8-16-5-17-7-17-10-36-28-14-9-31-16-19-13-17-15-34-39-31-25-9-8-9-11-10-14-8-17-16-36-8-14-18-25-5-9-8-16-7-25-7-42-16-50-3-17-1-25 3-50-4-50 0-17 4-16 5-17 15-36 12-48 9-25 9-16 20-31 7-11 18-42 10-17 16-16 44-34 31-33 16-14 9-6 16-10 42-20 34-23 16-8 17-7 58-11 34-13zM67 -30l-9 6-5 7-2 9 1 8 1 8 5 9 9 8 8 4 8 1 9 0 8-2 4-3 5-5 1-3 3-9-1-16-3-12-4-5-5-4-8-4-17 0zM-291 -584l17 25 7 8 8 3 9-1 8-3 19-7 16-9 6-8 1-8M192 -584l-9 16-2 9 4 8 40 20 19 13 15 12 8 5 9-8 19-75M503 -584l7 16 5 17 4 17 2 16 0 25-3 17-3 8-6 9-7 8-11 8-13 9-44 22-19 11-9 9-2 8 7 8 15 10 19 15 16 17 13 17 2 4 8 6 9-7 25-32 8-9 8-6 9-5 8-1 8 2 9 7 4 7 3 9 0 8 0 8-3 9-4 8-6 8-10 9-27 16-8 9-1 8 13 42 8 33 6 18 8 8 8 2 9-1 16-6M-584 -345l3-6 5-4 8-5 9-2 8-1 8 1 25 6 9-1 8-5 8-8 9-12 5-10 2-9-2-8-13-25-3-9-2-8 0-8 1-9 4-8 8-9 8-5 8-2 9 0 8 2 8 3 9 6 8 7 17 18 8 6 9-1 8-6 42-36 5-8-1-8-12-25-6-17-3-17 1-8 2-8M-584 -192l8 0 8-9 25-58 2-8-4-9-24-16-9-9-6-10M584 168l-8 1-4 6-4 8-13 42-22 51-1 8 7 17 1 8-4 8-18 16-9 9-23 34-28 33-5 8-5 17-5 8-9 4-17 1-8 3-8 6-34 28-36 25-6 9-5 16-7 9-4 2-25 2-8 3-42 19-44 15M-192 584l-42-14-42-19-8-3-25-3-4-2-7-9-4-16-7-9-36-25-34-28-8-6-8-3-17-1-9-6-4-6-4-17-4-8-33-42-21-31-9-9-16-11-5-7-1-8 3-17-2-8-23-51-14-36-8-10"/>
</g></g>
<circle cx="127.5" cy="272" r="55.85" fill="none" stroke="#000" stroke-width="1.8"/>
<path d="M338.5 217.0 L348.1 206.6 L358.0 217.0" fill="none" stroke="#000" stroke-width="1.3" stroke-linejoin="miter"/>
<path d="M292.8 264.5 C291.3 263.0 288.3 262.5 286.8 265.5 C286.0 269.0 286.8 275.0 285.8 281.0 C285.3 285.0 287.3 287.8 289.8 287.8 C291.3 287.8 292.3 286.5 293.3 285.0" fill="#fff" stroke="#000" stroke-width="1.3"/>
<path d="M404.2 264.5 C405.7 263.0 408.7 262.5 410.2 265.5 C411.0 269.0 410.2 275.0 411.2 281.0 C411.7 285.0 409.7 287.8 407.2 287.8 C405.7 287.8 404.7 286.5 403.7 285.0" fill="#fff" stroke="#000" stroke-width="1.3"/>
<clipPath id="cS1"><circle r="562"/></clipPath>
<g transform="translate(348.5 272) scale(0.1)"><g clip-path="url(#cS1)" fill-rule="evenodd">
<circle r="567" fill="#44379a"/>
<path fill="#463ca1" d="M-109 -459l42-3 92 0 42 2 33 4 59 16 117 44 24 12 20 17 31 38 50 53 20 26 16 25 22 44 27 64 12 42 6 33 3 59 0 41-5 51-9 48-10 35-16 42-24 48-17 27-18 25-22 25-44 41-52 43-31 19-34 14-58 19-58 12-51 5-41 0-42-5-33-9-76-29-41-21-34-23-58-53-62-46-88-117-63-75-27-42-19-42-9-33-3-34 1-25 8-33 24-59 12-34 11-24 22-33 51-66 31-35 36-31 25-18 55-34 37-19 25-9 48-14zM75 -42l-47 9-45 14-41 20-35 24-18 17-23 25-26 33-11 17-9 25 0 17 5 9 8 6 17 1 58-13 92-15 58-13 34-9 22-8 20-10 16-12 25-26 19-27 6-17 1-8 0-9-3-8-6-8-10-9-15-9-25-10-17-5-16-2z"/>
<path fill="#4741a7" d="M-98 -459l48-2 83 1 42 2 34 5 33 9 29 10 105 39 25 13 16 13 9 9 25 33 58 63 16 22 19 33 24 49 24 68 9 40 4 35 1 59-4 58-9 51-11 41-16 42-23 46-24 37-27 34-41 40-52 43-24 17-33 17-72 25-53 12-42 5-50 1-42-4-41-11-59-22-34-15-41-23-25-19-59-54-51-37-88-117-53-61-16-22-27-43-17-41-7-34-2-33 2-25 10-33 21-51 16-41 12-25 24-34 51-65 34-35 33-28 33-22 51-30 33-16 33-11 42-11zM92 -50l-25 2-32 6-52 16-50 24-38 27-20 19-28 31-21 25-10 17-8 17-3 16 0 17 2 8 4 9 5 4 9 3 16-1 76-21 158-32 25-7 25-10 30-20 29-31 18-27 7-25-2-17-5-8-9-9-34-20-34-11z"/>
<path fill="#4946ad" d="M-76 -459l118 0 41 3 26 4 33 9 25 9 109 40 25 13 16 13 8 9 26 34 58 63 20 28 22 42 19 42 16 41 9 34 7 42 3 58-2 50-5 42-11 50-13 42-14 33-26 50-23 34-29 33-31 30-66 54-26 16-25 11-41 14-43 12-41 9-42 4-42 1-42-4-41-11-67-26-39-18-28-17-25-19-59-54-50-37-35-48-52-67-55-63-16-22-29-49-11-25-7-25-5-42 3-33 9-33 22-51 15-41 13-25 17-25 40-52 33-38 28-27 30-24 55-35 46-24 33-12 50-14 33-6zM50 -51l-58 16-50 21-38 22-38 34-45 50-12 17-9 18-6 23-1 17 6 25 7 8 10 4 17-1 92-28 167-36 42-16 16-10 17-14 25-30 17-27 7-25-1-17-4-8-11-11-22-14-19-10-25-10-34-4-25 2z"/>
<path fill="#4a4bb3" d="M-135 -451l43-6 50-1 84 1 58 5 50 13 117 43 25 12 25 18 34 43 50 53 15 20 25 41 31 67 15 42 10 42 5 33 2 58-3 50-6 42-11 49-14 43-15 33-23 42-22 34-21 25-38 36-57 47-27 19-33 16-67 22-50 11-50 6-50 0-42-5-33-9-68-26-41-20-42-27-58-56-59-44-33-45-58-75-59-67-27-42-16-34-11-33-4-33-1-25 5-25 8-25 21-51 15-41 13-25 22-32 42-53 25-28 30-29 28-23 58-36 43-22 33-13zM58 -59l-33 7-33 10-59 25-41 25-36 34-46 50-11 17-8 16-5 17-2 25 4 25 3 10 5 7 12 6 17-1 100-32 175-39 25-8 17-8 25-19 33-40 15-26 8-25-1-17-3-8-10-12-20-13-30-16-24-9-18-4-17-1z"/>
<path fill="#4a50b7" d="M-128 -451l36-5 67-1 75 1 50 5 50 14 117 43 23 10 14 8 13 12 34 43 58 63 26 41 36 75 15 42 10 42 4 33 3 58-3 50-6 42-10 44-16 48-14 33-23 42-22 32-22 27-36 34-59 49-25 17-33 16-67 22-50 12-50 5-50 1-34-4-40-10-68-26-42-21-42-27-58-56-50-37-9-8-30-42-60-76-60-68-26-40-16-34-8-25-6-33-1-33 4-25 8-25 20-47 16-45 14-25 20-30 42-53 25-29 25-24 33-27 60-38 41-21 33-12zM75 -67l-33 5-34 9-33 11-33 14-42 23-18 13-27 25-55 59-11 17-7 16-6 25 0 25 5 25 10 18 9 5 8 1 17-2 108-36 176-38 35-14 15-10 16-15 33-42 13-25 7-25-1-17-2-8-8-11-17-13-25-15-25-12-16-6-17-3z"/>
<path fill="#4b56ba" d="M-121 -451l38-4 66-1 67 2 50 4 25 6 25 8 117 43 25 11 25 19 34 44 62 69 20 33 40 83 14 42 9 42 4 33 1 59-2 41-6 42-9 42-17 50-15 33-23 42-20 30-24 29-34 33-61 50-25 17-31 15-67 22-50 12-50 5-50 1-34-4-35-9-73-28-42-20-42-27-58-58-17-14-31-20-9-9-30-41-60-76-62-71-24-37-18-36-9-31-5-33 1-34 5-25 47-117 20-33 33-43 26-32 33-35 33-28 25-17 59-36 25-13 41-14zM42 -67l-67 18-42 17-25 14-25 17-21 18-62 64-14 19-9 17-5 17-3 16 0 25 4 25 8 17 7 8 12 5 8 1 17-2 108-37 184-40 25-10 15-8 11-9 16-16 33-47 13-29 3-25-3-16-5-9-16-15-17-11-33-18-25-9-17-4-25 0z"/>
<path fill="#4b5bbe" d="M-113 -451l38-3 83 0 59 2 33 4 25 5 25 9 115 42 27 12 17 11 8 8 34 44 60 67 21 33 27 55 16 37 13 42 8 41 4 50 0 42-5 50-7 42-11 42-15 41-19 42-17 29-21 30-22 25-32 31-64 52-24 17-29 13-67 22-50 12-50 5-50 1-34-3-31-8-77-29-42-21-42-27-58-59-53-40-31-41-61-76-64-73-25-39-17-36-8-27-5-33 1-34 6-25 24-58 14-42 10-21 19-29 40-52 34-40 35-33 22-18 66-41 26-14 25-11 57-17zM58 -76l-41 9-42 12-42 16-25 13-25 17-21 17-62 63-17 21-8 14-8 19-4 17-1 25 4 32 7 18 10 13 8 5 9 2 25-2 83-29 34-10 175-38 23-8 16-8 12-8 16-15 33-48 17-34 3-12 1-17-3-16-5-9-13-14-17-12-33-19-25-11-17-5-16-2-26 0z"/>
<path fill="#4b60c0" d="M-103 -451l120-2 58 3 34 5 33 9 120 44 36 16 20 17 33 44 50 54 15 19 14 25 33 67 21 58 10 42 4 42 0 58-5 59-9 45-14 46-17 42-19 37-25 38-27 34-31 29-67 55-24 16-18 9-92 29-33 8-50 5-50 1-34-3-33-10-75-28-41-19-26-16-25-20-50-53-50-37-38-50-29-33-33-42-59-67-30-50-17-42-5-25-2-33 3-25 9-32 19-43 14-42 13-25 21-32 50-63 36-39 31-26 91-57 26-12 25-8 58-17zM75 -84l-42 7-41 11-42 14-33 14-26 15-25 20-66 65-17 19-12 19-8 17-6 25-1 25 4 33 6 19 12 15 13 7 9 2 16 0 17-4 75-27 34-10 183-39 34-14 25-21 33-47 20-39 5-17 0-17-3-16-4-9-10-12-16-14-34-20-25-13-16-5-17-4-17-1z"/>
<path fill="#4b66c3" d="M-73 -451l98 0 50 3 34 4 33 10 117 42 25 10 17 10 16 14 34 46 50 53 19 25 48 97 13 37 8 33 6 42 2 50-2 50-6 50-10 42-13 42-18 41-23 42-24 34-29 33-21 19-80 65-21 11-16 7-100 31-34 6-58 4-34-1-25-3-41-12-71-27-38-19-33-21-21-18-46-50-50-38-28-37-39-45-31-39-53-58-18-25-19-34-11-25-7-25-6-42 3-33 7-25 21-50 15-42 12-25 17-25 45-58 30-34 25-25 28-23 71-44 30-15 26-10 65-18 25-5zM42 -84l-42 10-42 12-33 13-25 13-25 18-21 18-71 72-15 20-8 17-6 16-4 25 1 25 5 34 7 16 12 15 8 4 17 4 25-2 117-38 183-39 25-8 17-10 12-9 13-14 34-53 13-25 5-17 3-16-2-17-3-11-8-14-17-16-25-17-33-19-25-10-17-3-25-1z"/>
<path fill="#4a6bc5" d="M-135 -443l35-5 83-3 50 1 67 6 39 10 120 43 33 15 22 17 37 49 58 63 18 30 41 83 14 42 9 42 4 33 1 50-3 50-5 42-12 50-15 42-14 33-21 38-25 36-23 27-19 18-79 65-21 15-17 8-83 27-34 9-42 5-66 2-25-2-34-8-83-31-34-16-29-17-21-15-58-63-50-39-24-33-43-48-28-36-56-60-27-40-16-34-9-25-6-33-2-25 3-25 7-25 22-50 14-42 12-25 19-28 66-81 26-26 25-22 100-62 34-13zM58 -93l-50 11-50 14-33 12-25 13-17 11-25 20-75 75-16 20-10 17-7 19-5 23 0 33 5 34 8 21 9 12 15 8 9 3 17 1 25-4 75-27 34-10 83-18 84-15 33-9 27-12 15-12 8-9 33-53 21-43 4-17 1-17-4-16-5-11-10-14-15-13-33-23-34-18-16-5-25-5-26 1z"/>
<path fill="#4771c6" d="M-130 -443l30-4 92-2 50 1 58 5 35 9 124 45 31 13 23 17 38 51 58 63 16 28 43 87 12 38 10 42 4 33 1 50-3 50-6 42-10 45-16 47-15 33-19 36-25 36-25 29-17 16-81 67-19 13-17 8-88 29-29 7-42 5-66 3-25-2-34-9-80-29-35-16-29-17-23-17-16-17-42-48-45-35-26-33-46-51-26-33-58-62-25-38-17-34-9-25-6-33-1-25 2-25 8-25 21-50 18-50 14-25 18-25 36-46 34-38 25-25 24-19 76-48 25-12zM75 -101l-42 8-58 14-40 12-27 12-25 16-25 20-75 74-17 20-10 17-11 25-5 17-1 25 4 41 6 25 9 17 9 8 16 7 17 2 25-2 25-7 58-22 42-12 159-30 33-8 26-11 13-8 11-11 17-24 16-30 17-31 9-21 3-17 1-17-7-25-11-16-12-11-33-24-33-20-17-7-25-6-17-1z"/>
<path fill="#4577c6" d="M-123 -443l23-3 100-2 100 7 30 7 137 49 25 12 17 12 8 9 34 46 58 63 11 18 48 98 13 44 9 41 3 34 0 50-3 50-6 38-9 37-17 50-14 33-19 34-24 35-27 32-15 15-45 35-38 33-17 12-17 8-93 30-24 6-33 4-75 4-25-2-34-9-76-28-35-16-31-18-25-18-14-15-44-53-42-33-32-39-43-46-31-37-53-56-24-36-16-34-10-26-6-32-1-25 3-25 7-25 21-50 18-50 15-25 17-25 35-44 36-40 25-25 22-18 79-49 22-11zM42 -100l-92 22-33 12-26 13-16 12-25 22-62 61-22 24-12 17-12 26-5 16-3 17 1 33 6 46 8 21 9 11 10 6 15 4 17 1 25-2 25-8 67-23 33-10 167-31 33-8 25-11 9-6 14-15 11-16 25-46 21-46 3-17 0-17-3-16-8-17-14-17-24-19-42-28-25-12-17-4-25-3-25 2z"/>
<path fill="#447cc7" d="M-116 -443l116-4 74 4 35 4 17 5 49 19 68 23 49 20 17 12 8 9 34 48 58 63 9 15 49 100 11 33 9 42 4 33 1 50-3 50-5 42-10 42-17 50-15 33-18 34-23 33-28 34-14 13-42 32-44 38-14 10-17 8-98 32-19 5-42 4-75 3-25-3-28-9-72-26-33-16-42-24-22-17-53-66-42-37-27-31-40-39-37-44-55-58-25-39-16-34-9-28-5-33-1-25 5-25 45-117 15-27 33-44 63-71 21-20 16-13 50-30 32-21 19-9zM58 -109l-108 24-25 9-25 11-25 17-25 21-84 85-16 24-10 18-9 25-2 17 1 33 6 50 5 20 9 12 16 9 17 3 17 1 25-4 25-7 67-23 33-9 200-38 17-5 16-9 17-16 9-14 33-64 17-39 3-17 0-17-3-16-8-17-13-17-19-16-44-31-25-14-16-6-25-4-26 0z"/>
<path fill="#4482c6" d="M-103 -443l111-2 101 8 16 4 50 20 64 21 53 22 16 11 8 8 35 50 50 52 11 15 50 100 16 51 9 41 4 50-1 50-6 59-8 37-17 53-14 35-19 36-25 37-34 39-16 15-42 31-42 37-25 13-103 34-30 6-59 3-33 2-27-2-30-9-85-31-38-19-29-18-17-12-11-12-39-54-17-19-91-86-43-49-56-59-18-26-14-24-11-25-8-25-6-42 3-33 8-25 21-50 14-42 9-19 17-25 59-73 39-42 19-16 50-30 43-29 16-8 25-8 75-22zM75 -117l-122 25-28 9-25 11-25 16-25 22-84 85-12 16-13 21-9 21-7 25-1 25 6 75 3 16 3 9 5 6 17 7 17 2 25 1 25-4 92-30 33-9 167-29 42-9 25-10 16-15 17-27 36-75 10-25 3-25-2-17-5-17-9-16-16-18-50-38-25-16-17-7-25-6-17-1z"/>
<path fill="#4488c6" d="M-43 -443l60 0 75 5 24 4 59 23 83 27 26 11 17 10 13 12 37 53 50 52 9 12 54 109 12 38 8 37 4 33 2 42-3 50-6 50-13 50-14 42-15 33-22 39-27 37-30 33-51 39-31 28-19 15-25 11-109 34-100 7-25 0-17-3-108-39-49-25-26-17-10-8-14-17-60-92-33-20-42-35-49-53-56-59-20-29-16-29-11-25-8-34-3-33 5-33 45-117 21-34 34-43 66-74 25-20 42-24 45-31 18-8 104-31zM50 -118l-108 23-25 8-26 12-16 12-25 21-92 96-10 13-14 25-10 25-4 17-1 16 4 84-1 25-2 17 4 7 67-3 25-2 25-7 67-23 42-11 209-36 26-9 12-8 8-9 12-21 42-91 8-21 3-17-1-17-3-16-7-17-11-17-18-16-55-43-25-14-16-6-25-4-26 1z"/>
<path fill="#438ec5" d="M-12 -443l20 0 84 7 25 4 50 20 87 28 30 12 17 10 16 18 34 49 50 51 8 12 23 48 30 59 13 42 9 42 4 33 0 41-4 59-6 42-11 41-18 50-15 33-25 40-25 33-25 27-50 37-50 44-25 11-109 35-100 7-25-1-30-7-95-34-50-27-34-23-13-16-16-25-18-33-6-17 2-8 12-9 81-14 100-32 42-9 184-28 25-7 16-10 9-9 8-14 21-52 27-59 8-25 1-16-2-17-5-17-15-25-18-18-50-40-25-17-25-10-25-4-26 1-150 31-33 12-25 16-34 30-79 83-13 16-15 25-15 34-4 17-1 16 3 59-2 33-7 18-9 6-8 1-17-8-33-26-46-49-58-59-21-31-15-27-10-26-9-33-2-33 5-33 44-117 20-32 34-43 41-48 36-36 14-11 50-28 40-28 19-8 100-29z"/>
<path fill="#4294c5" d="M-127 -434l18-4 109-3 109 8 16 5 50 21 52 15 62 25 12 7 10 9 40 59 41 41 15 17 23 50 29 55 13 37 9 42 5 33 1 42-3 50-6 50-10 42-14 42-14 33-14 28-25 37-29 35-16 17-47 33-46 42-13 8-125 41-108 7-25-1-17-5-93-33-49-25-25-15-17-14-11-13-19-33-10-25-2-9 2-8 8-8 16-6 58-12 75-25 42-11 225-34 17-6 17-12 12-20 21-58 30-67 4-17 0-25-3-16-6-17-17-24-66-58-25-16-17-8-25-5-17-1-25 3-150 30-34 14-25 18-25 23-83 89-15 18-10 18-15 33-8 25 2 66-4 34-9 16-8 5-8 0-9-3-16-10-17-13-17-16-26-29-59-59-23-34-17-33-9-25-8-33-1-25 3-25 7-22 22-53 14-42 13-25 17-24 34-42 33-38 29-30 20-16 51-29 30-21 21-12z"/>
<path fill="#419ac5" d="M-121 -434l12-2 109-4 109 9 18 5 48 21 50 13 61 25 15 8 8 8 42 62 41 41 13 14 22 50 32 59 13 42 9 41 4 34 1 33-3 50-6 50-9 39-17 49-16 37-18 31-25 35-22 26-19 19-46 31-45 42-15 9-45 13-55 20-20 6-108 7-25-2-109-38-47-23-28-17-19-17-12-16-13-25-7-25 1-9 5-8 12-7 58-14 92-30 50-10 83-10 117-17 25-8 15-13 10-18 21-65 30-67 5-25-2-25-5-17-7-15-17-22-66-59-25-17-17-8-25-5-17 0-25 3-58 13-92 17-34 13-25 17-25 23-83 91-14 16-11 18-16 32-10 25-2 17 1 58-4 25-3 9-7 8-9 4-17-5-25-16-92-91-26-34-24-44-10-31-5-25-2-25 3-25 6-19 20-48 17-50 14-25 24-33 25-31 42-46 25-26 16-13 50-28 33-23 18-11 66-18z"/>
<path fill="#40a0c3" d="M-112 -434l112-4 109 8 13 4 45 20 75 22 50 22 17 13 42 63 52 52 22 50 34 62 12 39 9 41 4 34 0 33-8 100-8 34-17 50-17 40-17 29-16 24-33 40-17 17-50 33-43 42-16 8-42 12-59 22-16 4-108 7-25-1-117-42-64-35-20-16-7-9-13-25-7-25 0-8 3-9 8-7 8-4 50-13 92-31 50-9 83-9 76-11 50-5 16-5 17-12 11-19 19-67 35-83 2-17-2-25-5-17-7-16-18-25-68-62-25-18-17-7-17-4-16-1-26 2-66 15-93 16-33 12-25 16-25 25-88 97-20 27-17 33-13 32-2 17 0 50-1 17-6 16-3 5-8 6-9 1-8-2-25-15-92-88-25-33-14-24-12-25-8-25-6-33 0-25 5-25 43-115 17-28 34-43 50-56 33-34 58-32 42-30 17-8z"/>
<path fill="#3fa5bd" d="M-43 -434l51-3 109 11 50 22 71 20 41 17 22 12 11 13 22 36 16 22 51 50 22 50 28 48 8 18 18 68 5 33 1 34-3 50-6 58-13 50-18 50-11 25-23 38-25 33-26 30-57 39-46 44-13 6-50 14-67 24-125 7-25-6-92-34-55-28-20-12-15-13-11-16-8-17-5-25 2-8 6-9 14-8 42-12 92-30 42-8 100-9 75-11 50-3 17-6 14-13 11-20 12-55 8-25 30-71 3-21 0-17-9-33-14-25-14-15-30-27-28-28-17-15-16-10-25-9-17-3-25 1-75 18-92 14-25 7-25 14-17 13-17 17-100 114-12 17-20 42-10 25-2 17-1 50-3 17-3 8-7 8-9 4-16-3-17-11-84-77-16-18-17-23-17-30-10-25-9-34-3-33 3-25 5-17 20-50 19-54 17-27 34-44 76-84 15-11 50-27 39-28 16-9 54-14 50-17z"/>
<path fill="#3ca9b7" d="M-22 -434l30-1 103 9 56 24 67 18 42 17 25 14 10 11 23 39 13 19 16 17 29 26 9 10 19 47 31 52 7 15 10 34 9 41 4 34 1 25-9 108-14 50-16 48-13 27-21 35-25 33-28 33-55 35-39 40-11 8-51 15-75 28-125 7-28-8-89-33-51-26-24-14-12-11-7-8-8-17-6-16 0-10 4-15 12-11 134-43 42-8 100-7 75-11 58-1 17-7 8-9 9-14 5-15 9-50 7-25 34-83 2-17-1-17-9-33-14-26-13-16-28-25-34-37-17-14-16-11-17-6-17-4-25 0-25 4-58 16-100 15-26 8-21 12-29 28-53 64-47 53-16 22-17 36-13 31-2 17-2 42-2 16-6 14-9 6-8 1-8-2-17-9-75-67-25-25-17-24-17-30-12-31-6-25-3-33 3-25 43-118 17-28 34-44 79-86 12-10 50-25 42-31 17-8 50-12 50-18 50-1z"/>
<path fill="#3baeb1" d="M-123 -426l14-3 42 0 67-5 109 10 16 6 34 16 16 5 50 12 64 26 12 7 8 10 25 43 17 23 41 38 9 11 13 35 8 17 31 50 13 42 10 41 4 34 0 25-9 108-12 45-16 47-10 25-16 28-25 35-31 37-10 11-50 29-17 16-25 28-12 8-47 12-75 29-125 7-22-6-95-35-62-32-21-15-9-10-8-17-4-16 0-9 4-11 8-9 9-5 83-28 42-12 42-7 108-7 67-10 17 0 41 3 17-4 8-7 9-13 8-20 15-78 8-25 27-67 2-17-2-25-10-33-15-25-43-42-32-38-17-15-16-10-17-6-17-3-33 2-75 20-84 11-25 5-25 9-17 10-25 25-115 140-18 36-16 39-9 73-9 12-8 3-8 0-17-9-84-71-25-29-16-27-10-19-9-25-8-33-2-25 3-25 9-25 17-42 16-48 16-27 18-24 42-50 48-51 18-17 59-29 42-32 66-17z"/>
<path fill="#3fb2aa" d="M-117 -426l50-1 67-5 109 10 13 5 37 18 16 5 50 10 61 25 13 8 8 9 27 47 14 19 45 42 8 13 13 37 37 59 9 25 14 58 4 34 1 25-9 108-11 40-16 49-12 28-14 25-25 36-33 39-8 9-50 27-17 16-29 32-13 8-50 12-50 22-17 5-125 7-17-4-100-37-58-30-25-18-10-15-6-17 0-17 4-8 12-10 83-31 42-11 42-7 108-4 75-10 59 8 11-2 5-3 5-5 12-28 7-22 6-50 8-34 32-83 2-17-2-25-10-33-8-17-10-14-37-36-38-49-25-19-17-8-16-4-34 1-25 5-58 18-109 14-25 9-17 9-25 25-57 74-60 71-16 32-17 39-5 17-9 58-5 8-6 5-8 0-9-2-16-10-76-62-25-31-16-25-12-25-8-25-6-25-1-25 3-25 43-117 14-24 34-44 75-82 16-14 59-29 42-33 66-17z"/>
<path fill="#48b5a3" d="M-52 -426l52-4 109 10 8 3 42 21 66 14 57 23 15 8 12 14 19 36 14 23 17 18 31 26 6 9 15 41 40 62 8 25 12 47 5 30 2 28-10 117-9 35-23 65-10 25-17 27-25 33-33 38-42 21-17 11-42 47-16 6-42 11-55 24-12 3-67 2-50 5-18-2-112-42-62-33-12-9-7-8-7-17-2-16 2-9 5-8 13-9 75-27 59-15 41-3 92 0 75-10 67 16 8 0 9-2 6-8 2-9 12-58 4-42 6-33 8-25 27-67 1-17 0-17-8-33-6-17-10-18-17-20-22-20-37-52-16-17-17-11-17-6-16-3-25 0-34 7-58 20-92 10-25 4-17 6-17 9-25 24-62 84-56 67-15 29-21 46-5 17-10 50-6 10-8 3-17-4-17-11-50-39-27-26-15-18-19-32-13-34-7-25-3-33 3-25 43-117 21-33 33-42 76-81 17-11 50-23 33-28 13-7 62-15 42-16z"/>
<path fill="#50b79a" d="M-33 -426l41-2 101 11 41 21 25 7 50 9 53 21 16 8 7 6 8 11 21 42 12 18 14 15 28 23 9 11 11 33 8 17 31 42 8 16 12 42 10 42 3 25 0 25-9 108-14 50-18 50-9 21-17 28-25 33-33 38-9 6-33 13-17 10-8 8-34 41-8 5-50 12-67 29-67 2-50 5-9 0-16-5-100-37-34-17-30-16-19-17-7-17-1-16 8-14 16-10 75-27 34-9 25-4 33-1 100 2 67-6 17 3 67 23 16 1 9-7 0-10-6-25-1-17 7-50 3-41 10-42 30-75 1-17-1-25-10-35-16-32-38-42-29-47-9-11-16-16-17-9-17-5-16-2-25 1-34 8-58 21-34 5-75 6-25 7-17 9-16 14-9 9-61 86-61 75-13 25-22 50-16 58-6 9-4 3-9 1-8-2-17-9-41-30-34-30-19-25-19-34-12-31-6-27-2-25 4-25 25-67 10-33 11-23 16-25 34-43 75-79 17-12 50-21 17-12 20-19 13-7 58-13 42-16z"/>
<path fill="#56b991" d="M-16 -426l24 0 101 12 12 5 21 13 17 6 58 10 15 4 52 22 17 11 36 67 15 17 37 34 5 8 10 33 41 59 6 13 8 27 12 52 3 25 1 25-8 92-4 25-12 42-21 58-13 24-16 25-25 31-25 28-17 9-33 11-17 12-34 44-13 8-28 5-17 6-67 30-67 2-50 5-16-2-102-38-52-25-26-17-9-8-4-8-3-17 1-8 5-9 14-10 75-27 34-8 25-4 42-1 91 7 67-3 25 6 59 23 16 5 9-1 7-3 7-9 4-8 0-8-13-25-5-26 6-83 4-25 7-25 29-75 1-17-1-25-8-33-13-29-17-23-25-30-22-44-11-16-17-18-17-10-16-5-17-2-25 1-34 7-58 23-17 5-33 5-75 5-17 4-17 8-16 14-9 9-60 87-65 83-32 68-20 58-6 9-9 4-16-4-25-14-34-24-25-23-17-22-16-28-13-32-9-33-2-25 4-25 26-67 9-33 10-21 16-25 34-43 75-78 17-12 41-16 17-9 33-30 9-4 67-15 37-14 46-3z"/>
<path fill="#5cbb88" d="M-67 -417l67-8 100 13 13 3 37 20 25 6 50 7 67 29 6 5 6 8 24 50 11 17 12 12 34 30 7 16 4 17 8 17 30 38 13 20 12 39 9 34 4 27 1 25-10 117-12 45-17 48-10 24-15 26-33 43-31 31-19 9-34 6-8 3-8 10-17 31-15 16-10 5-34 8-62 29-13 5-67 2-50 5-21-3-45-19-65-23-49-25-21-17-5-8-2-17 3-8 7-9 15-8 33-14 50-15 25-5 25-2 42 2 92 10 67 3 33 8 58 24 17 1 9-5 8-18 2-14 0-8-14-25-8-26-1-16 6-67 3-25 7-25 29-75 2-17-2-25-8-33-14-34-35-50-22-50-9-17-11-15-11-10-14-8-17-5-17-1-25 2-42 10-58 25-17 5-33 5-75 3-24 6-15 8-11 10-13 15-61 92-60 78-13 22-19 42-23 59-3 5-9 7-8 1-8-1-25-13-34-23-25-23-17-21-16-29-12-29-7-25-3-33 3-25 26-67 10-33 7-17 17-27 34-42 75-78 17-13 58-22 9-6 20-21 13-9 58-12 50-17z"/>
<path fill="#63bd7e" d="M-46 -417l46-6 100 14 17 7 25 15 25 6 50 5 64 25 11 6 10 11 23 50 9 16 15 18 30 25 5 8 6 25 8 17 28 31 17 23 8 20 8 29 9 37 3 27-1 41-10 101-24 75-18 41-17 27-17 22-25 27-17 14-8 4-17 3-8 0-12-5-4-8 0-33-19-34-6-25 3-67 5-33 9-33 23-59 4-17 0-25-6-33-14-39-35-61-14-50-7-17-19-27-8-7-17-9-17-3-16 0-34 4-42 13-58 27-25 8-33 4-76 1-16 4-17 9-10 9-15 19-56 90-63 83-22 42-33 75-10 12-8 3-17-3-16-7-25-16-34-29-17-22-12-21-14-34-9-33-2-25 4-25 22-59 13-41 7-15 16-26 41-51 76-77 17-9 50-16 11-7 23-24 8-5 10-4 57-12 41-14zM-85 309l35-4 33 0 134 21 42 1 16 2 25 8 50 22 10 8 1 9-1 8-8 17-10 11-8 5-25 4-17 7-61 31-14 3-50 0-50 6-20 0-114-42-18-9-44-25-9-8-5-8-2-9 0-8 4-8 10-9 47-20z"/>
<path fill="#6dbe76" d="M-30 -417l22-3 16 0 84 14 17 5 16 12 17 8 17 4 50 3 16 4 51 19 16 9 9 10 19 48 14 25 8 10 29 24 6 8 7 33 6 9 36 35 17 23 16 52 11 57-1 33-10 103-25 80-17 40-16 26-17 21-25 27-17 14-16 5-9 0-8-3-4-4-3-8-5-25-18-34-5-17-3-25 7-75 10-41 25-67 2-17-1-25-4-25-7-25-34-75-3-17-1-33-2-17-10-17-28-35-8-8-8-5-17-1-17 1-50 11-50 18-58 29-25 7-34 3-75-1-17 5-8 4-15 14-10 14-56 95-66 91-14 25-39 84-9 11-8 5-17 0-16-7-25-15-17-13-25-26-23-39-11-25-8-33-2-25 3-25 23-59 10-33 8-20 25-38 42-50 66-66 19-10 57-15 8-6 15-20 10-9 17-5 41-8 67-19zM-100 317l42-6 33 1 37 5 105 23 42 0 16 2 27 9 35 16 9 9 2 8-2 8-4 9-8 6-25 7-67 37-17 7-16 2-51-1-41 6-17 0-17-5-33-14-75-27-36-18-23-17-5-8-1-9 1-8 6-8 12-9 21-9z"/>
<path fill="#77bf6d" d="M-13 -417l30 0 75 15 17 10 8 9 12 7 21 4 67 3 9 2 61 25 9 8 5 8 18 50 8 17 12 17 27 25 3 8-1 9-15 16 2 9 12 4 17 2 17 10 25 23 17 25 16 54 9 49 0 33-9 92-3 17-22 69-20 47-30 42-25 27-17 13-8 3-8 1-9-3-7-7-12-34-18-33-5-25 3-59 4-33 10-33 22-59 4-25 0-25-6-33-27-76-4-16 0-17 3-11 8-17 9-14 3-8 0-8-3-10-25-12-17-12-14-16-11-24-9-11-13 1-78 20-67 30-47 25-23 9-39 4-67-4-16 0-17 5-8 5-17 21-36 69-25 42-65 91-49 100-9 12-8 6-8 2-17-2-17-8-25-16-17-14-16-19-22-36-12-29-7-29-2-25 4-25 22-59 17-51 25-38 42-49 66-65 17-10 17-5 50-6 8-8 9-18 7-8 9-6 9-3 83-17 19-8 23-6zM-61 317l28 1 25 4 83 23 25 6 25 2 34 0 16 2 30 12 12 9 7 8-2 8-34 25-54 34-17 5-59-1-50 7-17-3-49-20-63-22-47-25-10-8-5-8-2-9 3-8 7-8 16-9 50-17z"/>
<path fill="#83bf64" d="M-49 -409l49-7 44 7 34 8 18 9 6 8 7 21 8 5 8 0 34-6 50-3 16 4 55 21 13 8 9 17 17 67 2 8-3 8-17-1-17-4-17-9-14-19-10-25-6-9-3-2-9 0-33 9-42 7-16 6-114 64-28 11-17 3-25 0-75-9-17 2-8 3-9 7-8 12-46 96-36 59-47 66-46 92-9 12-8 7-8 4-9 0-16-4-25-14-17-12-17-17-24-34-17-42-9-42 1-16 6-25 20-51 12-41 19-34 34-42 17-19 58-57 17-12 16-7 25-4 17 1 25 6 9-4 3-4 4-25 5-8 10-8 32-9 62-12 25-13zM316 -159l10-4 8-1 50 3 17 7 25 22 15 23 10 28 12 48 4 33-11 125-13 48-19 52-15 30-25 34-33 32-17 8-8 0-6-3-7-9-10-25-18-33-5-17-1-17 2-50 5-33 9-33 19-51 7-25 1-25-3-25-6-25-17-58-3-17 2-17 4-8 10-12zM-85 326l27-2 27 2 35 8 54 20 25 8 17 2 50 0 17 3 19 9 7 8 1 8-4 9-14 16-34 25-17 8-16 2-51-1-41 6-17 0-109-38-22-10-30-17-10-8-6-8-1-9 3-6 11-10 39-16z"/>
<path fill="#8fbe5d" d="M-34 -409l26-4 16 0 25 5 42 12 9 4 8 8 7 25 10 13 8 6 8 3 9-1 18-13 15-5 33-6 25 3 25 11 26 8 11 6 5 6 8 19 4 33 0 9-3 8-9 3-8-1-8-4-14-15-13-25-7-7-8-4-17 0-33 5-42-1-8 3-33 29-24 17-60 36-25 9-17 4-25 1-25-3-59-14-16 1-9 3-8 7-4 6-24 67-23 50-36 59-45 66-39 76-13 21-8 8-8 4-9 1-8-1-17-6-25-15-25-23-17-22-8-15-17-43-6-35 0-16 6-25 20-51 12-41 18-31 51-61 58-56 17-13 16-6 25-3 17 3 25 10 17 1 8-3 9-8 1-9-2-16 1-9 7-8 22-8 62-14 34-18zM336 -150l40-5 16 3 17 9 17 15 13 19 12 35 12 49 3 33-14 126-18 58-16 42-17 30-25 31-25 22-9 4-8 2-8-2-9-8-24-46-9-25-2-25 3-50 6-33 10-34 19-50 4-25-2-42-17-75-1-25 5-14 8-10 9-6zM-100 334l33-3 34 2 31 9 52 24 25 10 17 2 33-2 25 1 17 7 6 8 1 9-4 8-15 17-11 8-19 10-16 3-51-2-50 8-13-2-117-42-31-17-10-8-6-8 0-9 5-8 13-8 17-8z"/>
<path fill="#9bbd55" d="M-17 -409l25-1 34 7 30 11 10 8 5 8 8 25 12 25 2 9-4 16-11 17-20 17-57 36-17 7-25 7-25 1-25-4-75-25-17-2-8 7-6 15-14 66-20 50-38 67-50 75-31 61-17 29-8 9-8 5-17 1-25-9-25-17-25-27-17-28-17-45-5-37 4-25 23-59 12-41 8-17 25-34 42-47 50-46 17-13 16-6 25-2 17 5 42 19 25 6 8-3 7-13 5-16-2-25 4-9 11-8 22-8 28-8 29-17 13-6zM184 -351l16-3 17 0 61 20 10 8 5 9 2 16-3 21-8 4-8-4-9-8-17-23-8-7-8-4-42-1-13-3-8-8 2-8zM342 -142l34-6 16 1 17 9 17 15 8 11 6 12 11 34 10 41 3 33-13 122-17 56-17 45-16 30-25 31-25 20-9 4-8 1-8-4-9-10-20-36-10-25-2-25 2-42 5-33 9-33 22-59 5-25-1-33-15-75 0-26 6-16 8-9zM-109 342l42-4 34 4 25 10 50 30 33 12 8 2 42-7 17 2 8 4 4 6 0 8-4 8-7 9-11 8-15 6-17 0-33-2-59 8-16-2-103-35-32-17-11-8-6-8 1-9 7-8 16-8z"/>
<path fill="#a8bb4f" d="M-43 -401l35-6 16 0 30 6 23 9 12 8 6 8 14 42 2 17-1 8-7 17-12 13-14 12-44 28-17 8-17 5-25 3-24-2-17-5-51-24-16-13-5-9-3-8-1-17 2-33 3-8 6-9 14-8 34-14 31-19zM256 -326l3-2 8-1 11 3 6 9 2 8-2 9-8 1-9-7-8-11zM-302 -309l18-1 17 4 40 22 21 17 5 8 6 17 0 42-3 25-12 41-19 42-39 67-38 58-40 76-13 16-8 6-9 3-16-2-17-6-25-17-17-16-17-24-16-35-8-26-4-25 1-25 26-67 10-38 16-29 34-43 25-26 58-52 9-6zM372 -142l20 1 17 7 17 15 8 13 9 23 16 57 3 26 0 17-12 108-7 29-26 72-16 31-25 31-25 20-9 3-8-1-8-5-9-11-16-27-8-17-5-25 2-41 4-34 6-25 26-75 5-25-2-42-11-66 3-26 3-8 7-8 11-8 17-6zM-114 351l22-4 17-1 25 3 17 4 16 8 19 15 11 16 4 11 8 5 8 2 18 7-16 9-26 8-17 0-92-26-32-16-11-8-5-8 2-9 10-8zM105 409l12-2 8 1 3 1 2 8-8 9-5 2-8 1-17-3-4-9z"/>
<path fill="#b3ba49" d="M-28 -401l20-3 25 2 33 10 14 8 7 8 9 25 5 25-1 17-8 17-16 16-52 34-16 7-17 4-17 1-25-3-16-5-17-8-22-13-12-10-5-7-7-16-2-17 2-17 7-16 8-9 64-37zM-313 -301l21-4 16 2 22 11 31 25 12 17 5 16 3 34-3 33-10 33-18 42-43 75-32 50-36 67-12 17-10 9-9 3-16 0-17-6-25-17-17-17-16-22-12-25-11-34-5-25 2-25 22-58 12-43 7-16 9-15 34-42 25-27 50-43zM362 -134l14-3 16 1 17 7 17 15 12 22 13 41 8 34 2 25-14 117-6 25-24 70-15 30-18 26-25 23-17 6-8-1-8-6-9-11-16-28-8-25-1-34 3-33 6-33 9-34 19-50 4-17 1-33-9-75 1-25 8-16 8-8zM-111 359l19-3 25 1 17 3 17 7 12 9 6 8 4 8 0 17-8 8-18 0-38-8-25-8-17-9-11-8-4-8 4-9z"/>
<path fill="#beb745" d="M-45 -392l28-7 17-2 17 2 25 8 13 7 9 8 7 17 6 25 0 17-6 16-12 17-9 8-33 22-17 9-17 6-16 2-17 0-17-3-16-6-24-13-11-8-14-17-3-8-3-17 2-17 3-8 8-10 50-34zM-320 -292l19-8 17 1 17 7 8 5 25 21 11 16 9 25 4 33-3 25-8 33-18 42-42 75-32 50-31 59-11 17-12 12-9 3-16 1-17-6-25-16-17-17-14-19-11-22-10-28-7-30 0-22 7-23 20-51 8-33 7-16 8-13 26-32 27-31 39-35zM358 -125l18-6 16 0 17 7 17 16 9 16 16 49 7 35 1 16-15 126-28 83-15 32-17 23-17 17-8 6-8 4-9 1-8-2-8-7-22-32-8-25-2-25 4-42 6-33 12-42 16-42 4-17 2-33-7-67 0-25 7-17 7-8zM-107 376l15-7 9 0 16 3 12 4 12 8 4 8-3 4-8 4-25-3-16-5-14-8z"/>
<path fill="#c9b546" d="M-31 -392l23-4 16 0 18 4 24 12 8 8 7 13 5 25-1 17-7 16-5 9-18 16-22 15-17 9-17 6-16 2-25-1-17-5-17-8-23-18-10-16-3-9 0-16 6-17 16-17 39-27 12-6zM-309 -292l17-2 16 5 26 18 18 21 8 16 6 25 1 25-3 25-10 34-15 33-40 75-31 50-31 59-12 16-8 7-9 5-16 1-17-5-25-16-17-17-12-16-13-26-11-33-4-25 1-25 25-67 8-33 14-26 34-42 25-27 50-41zM378 -125l14 0 9 2 16 11 9 10 9 19 16 48 5 27 1 16-10 67-4 52-9 32-20 58-13 28-25 32-17 14-8 3-9 1-8-3-8-7-13-18-9-17-6-25 0-33 5-33 7-34 10-33 16-42 4-17 1-41-5-59 2-25 4-10 9-10 16-10z"/>
<path fill="#d2b249" d="M-5 -392l22 2 16 6 13 8 7 9 7 16 2 25-4 17-10 17-15 13-17 12-24 11-17 5-25 0-17-3-16-7-17-11-12-12-7-17-1-16 7-17 17-17 38-26 25-10zM-317 -284l16-4 9 0 12 4 21 15 17 19 10 16 7 25 2 25-4 34-8 25-15 33-39 75-30 50-32 58-15 18-10 6-8 2-17-1-16-7-17-12-17-17-14-22-12-25-10-33-3-25 2-17 22-58 11-42 12-23 34-42 25-27 42-34zM370 -117l14-3 17 2 16 11 9 11 8 17 17 52 3 19 1 16-10 59-6 67-13 43-17 46-15 27-18 24-17 13-8 3-9 0-8-4-8-7-18-29-7-25 0-25 5-41 7-34 10-33 16-42 4-17 2-33-4-58 2-25 8-19 8-9z"/>
<path fill="#dcb04c" d="M-27 -384l19-3 16 0 12 3 17 8 8 9 8 16 2 17-2 17-7 16-7 9-14 11-25 15-17 6-16 3-17-1-17-4-25-13-10-9-6-8-4-17 3-17 13-16 21-17 27-17zM-323 -276l14-5 8-1 17 4 17 11 17 17 10 16 8 25 3 25-4 34-7 25-15 33-43 84-53 92-12 16-13 10-8 3-17-1-16-7-17-11-17-17-12-19-13-27-8-26-4-30 1-17 23-58 10-42 11-21 26-31 33-37 33-27zM368 -109l16-5 8 0 17 6 9 8 10 17 15 36 8 30 2 25-11 67-6 59-27 82-17 33-16 21-17 12-8 3-9 0-8-4-8-8-14-23-8-25 0-25 5-39 8-36 10-33 16-42 4-17 2-33-3-58 1-17 5-17 6-8z"/>
<path fill="#e4b04c" d="M-34 -376l17-5 17-1 17 3 16 10 9 10 3 8 3 17-2 17-9 16-8 9-12 10-17 9-17 6-16 2-25-2-17-6-17-11-11-17-1-16 4-10 13-15 29-21zM-329 -267l20-7 17 1 16 8 23 23 9 17 7 25 2 25-4 25-14 41-44 92-54 95-9 14-16 13-8 4-17-1-16-6-17-11-17-18-10-15-15-32-8-26-3-25 2-17 23-58 10-42 9-18 26-32 33-36 25-21zM367 -100l9-5 16-3 17 6 8 8 9 13 17 42 6 22 2 17-1 17-12 58-5 59-24 75-11 25-14 21-17 18-8 5-8 2-9 0-8-5-13-16-12-25-2-25 3-34 8-41 12-42 17-42 3-17 2-33-1-58 2-17 6-15z"/>
<path fill="#e7b74a" d="M-36 -367l19-7 17-2 8 2 16 7 8 8 5 8 2 9 1 16-6 17-6 8-20 16-25 10-16 3-17-1-17-4-16-10-11-14-2-8 0-8 4-9 16-16zM-313 -267l13 0 19 8 19 17 11 17 6 16 4 25-1 17-4 25-12 33-43 92-50 89-15 20-10 8-8 4-17 0-16-6-17-11-17-17-8-13-15-32-8-25-3-25 2-17 23-58 10-42 16-26 33-40 25-24 34-24 16-8zM382 -100l10-2 9 2 8 4 11 13 14 29 9 23 5 23 0 16-12 59-6 67-21 68-10 23-15 26-17 17-8 6-8 2-9-2-8-5-14-19-9-25 0-25 6-41 9-39 8-28 15-34 4-16 3-25 1-75 2-15 8-17z"/>
<path fill="#e7bf49" d="M-9 -367l17 1 9 5 8 8 5 11 1 8-2 17-4 8-8 8-25 15-25 5-27-3-15-7-8-8-5-10 1-8 4-9 8-7 41-26zM-325 -259l16-2 17 4 16 11 12 12 9 17 6 17 2 25-3 25-10 33-28 59-17 41-46 82-12 18-13 12-8 5-17 1-16-6-17-11-9-9-13-17-12-22-8-22-7-31 0-16 5-17 20-50 10-42 9-17 30-36 33-34 25-18zM381 -92l11-3 9 1 8 6 8 9 17 34 9 23 3 14 0 16-15 67-4 59-18 59-13 32-12 20-17 19-8 5-8 2-9-2-8-6-14-21-5-17 0-25 4-33 9-42 10-33 15-34 5-16 6-109 8-16z"/>
<path fill="#e7c847" d="M-25 -351l17-5 8 0 8 3 9 9 3 10 0 8-2 9-6 8-20 12-25 6-18-1-18-9-7-8 1-8 7-9zM-334 -250l17-4 16 2 17 9 17 17 9 17 4 17 1 17-2 25-11 33-28 59-16 41-41 75-11 17-14 15-8 5-17 2-15-5-10-6-17-14-10-14-13-25-9-25-6-25 0-16 5-17 20-50 7-34 7-16 25-32 33-36 25-20zM383 -83l9-4 9 1 8 6 8 10 17 34 7 19 3 17-1 8-16 67-4 59-6 23-16 50-9 18-16 25-17 14-8 1-9-2-5-4-12-17-6-17-1-25 7-41 9-38 9-29 13-25 5-17 3-17 5-91 6-17z"/>
<path fill="#e6d046" d="M-21 -326l13-7 8 7-6 9-11 4-8 1-8-4-1-1 9-5zM-343 -242l17-6 17 1 17 7 16 15 11 16 5 17 1 17-2 25-7 25-28 58-19 50-36 68-15 24-10 10-8 5-17 2-8-1-17-8-17-15-8-10-13-25-9-25-6-25 0-16 5-17 18-42 9-42 7-16 23-29 33-35 17-14zM389 -75l3-2 9 1 8 5 8 11 18 35 5 17 0 16-19 67-1 50-2 17-17 55-9 20-16 27-17 14-8 1-9-3-6-6-10-16-4-17 1-25 8-42 11-41 9-21 12-21 3-9 2-16 2-50 5-42 5-17z"/>
<path fill="#e5d845" d="M-352 -234l18-7 17-1 16 6 16 11 12 16 6 17 2 17-2 25-9 27-30 65-14 41-31 61-14 23-11 12-8 6-17 3-16-5-9-4-14-12-11-14-10-20-10-25-6-25 0-16 5-17 18-42 9-42 8-16 20-25 33-36 17-14zM387 -58l5-6 9-1 8 5 8 10 9 14 8 20 3 16-1 8-2 11-21 56-1 17 4 33-5 25-10 35-9 24-16 28-9 9-8 5-8 1-9-4-5-6-9-17-1-16 1-17 6-34 17-55 8-15 10-13 4-8 2-17 1-67 4-25z"/>
<path fill="#e5df43" d="M-340 -234l14-2 17 3 13 8 12 12 7 13 5 16 1 17-4 25-9 25-25 50-19 59-31 59-11 16-14 12-8 4-17-1-16-7-9-7-17-20-8-16-10-24-5-25 0-16 5-17 17-42 9-42 9-17 25-30 33-33 17-12zM399 -50l10 3 8 9 9 13 7 25-7 28-17 29-8 8-9 0-6-15-5-42 2-25 4-16 5-13zM374 92l18-3 9 5 8 22 0 20-8 35-17 44-8 14-9 9-8 5-8 1-9-6-8-14-2-15 2-25 8-38 9-25 8-17 8-9z"/>
<path fill="#e5e641" d="M-350 -225l16-5 17 2 16 8 9 8 8 12 5 16 1 17-2 17-11 33-26 50-17 59-25 51-10 15-15 15-8 4-17 1-8-3-17-11-17-21-9-18-9-25-3-17 0-16 4-15 19-44 9-42 6-13 17-21 33-34 17-14zM400 -33l9-1 8 8 9 16 1 10-1 11-9 18-8 9-8 3-9-9-4-24 3-25 2-8zM371 109l5-3 8-1 8 3 7 9 3 17-1 15-9 32-8 22-8 15-9 10-8 6-8-1-8-8-3-8-2-17 4-25 9-34 6-16 10-14z"/>
<path fill="none" stroke="#000" stroke-width="13.5" stroke-linejoin="round" d="M-18 -351l10-2 8 0 8 4 6 7 4 8 0 8-2 9-7 8-17 10-17 4-8 2-9-1-8-1-8-3-6-3-3-2-5-6 1-8 4-5 9-6 16-9zM-331 -250l14-3 8 1 8 2 9 4 8 5 8 7 7 9 10 16 4 17 1 17-3 25-4 16-6 17-28 59-16 41-40 74-12 18-4 6-9 8-8 5-8 2-9 0-8-2-8-4-9-4-8-7-9-8-10-13-6-11-7-14-9-25-5-25 0-16 4-17 15-33 6-17 6-34 3-8 3-7 7-10 10-13 25-28 25-25 25-17zM387 -83l5-2 9 1 8 6 8 10 9 15 11 28 5 17 1 8 0 8-9 34-5 16-3 17-2 17 0 25-1 17-6 20-16 51-9 20-8 13-8 11-9 8-8 6-8 1-9-3-3-2-5-5-8-12-6-17-1-8 0-17 7-41 8-35 10-32 13-25 6-17 2-17 2-50 2-33 2-8 5-15 8-9zM-52 -426l52-4 67 7 42 3 8 3 25 13 17 8 25 6 33 6 8 2 57 23 15 8 8 9 4 5 19 36 14 23 17 18 31 26 6 9 4 8 5 17 6 16 10 17 22 31 8 14 8 25 12 47 5 30 2 28-2 35-8 82-9 35-8 26-15 39-10 25-17 27-25 33-25 29-8 9-9 5-33 16-17 11-8 8-24 29-10 10-8 4-8 2-25 5-17 6-55 24-12 3-16 1-51 1-50 5-8 0-10-2-57-22-34-11-21-9-34-17-28-16-12-9-7-8-5-8-2-9-2-8 0-8 2-9 5-8 5-4 8-5 75-27 34-10 25-5 16-2 25-1 92 0 25-3 42-6 8-1 17 3 33 10 17 3 8 0 9-2 6-8 2-9 4-25 8-33 4-42 2-17 4-16 8-25 21-51 6-16 1-17 0-17-3-16-5-17-6-17-10-18-9-11-8-9-22-20-37-52-16-17-17-11-17-6-16-3-25 0-17 3-17 4-42 15-16 5-25 4-67 6-25 4-17 6-17 9-16 15-9 9-62 84-56 67-15 29-21 46-5 17-7 41-3 9-6 10-8 3-9-1-8-3-17-11-50-39-17-15-10-11-15-18-9-16-10-16-7-17-6-17-7-25-2-16-1-17 1-11 2-14 6-19 20-48 10-33 7-17 10-17 11-16 33-42 76-81 8-6 9-5 33-14 17-9 17-12 16-16 9-5 4-2 62-15 42-16 8-1 34 0zM-129 -451l20-3 17-2 59-1 75 1 33 2 25 3 25 5 25 8 84 32 33 11 24 11 13 8 13 11 9 10 14 21 11 13 58 63 17 24 9 17 24 48 12 27 15 42 7 24 3 18 5 33 2 58-3 50-6 42-10 45-6 22-9 25-15 33-23 42-22 33-22 26-36 35-59 48-25 18-17 9-16 7-25 9-42 12-25 7-25 5-25 3-25 2-25 2-25-1-25-2-17-3-33-9-67-26-18-8-24-12-25-15-17-13-12-10-46-46-17-13-33-23-9-8-31-43-35-44-25-32-42-48-17-20-26-40-9-17-7-17-9-25-3-16-3-17-1-17 0-16 5-25 8-25 20-48 16-44 13-25 21-30 42-54 25-28 13-14 18-16 27-21 60-38 16-9 25-12 33-12 28-9zM83 -67l-33 5-33 8-34 10-33 13-25 12-18 11-23 16-19 17-25 25-32 35-8 11-9 12-7 17-3 9-3 16 0 25 2 17 3 8 4 9 4 6 9 6 8 1 17-1 16-5 50-18 34-11 33-8 142-30 22-7 19-8 13-9 13-10 17-18 16-21 12-18 8-16 5-15 2-10-1-17-2-8-7-10-8-7-9-6-25-15-25-12-16-6-17-3-17-1zM-122 -476l39-5 33-1 50 1 50 1 25 1 21 3 46 10 33 11 25 9 42 18 42 16 17 8 16 12 17 14 25 30 50 52 23 29 22 33 19 34 14 33 18 50 8 25 4 17 6 33 3 67 0 42-5 42-11 58-12 42-14 33-30 59-10 16-12 17-23 28-47 47-28 25-34 25-16 10-34 18-33 14-42 12-75 15-42 4-16 0-25-1-50-6-34-9-33-12-50-22-34-17-25-17-41-34-67-50-17-14-17-17-25-31-47-68-53-64-17-23-31-47-10-20-9-22-6-16-4-17-4-33 0-17 1-17 3-16 5-17 5-17 22-50 12-33 12-25 9-17 11-17 44-58 28-34 26-25 40-33 22-15 16-11 25-14 34-16 33-15 17-6 25-7zM-111 -501l28-3 25-1 100 1 33 2 34 5 50 12 33 11 92 39 25 12 21 14 19 17 68 70 17 20 14 18 28 42 19 33 14 34 21 58 11 42 6 42 3 66-1 42-6 42-14 67-13 41-15 36-16 31-14 25-23 34-22 26-59 60-16 14-17 14-30 19-45 25-20 9-22 8-42 11-58 12-25 4-25 2-17 1-42-2-25-3-25-4-17-4-24-8-26-10-50-22-35-19-26-16-39-31-50-35-17-13-25-22-31-33-19-25-39-59-54-66-35-50-14-23-10-19-8-17-9-25-5-17-4-25-1-16 0-17 1-17 3-16 9-34 38-92 16-33 12-21 14-21 44-59 17-19 17-17 42-37 33-25 33-21 62-31 22-9 17-6 33-9zM-584 -111l30-73 20-41 25-41 33-47 32-38 35-35 42-35 18-13 23-15 42-23 50-23 17-6 25-8 42-9 50-8 42-2 100 1 25 1 25 3 25 4 25 5 25 7 25 8 50 20 50 23 25 13 25 16 22 18 51 50 28 30 28 37 30 46 20 37 16 42 19 58 9 42 6 50 2 50-1 42-3 25-3 25-13 59-6 25-9 25-10 25-12 25-13 25-15 25-23 33-31 35-47 49-29 25-23 17-18 11-25 14-25 13-17 7-25 9-41 12-75 15-26 3-25 2-41-1-50-6-25-6-17-4-42-15-50-23-42-23-25-16-100-73-23-20-19-17-16-18-19-23-48-71-50-63-30-41-26-42-9-17-10-22"/>
</g></g>
<circle cx="348.5" cy="272" r="55.85" fill="none" stroke="#000" stroke-width="1.8"/>
<path d="M560.0 217.0 L569.6 206.6 L579.5 217.0" fill="none" stroke="#000" stroke-width="1.3" stroke-linejoin="miter"/>
<path d="M514.3 264.5 C512.8 263.0 509.8 262.5 508.3 265.5 C507.5 269.0 508.3 275.0 507.3 281.0 C506.8 285.0 508.8 287.8 511.3 287.8 C512.8 287.8 513.8 286.5 514.8 285.0" fill="#fff" stroke="#000" stroke-width="1.3"/>
<path d="M625.7 264.5 C627.2 263.0 630.2 262.5 631.7 265.5 C632.5 269.0 631.7 275.0 632.7 281.0 C633.2 285.0 631.2 287.8 628.7 287.8 C627.2 287.8 626.2 286.5 625.2 285.0" fill="#fff" stroke="#000" stroke-width="1.3"/>
<clipPath id="cS2"><circle r="562"/></clipPath>
<g transform="translate(570 272) scale(0.1)"><g clip-path="url(#cS2)" fill-rule="evenodd">
<circle r="567" fill="#44379a"/>
<path fill="#463ca1" d="M-584 -584l1166 0 2 1 0 1167-1168 0z"/>
<path fill="#4741a7" d="M-584 -584l1132 0 36 15 0 1153-1168 0z"/>
<path fill="#4946ad" d="M-584 -584l1093 0 42 14 33 14 0 1140-1168 0z"/>
<path fill="#4a4bb3" d="M-584 -584l1041 0 69 17 58 25 0 1126-1168 0z"/>
<path fill="#4a50b7" d="M-584 -584l963 0 64 9 50 11 50 16 41 19 0 1113-1168 0z"/>
<path fill="#4b56ba" d="M-584 -584l887 0 39 7 92 12 50 10 50 16 50 24 0 1099-1168 0z"/>
<path fill="#4b5bbe" d="M-584 -584l843 0 25 8 33 7 109 14 58 12 50 16 50 25 0 1086-1168 0z"/>
<path fill="#4b60c0" d="M-584 -584l811 0 32 13 42 11 125 17 58 11 50 18 50 26 0 1072-1168 0z"/>
<path fill="#4b66c3" d="M-584 -584l786 0 40 19 42 13 42 8 100 11 58 13 50 18 25 12 25 15 0 1059-1168 0z"/>
<path fill="#4a6bc5" d="M-584 -584l764 0 45 25 25 10 26 7 41 7 109 13 59 13 49 19 25 13 25 16 0 1045-1168 0z"/>
<path fill="#4771c6" d="M-584 -584l743 0 26 16 32 17 47 17 45 9 117 13 33 7 34 9 50 22 41 28 0 1030-1168 0z"/>
<path fill="#4577c6" d="M-584 -584l724 0 27 18 33 19 25 11 31 10 53 11 117 13 58 14 25 10 25 12 26 15 24 19 0 1016-1168 0z"/>
<path fill="#447cc7" d="M-584 -584l705 0 37 25 29 16 30 14 33 11 51 11 125 15 33 7 25 8 25 10 31 16 24 17 20 18 0 322-1 11 1 2 0 665-1168 0z"/>
<path fill="#4482c6" d="M-584 -584l687 0 36 25 27 16 34 17 34 13 58 14 134 16 33 8 25 8 25 11 25 14 23 16 19 17 8 9 0 280-18 20-5 8-2 9 9 14 16 12 0 641-1168 0z"/>
<path fill="#4488c6" d="M-584 -584l669 0 35 25 26 16 32 17 31 13 37 12 36 8 127 17 50 11 34 13 25 12 25 17 25 22 16 18 0 248-32 35-4 8-1 9 4 12 8 10 25 17 0 628-1168 0z"/>
<path fill="#438ec5" d="M-584 -584l651 0 60 41 30 17 38 17 39 13 42 10 133 19 50 12 31 12 28 15 25 19 16 15 25 30 0 214-36 41-5 9-4 17 4 15 8 13 17 13 16 9 0 617-1168 0z"/>
<path fill="#4294c5" d="M-584 -584l632 0 35 26 34 21 33 18 34 14 36 12 47 13 134 21 50 11 25 10 25 12 25 17 19 17 23 25 16 25 0 177-41 50-8 15-3 17 3 16 9 17 15 13 25 14 0 607-1168 0z"/>
<path fill="#419ac5" d="M-584 -584l614 0 70 49 32 17 27 12 41 15 67 19 134 21 42 10 25 10 27 14 23 15 20 18 27 33 19 37 0 129-15 26-35 45-6 14-3 17 1 11 4 14 11 16 18 15 25 13 0 598-1168 0z"/>
<path fill="#40a0c3" d="M-584 -584l594 0 73 51 34 18 31 14 44 15 67 19 142 25 42 11 25 10 21 12 24 17 18 16 21 25 14 25 11 25 7 31 0 50-7 28-12 25-37 50-7 17-2 17 3 25 4 10 8 12 17 14 33 18 0 588-1168 0z"/>
<path fill="#3fa5bd" d="M-584 -584l574 0 85 58 30 17 29 12 38 13 87 24 133 25 42 11 25 10 25 13 34 27 19 23 20 34 13 33 5 34-1 33-7 25-11 25-26 33-10 17-5 17-3 25 4 25 10 17 19 16 39 21 0 580-1168 0z"/>
<path fill="#3ca9b7" d="M-584 -584l552 0 99 65 50 25 33 12 109 28 133 28 34 9 22 8 20 10 22 15 18 17 21 25 19 33 11 33 4 26 0 33-5 25-12 25-25 33-9 17-4 17-3 33 6 25 11 17 21 17 41 21 0 571-1168 0z"/>
<path fill="#3baeb1" d="M-584 -584l526 0 33 19 83 54 42 21 43 14 274 65 26 10 16 8 34 26 22 25 20 33 12 33 4 21 2 21-2 25-6 25-8 17-25 33-8 17-7 42 1 25 7 17 13 17 16 12 50 26 0 542-21 20-1147 0z"/>
<path fill="#3fb2aa" d="M-584 -584l494 0 48 23 92 58 42 20 33 11 92 19 192 49 25 9 17 9 15 10 18 16 22 26 19 33 11 34 5 42-2 25-5 17-8 15-19 26-12 25-7 50 2 25 8 17 15 17 13 9 58 31 0 495-33 32-30 25-1105 0z"/>
<path fill="#48b5a3" d="M-584 -584l449 0 52 18 33 15 97 58 45 21 33 9 100 17 59 15 108 31 43 16 16 10 18 15 22 25 20 33 13 42 4 34-1 25-5 16-27 42-10 25-9 50 2 25 3 9 10 16 17 17 18 11 42 20 16 11 0 450-58 55-25 20-26 17-235 0-26-25-45-58-10-8-9-3-8-1-8 2-9 8-8 18-5 26-4 41-692 0z"/>
<path fill="#50b79a" d="M-584 -584l385 0 132 41 34 16 75 44 50 22 25 6 92 12 67 15 133 43 25 12 19 14 23 25 20 33 13 39 5 37 0 16-5 19-27 48-10 25-11 50 2 25 7 17 6 8 17 17 25 16 41 19 25 18 0 406-50 49-41 35-42 26-37 15-108 0-14-5-25-15-25-21-59-75-16-12-12-5-13-2-16 2-9 4-14 13-11 16-7 17-7 25-10 58-652 0z"/>
<path fill="#56b991" d="M-584 -584l126 0 49 3 92 0 41 4 34 6 83 22 67 14 25 8 25 11 75 41 34 15 25 9 25 5 83 7 67 14 134 47 23 11 12 8 24 25 20 33 13 35 4 24 1 17-1 16-4 17-30 58-18 51-4 25 2 16 3 9 11 16 27 25 25 15 45 19 13 8 17 15 0 364-58 57-33 28-25 19-42 22-25 9-17 3-25 1-25-2-25-7-25-13-17-12-17-15-50-63-14-13-27-15-25-5-17 2-17 8-11 10-14 17-9 16-10 25-21 83-619 0zM-267 257l-17 9-6 10-2 8 3 8 5 5 8 3 17 0 18-8 9-8 4-8 0-9-6-8-16-5z"/>
<path fill="#5cbb88" d="M-584 -568l0-6 66 25 34 9 25 4 25 2 25-1 92-11 41-1 34 5 75 19 67 6 25 4 25 9 83 42 42 15 34 8 66 3 34 4 58 12 134 53 16 8 11 8 22 25 18 34 9 33 3 34-2 16-6 17-21 45-30 72-3 17 2 16 6 16 6 9 17 17 44 27 58 24 17 12 16 18 0 318-1 2-40 42-78 66-39 24-17 6-25 6-25 2-25-3-25-8-17-8-16-11-18-16-58-67-16-12-25-11-17-5-17-2-25 4-17 9-11 9-15 17-10 16-11 25-35 100-585 0zM-242 217l-50 21-17 10-11 11-13 17-13 25-2 16 4 9 10 5 17 2 25 0 25-2 42-7 16-5 16-10 9-8 17-24 8-18 2-17-2-8-8-10-13-7-12-3-25-2zM-175 421l-9 8-7 14-1 16 1 9 7 12 9 6 8 3 8 0 9-3 8-7 7-11 2-9-1-16-8-14-8-7-9-4-8 0z"/>
<path fill="#63bd7e" d="M-584 -518l0-7 58 28 42 17 33 10 25 4 17-1 25-5 67-29 33-8 17 1 17 3 50 15 16 3 17-1 58-8 34 2 25 8 82 35 54 17 23 3 91 3 42 6 25 7 93 39 49 26 10 8 14 16 15 25 10 34 3 33-3 17-4 17-54 133-3 25 2 17 8 17 19 17 17 10 41 19 59 21 21 16 20 26 0 267-11 16-39 41-78 68-22 14-17 8-33 10-25 2-17-1-25-6-16-8-17-10-17-13-49-55-19-17-24-13-25-10-25-6-16 0-22 4-20 8-17 12-13 14-16 25-38 86-24 47-543 0zM-242 183l-25 9-42 22-17 11-18 17-30 34-18 26-11 24-3 16 1 9 4 10 9 9 8 5 17 4 25-3 50-12 25-4 25 0 19 7 8 9 4 8 0 8-10 67 1 17 5 17 9 16 14 14 17 7 16 1 17-6 17-14 12-18 8-25 1-25-5-17-15-25-29-34-4-8-1-8 1-9 5-16 31-59 4-17-1-16-5-17-6-8-13-12-17-9-16-5-25-4-25 1z"/>
<path fill="#6dbe76" d="M-584 -468l0-5 91 55 50 27 34 14 25 4 22-3 20-8 16-11 39-31 20-10 25-6 67-5 58-22 25-4 17 0 25 5 92 32 44 10 23 3 91 1 59 9 17 6 66 31 30 17 26 17 17 16 15 25 9 25 3 34-4 25-18 50-14 50-27 67-4 17 0 16 6 17 5 8 8 9 15 10 34 15 83 25 17 8 10 8 14 17 17 28 0 205-21 34-20 25-17 16-75 67-34 21-33 11-25 2-17-1-16-3-17-6-17-9-16-12-59-60-25-18-25-13-25-9-17-3-25-2-25 2-25 5-17 7-16 11-12 11-13 17-29 58-5 7-8 6-8 1-6-5-4-9-1-50-4-17-8-16-29-42-5-17 3-16 17-34 8-25 2-17-2-16-10-25-12-17-16-14-17-10-17-7-25-6-25-3-25 0-25 4-37 11-30 16-77 76-14 22-18 45-6 25 1 16 7 17 14 17 18 10 17 5 17 1 25-3 66-19 17 1 6 5 5 8 0 8-5 42 0 17 6 33 10 25 9 17 11 15 18 18-385 0z"/>
<path fill="#77bf6d" d="M-81 -451l14 0 25 4 84 21 46 9 29 1 75-1 33 3 34 6 19 7 33 17 44 25 23 17 23 22 12 19 9 25 2 17-1 25-4 17-14 42-7 41-4 17-40 84-3 16 2 17 6 16 8 12 9 8 16 12 34 13 67 14 25 7 16 9 9 6 17 20 14 25 10 28 0 114-16 42-20 33-22 26-75 69-17 13-25 15-25 8-25 3-25-2-25-8-17-9-25-20-50-49-25-17-25-13-25-9-42-8-42-5-58-4-17-3-9-4-10-8-6-12-7-63-7-25-7-17-16-25-13-16-17-15-16-10-19-9-23-8-42-7-41 0-49 7-28 8-24 13-14 12-27 31-17 10-17 4-17 1-50-7-14 3-11 10-4 15-1 8 5 22 26 37 2 8-2 33 1 25 7 25 14 25 11 14 14 12 28 15 25 6 50 5 18 7 7 6 8 13 32 89-307 0 0-1005 83 54 58 31 42 15 17 4 25 1 33-6 31-12 19-14 51-44 28-17 80-35 17-4z"/>
<path fill="#83bf64" d="M-95 -426l20-3 25-1 142 21 100-2 58 5 26 10 51 29 24 16 27 25 13 17 13 25 4 25-1 25-16 59-2 33-6 25-16 32-29 43-6 17-2 25 3 17 7 16 11 15 16 15 17 10 17 7 25 7 58 7 23 6 19 10 17 17 10 15 11 25 7 25 3 25-1 25-3 25-7 25-10 25-20 34-20 25-62 59-25 20-25 14-25 7-25 2-25-5-25-10-17-11-59-52-41-29-34-14-83-28-25-12-12-8-9-8-13-17-38-67-24-33-29-32-27-18-40-18-25-6-34-6-58-1-50 6-25 8-19 8-15 9-33 28-17 9-17 5-16 2-50-1-17 6-18 17-11 17-11 25-5 25-1 17 2 25 8 42 16 50 20 37 17 24 25 26 25 20 62 43 16 17 12 16-215 0 0-958 81 48 73 34 46 13 25 2 25-2 42-7 19-6 14-7 22-18 40-50 27-25 29-17z"/>
<path fill="#8fbe5d" d="M-66 -409l41-3 117 10 100-4 58 5 17 6 20 11 51 33 25 25 18 25 10 25 3 26-2 25-12 50-2 41-5 17-8 17-14 21-23 29-10 17-5 16-3 17 0 17 3 16 8 17 13 17 17 14 17 11 24 10 25 8 59 7 17 5 16 7 9 6 16 19 11 21 7 25 2 25-2 34-6 25-13 33-14 25-19 25-23 25-43 40-25 17-25 10-17 3-16 1-25-4-25-10-25-18-59-50-25-17-25-14-61-24-31-19-25-23-62-92-22-25-24-25-22-17-29-16-25-10-33-10-42-7-41-2-51 3-33 7-25 10-17 10-41 32-17 9-25 8-59 5-10 3-13 8-19 17-24 31 0-555 41 23 35 17 66 25 41 12 25 5 25 1 67-5 34-7 13-6 12-9 23-25 40-58 20-20 17-10 25-11zM-584 451l16 31 19 27 23 30 41 45-99 0z"/>
<path fill="#9bbd55" d="M-49 -392l24-5 33-1 92 3 100-5 50 5 26 11 50 33 25 25 17 25 10 25 4 26-2 25-9 50-2 41-6 17-9 17-40 50-14 25-8 25-3 17 0 16 4 17 8 17 14 16 19 16 17 10 25 11 25 8 75 16 25 13 11 10 11 17 6 16 4 25 0 25-4 26-11 33-13 25-17 25-21 25-33 31-25 19-25 10-17 4-16 1-17-2-17-5-25-13-92-73-25-15-50-24-33-25-22-25-40-67-22-30-16-20-28-25-24-16-31-17-26-11-33-10-42-8-50-4-50 3-42 8-17 6-16 9-50 38-17 11-25 10-59 10-14 5-29 16-23 19 0-490 41 20 34 13 108 31 34 5 41 2 42-1 34-3 16-5 17-7 22-18 20-23 34-52 24-25 34-21zM-584 568l0-3 12 19-12 0z"/>
<path fill="#a8bb4f" d="M164 -392l36-2 34 2 25 6 17 8 27 19 29 25 19 25 9 17 6 16 4 17 1 25-7 50-4 50-6 17-11 17-43 50-16 25-11 25-5 17-3 16 1 17 4 17 9 16 16 17 14 11 25 15 33 14 76 19 25 9 12 7 10 9 7 8 9 17 6 25 0 25-4 25-9 25-12 25-17 25-27 32-26 22-25 14-16 5-17 2-17 0-16-4-17-6-17-9-33-24-59-49-66-41-20-17-15-17-11-17-38-76-13-24-14-16-15-14-28-20-38-20-42-18-42-13-42-8-50-3-58 4-42 9-17 6-16 9-50 42-26 16-25 10-64 16-21 9-31 17 0-440 33 15 33 11 126 28 83 8 42 2 33-2 25-7 15-8 10-8 22-25 41-59 20-25 26-23 25-15 25-9 33-6 25-1 67 1z"/>
<path fill="#b3ba49" d="M146 -384l38-3 41 0 25 4 17 7 25 17 29 25 20 25 12 25 5 17 3 25-6 92-3 16-8 17-10 15-47 52-24 33-14 25-10 25-4 17 0 17 5 16 11 17 16 15 15 10 33 17 36 14 66 17 26 9 25 16 14 19 6 17 3 25-3 25-7 25-12 25-16 25-22 25-19 17-20 11-16 6-17 2-17 0-16-4-17-6-33-20-26-19-50-45-56-42-19-20-13-22-11-25-26-90-5-10-12-13-18-12-37-17-95-36-42-13-41-7-59-2-50 5-42 8-25 9-20 11-46 44-17 12-17 10-17 7-89 27-27 11 0-396 33 13 25 6 150 28 142 16 17 1 17-2 16-8 17-15 17-22 37-58 25-33 21-25 25-21 25-12 34-9 25-3 58-1z"/>
<path fill="#beb745" d="M135 -376l40-4 42-1 33 5 17 8 35 26 23 25 10 16 7 17 8 34 1 25-4 75-4 16-4 9-13 19-54 56-63 78-25 25-17 10-17 2-41-10-51-3-41-7-59-17-67-25-33-8-33-2-75 4-59 10-42 15-32 20-39 41-29 21-25 11-58 19-50 14 0-357 50 14 75 10 108 21 92 15 59 15 16-1 17-9 13-15 12-17 31-58 20-33 37-50 25-25 29-17 31-8zM157 125l10-6 8-1 17 2 98 39 61 17 62 16 19 8 12 9 9 8 11 17 5 16 1 26-5 25-9 25-13 23-14 18-20 19-17 11-16 6-25 3-17-2-25-9-25-13-25-19-50-50-49-46-10-12-8-16-9-30-3-34 7-25 11-16z"/>
<path fill="#c9b546" d="M128 -367l47-7 34-1 25 2 25 8 32 23 24 25 15 25 10 33 2 34-3 66-3 17-3 8-10 17-14 16-84 81-25 21-25 14-25 7-67 0-41-3-34-6-33-10-33-13-76-36-16-3-9 1-50 17-25 6-58 7-25 6-17 7-25 14-25 18-42 47-25 18-25 12-58 20-50 11 0-321 41 10 75 9 46 8 96 23 76 15 25 8 41 17 17 3 8-1 9-5 8-8 8-13 36-89 20-41 33-51 21-25 24-17 33-13zM220 184l22-2 25 1 50 6 34 5 50 13 16 8 14 10 7 9 9 16 4 17 0 17-5 25-7 17-9 16-13 17-16 15-17 10-17 5-16 2-17-2-25-9-24-13-18-14-18-19-39-50-17-25-7-17-4-17 1-8 7-17 10-9z"/>
<path fill="#d2b249" d="M187 -367l38 1 17 3 17 7 17 11 16 15 12 13 13 19 7 14 5 17 3 17 1 25-4 75-3 10-9 15-25 27-75 64-33 20-25 8-25 4-34 0-33-3-34-5-25-6-25-9-25-13-17-12-18-17-6-10-7-15-3-25 2-25 8-42 15-41 21-42 22-34 14-16 11-9 17-11 16-7 25-6zM-584 -159l0-5 116 15 42 9 49 15 76 29 59 9 9 4 8 6 3 10-3 9-9 5-8 2-50 2-17 4-17 9-25 18-33 28-17 17-32 40-10 8-16 10-25 11-50 16-50 10zM274 217l18-4 25-3 42 2 33 10 17 11 8 8 7 9 7 17 1 25-4 17-7 17-11 16-9 11-9 7-16 9-17 5-17 0-16-3-17-7-17-10-16-14-13-14-15-25-10-25-2-17 3-17 6-8 10-9z"/>
<path fill="#dcb04c" d="M174 -359l43 0 17 2 16 6 17 10 17 14 22 26 12 25 3 17 2 25-2 67-3 17-7 16-10 14-17 16-59 46-33 20-25 9-42 6-50-4-42-8-25-10-16-8-25-19-16-20-11-25-3-25 2-33 7-34 13-33 17-34 11-16 15-17 15-12 16-9 34-10zM-584 -142l91 9 50 9 44 15 23 15 12 11 5 8 3 8 0 9-6 16-11 17-36 44-23 31-19 19-25 12-50 16-25 6-33 4zM311 234l15-5 16-1 25 3 24 11 15 17 4 8 3 17-4 25-8 17-7 8-18 15-9 4-16 3-25-4-25-13-19-22-10-25 0-16 3-9 12-17 10-8z"/>
<path fill="#e4b04c" d="M173 -351l44 0 17 3 14 6 14 8 14 11 13 14 12 17 9 25 4 33-2 59-2 16-6 17-5 8-15 16-34 27-41 27-34 14-33 6-42-1-42-7-36-15-25-16-16-17-10-17-8-25-2-25 3-33 7-25 14-34 15-25 14-17 11-9 17-10 33-11zM-584 -117l0-3 58 3 58 7 25 8 17 7 17 11 9 9 6 8 4 17-1 8-5 17-43 67-12 13-25 14-42 13-33 6-33 3zM328 250l14-4 17 2 17 8 10 11 5 17-1 17-9 16-14 12-16 5-17-2-17-8-12-15-5-17 4-16 12-17z"/>
<path fill="#e7b74a" d="M182 -342l35 1 25 7 25 17 16 16 9 14 9 23 3 39-3 50-3 16-6 14-17 20-33 25-33 19-34 13-33 5-33-1-34-6-34-13-24-17-15-17-10-18-7-24-2-25 3-25 7-25 11-25 10-17 14-16 14-11 16-9 42-14 59-13zM-584 -92l0-3 33-2 33 1 25 3 34 10 16 8 11 8 11 17 2 8-2 17-19 42-11 17-8 9-10 7-15 7-34 9-33 5-33 0zM338 276l4-4 9-1 7 5 3 8-2 9-8 6-9 0-6-7-2-8z"/>
<path fill="#e7bf49" d="M147 -326l37-6 33 2 25 8 25 20 14 18 9 25 3 42-4 42-5 16-4 9-13 15-25 19-33 19-25 9-25 5-34 1-25-3-25-8-25-12-17-13-13-16-9-16-6-25-1-17 3-25 8-25 8-17 11-17 16-15 16-10 20-8zM-578 -67l35-5 25 1 27 4 23 11 14 14 5 17-6 25-13 23-16 14-12 5-22 5-33 3-33-5 0-110z"/>
<path fill="#e7c847" d="M165 -317l35-3 25 4 15 7 10 8 16 17 9 17 6 25 0 33-5 34-9 18-17 18-25 17-25 11-25 7-33 3-25-2-25-6-17-7-17-11-15-15-10-17-6-16-2-17 0-17 6-25 7-16 12-17 8-9 17-12 34-15zM-543 -33l25-3 9 2 8 5 5 4 4 8 1 9-3 8-7 8-8 4-17 4-17-1-16-7-8-8-2-8 2-9 7-8z"/>
<path fill="#e6d046" d="M154 -301l30-5 25 1 16 4 9 5 14 12 12 17 7 25 1 25-3 25-6 17-10 16-15 14-20 11-22 8-25 5-25 1-25-3-17-5-17-9-16-13-7-9-12-25-2-16 1-17 5-17 8-16 14-17 9-8 16-9 18-7z"/>
<path fill="#e5d845" d="M147 -284l37-6 25 2 11 4 12 8 13 17 6 17 1 17-1 16-4 17-5 12-9 13-10 8-14 9-17 6-17 3-25 2-25-3-16-6-17-10-9-9-10-17-4-16 0-17 5-17 9-16 9-9 17-11 16-8z"/>
<path fill="#e5df43" d="M147 -267l28-5 25 2 17 9 9 11 4 8 3 17-3 25-5 10-8 11-17 12-16 6-17 3-17-1-16-3-14-5-11-8-12-17-3-8-1-17 7-19 17-17 17-10z"/>
<path fill="#e5e641" d="M163 -250l21 0 15 8 6 8 4 17-6 17-11 12-17 7-16 1-17-4-12-8-6-8-3-9 0-8 3-8 10-13 16-9z"/>
<path fill="none" stroke="#000" stroke-width="13.5" stroke-linejoin="round" d="M161 -292l23-4 16 0 9 1 8 3 8 4 9 5 8 7 6 9 4 8 5 17 1 8 0 17-2 17-2 8-3 8-4 9-6 8-7 8-12 9-16 8-22 7-17 2-25 0-17-2-8-2-14-5-11-6-13-11-7-8-5-10-5-15-2-17 3-16 4-11 8-14 7-9 10-8 14-9 19-8 17-4zM144 -342l23-5 17-2 25 0 16 3 17 4 14 8 12 8 17 17 7 10 10 15 5 17 3 17 1 25-1 33-2 25-4 17-4 8-8 11-8 8-17 14-42 30-16 10-17 8-25 7-17 3-16 1-17 0-25-2-17-3-17-5-25-10-10-5-13-8-10-9-8-8-11-17-6-13-4-12-3-25 2-25 3-17 4-16 10-25 14-26 7-10 9-10 15-13 18-10 20-7zM-584 -112l50 1 33 2 25 4 25 7 14 6 11 6 13 11 7 8 4 9 2 8 0 8-1 9-3 8-9 17-30 47-8 11-8 6-9 4-16 7-34 10-33 6-33 2M328 259l6-3 8-3 9 0 8 1 8 4 10 9 5 9 2 8 0 8-3 9-4 8-10 10-8 4-8 2-9 0-8-2-8-4-11-10-4-8-1-9 1-8 3-8 5-9zM-584 -209l26 9 24 5 75 10 108 21 92 15 25 5 34 10 8 1 8-2 9-3 8-6 8-8 5-7 12-17 36-66 21-34 38-50 8-8 14-11 8-6 18-8 16-5 16-4 17-2 50-2 67-8 25-1 33 1 17 2 8 2 19 9 15 10 18 15 16 16 8 10 9 15 7 17 5 17 4 25 0 17-3 41-1 34-1 8-3 8-4 9-5 8-14 17-33 33-22 25-48 60-17 19-16 16-17 10-8 2-9 0-8-1-33-9-51-3-33-5-25-6-25-8-33-11-51-19-16-4-17-4-17-2-16 0-67 3-59 9-25 7-16 6-25 13-16 11-26 29-13 12-12 11-17 10-25 11-42 13-16 6-50 14M157 125l10-6 8-1 9 0 8 2 17 6 50 21 31 12 61 17 41 10 21 6 19 8 12 9 9 8 6 8 5 9 5 16 1 9 0 17-5 25-9 25-13 23-14 18-20 19-8 6-9 5-16 6-9 2-16 1-17-2-11-3-14-6-25-13-25-19-50-50-49-46-10-12-8-16-5-14-4-16-3-17 0-17 4-16 3-9 5-8 6-8zM-584 -345l32 19 34 18 35 16 49 19 25 8 25 6 25 1 25 0 33-3 25-4 17-5 17-7 10-7 15-16 42-59 14-17 10-8 14-8 18-9 19-7 17-5 25-4 25 0 25 1 58 8 42 4 25 0 58-3 34 0 25 2 16 3 9 2 17 7 29 17 26 17 21 17 8 8 15 17 11 16 7 17 3 8 2 17 0 25-4 17-11 42-1 33-3 17-3 8-8 17-9 15-32 43-4 9-5 16-2 17 1 17 4 16 4 9 12 16 14 13 16 12 17 8 25 9 17 4 50 5 17 4 16 7 9 5 8 7 9 10 8 11 7 14 7 25 3 17 1 16-1 25-3 17-4 17-6 17-8 16-9 17-10 17-13 16-15 17-17 17-32 29-17 14-17 10-17 7-16 5-17 2-17-1-16-3-17-7-8-4-9-5-16-13-59-50-25-17-25-13-17-7-25-8-32-14-16-9-13-8-14-12-12-13-21-34-35-50-20-25-23-25-22-18-26-15-25-11-33-10-23-4-19-3-25-2-25 0-25 2-25 3-17 3-16 5-17 7-17 9-12 9-21 18-17 11-8 4-9 3-16 3-17 2-33 1-9 1-8 2-8 5-10 9-17 16-12 17-11 21M-584 406l8 21 12 24 13 22 14 20 28 32 58 59M-584 -557l41 18 34 12 33 9 25 4 25 1 17-1 25-4 67-14 16-2 17-1 17 1 25 4 17 4 33 10 17 4 16 1 59 1 25 3 8 2 17 7 50 25 30 14 21 8 24 8 17 4 17 3 58 2 25 2 33 4 34 7 25 8 69 29 56 25 13 8 9 9 13 16 10 17 8 17 5 16 5 26 1 16-1 17-4 17-7 16-16 34-13 33-18 42-2 8-2 17 3 17 3 8 5 8 7 9 9 8 12 8 44 24 48 18 10 5 15 12 18 20M-217 199l-8 1-17 4-17 7-42 20-16 11-9 7-9 10-13 17-12 16-10 17-7 17-2 8 1 8 2 2 9 5 8 2 17 0 92-13 41-2 9-3 8-4 8-6 9-9 8-11 17-27 7-17 3-9 1-8-1-8-2-9-7-8-10-7-8-4-17-5-8-1zM584 388l-17 21-24 24-58 51-26 21-20 13-22 10-25 8-25 3-25-1-16-3-17-6-8-4-17-10-17-13-17-17-42-51-10-8-14-9-25-11-15-5-10-3-17 0-17 3-17 7-15 9-10 10-11 16-10 16-8 17-42 108M-184 408l-8 10-8 16-2 9-1 16 1 9 2 8 4 8 4 6 8 8 7 3 10 2 8 0 9-3 8-5 8-8 9-15 3-13 0-8-1-8-3-9-8-13-8-9-8-6-9-3-8-2-8 2zM-91 -584l24 11 25 13 92 57 19 10 23 11 33 11 92 18 184 47 25 8 17 8 16 10 17 13 9 8 14 17 12 16 9 17 8 17 6 20 5 22 1 16 0 25-6 25-4 9-4 7-20 26-8 17-3 8-3 17-5 33 1 17 2 8 7 17 7 8 8 9 14 9 42 21 16 10M584 525l-33 32-32 27"/>
</g></g>
<circle cx="570" cy="272" r="55.85" fill="none" stroke="#000" stroke-width="1.8"/>
<path d="M336.9 444.0 L346.5 433.6 L356.4 444.0" fill="none" stroke="#000" stroke-width="1.3" stroke-linejoin="miter"/>
<path d="M291.6 491.1 C290.1 489.6 287.1 489.1 285.6 492.1 C284.8 495.6 285.6 501.6 284.6 507.6 C284.1 511.6 286.1 514.4 288.6 514.4 C290.1 514.4 291.1 513.1 292.1 511.6" fill="#fff" stroke="#000" stroke-width="1.3"/>
<path d="M402.2 491.1 C403.7 489.6 406.7 489.1 408.2 492.1 C409.0 495.6 408.2 501.6 409.2 507.6 C409.7 511.6 407.7 514.4 405.2 514.4 C403.7 514.4 402.7 513.1 401.7 511.6" fill="#fff" stroke="#000" stroke-width="1.3"/>
<clipPath id="cB"><circle r="558"/></clipPath>
<g transform="translate(346.9 498.6) scale(0.1)"><g clip-path="url(#cB)" fill-rule="evenodd">
<circle r="563" fill="#44379a"/>
<path fill="#463ca1" d="M-505 -580l1085 0 0 1160-1160 0 0-881 33-6 21-8 12-10 7-15 1-25-3-108z"/>
<path fill="#4741a7" d="M-466 -580l1046 0 0 1160-1160 0 0-843 49-8 34-9 17-10 8-8 3-9 3-25-6-66-1-50zM216 231l-2 1 4 8 16 9 23 4 15-4-1-9-14-8-25-5-8 1z"/>
<path fill="#4946ad" d="M-429 -580l1009 0 0 1160-1160 0 0-811 58-11 33-12 25-16 10-12 6-10 5-15 2-16-3-92zM166 190l-16 9-7 8-3 9-1 8 3 8 7 10 20 15 16 8 22 9 33 7 75 10 23-1 13-8 3-8 0-9-8-16-16-17-26-16-39-14-44-11-30-4z"/>
<path fill="#4a4bb3" d="M-395 -580l975 0 0 1160-1160 0 0-781 74-17 25-11 17-10 16-15 10-11 10-17 6-16 3-17 1-83zM166 165l-25 7-17 10-9 9-9 16-1 17 6 16 13 14 17 10 38 18 25 8 128 26 16 0 8-3 17-11 10-12 2-8-1-8-11-26-19-24-23-17-17-8-24-8-59-17-40-8z"/>
<path fill="#4a50b7" d="M-360 -580l940 0 0 1160-1160 0 0-749 74-17 33-13 17-10 17-15 14-16 10-17 10-25 6-25 7-83 21-132zM158 148l-25 6-25 11-12 9-12 17-5 16 0 9 4 16 8 17 18 16 33 17 49 18 149 33 16-1 17-8 17-14 8-11 4-17-1-8-11-31-17-24-25-20-37-17-87-25-42-9z"/>
<path fill="#4b56ba" d="M-325 -580l905 0 0 1160-1160 0 0-716 80-13 36-11 16-9 17-13 20-25 13-28 15-47 13-83 16-66 11-75zM116 140l-25 9-16 10-13 15-4 10-3 15 3 25 12 25 14 16 24 16 25 11 66 21 50 14 49 10 42 11 16 0 17-6 24-19 13-16 3-9 2-16-5-25-9-25-10-16-7-9-22-16-22-11-25-9-116-34-25-4-16 0z"/>
<path fill="#4b5bbe" d="M-291 -572l2-8 869 0 0 1160-1160 0 0-681 91-6 33-6 17-6 16-9 15-13 10-13 8-16 7-21 20-91 11-66 22-67 13-74zM-282 -35l-10 10-3 8 0 9 6 16 9 9 15 7 25 1 16-6 12-11 3-8 0-8-3-9-6-8-11-8-11-5-17-2-17 2zM99 124l-32 9-17 10-13 15-4 8-4 16 2 25 4 17 8 16 19 25 21 17 34 16 132 42 49 10 34 12 16 3 17-1 16-7 29-25 13-17 4-8 2-17-11-58-6-16-6-9-8-9-17-12-23-12-26-10-133-40-25-4-25-2z"/>
<path fill="#4b60c0" d="M-250 -580l830 0 0 1160-1160 0 0-645 41 0 75 9 74-3 17 2 8 3 9 7 30 55 15 17 21 14 25 8 41 2 25-5 22-11 8-8 3-8 1-17-7-17-14-16-13-10-17-9-24-7-42-7-58-6-8-5-4-6-4-16-2-34 3-91 18-108 10-33 21-50 17-66 27-66zM41 107l-21 9-10 8-7 9-3 8-3 17 1 24 9 34 18 33 22 25 24 16 37 17 91 27 58 23 41 9 34 15 24 5 17-2 20-11 35-33 13-17 6-16 2-17-7-33-4-33-8-17-6-8-8-8-18-12-51-21-131-42-34-8-24-4-34-1-58 1z"/>
<path fill="#4b66c3" d="M-209 -580l789 0 0 1160-1160 0 0-609 25 1 24 4 67 15 41 4 25 7 25 12 58 39 17 8 24 7 50 7 91 4 25 4 17 6 16 13 10 14 12 25 28 66 18 33 19 25 19 17 19 12 27 13 130 39 22 10 28 17 41 14 50 21 17 3 16-3 17-7 17-11 42-42 12-16 11-25 5-17 2-25 0-16-4-17-10-16-15-17-21-17-13-8-42-16-108-34-75-25-33-7-83-14-88-20-26-8-10-5-17-12-51-50-37-24-51-25-60-20-25-9-20-13-13-14-8-15-7-21-7-49 2-42 11-66 7-25 12-33 40-87 38-71zM149 -275l-12 10-10 16-2 17 5 16 11 12 17 6 16-1 17-7 11-10 9-16 0-17-4-10-8-10-17-9-16-2z"/>
<path fill="#4a6bc5" d="M-168 -580l748 0 0 1160-1160 0 0-573 41 2 116 20 33 12 58 29 34 14 33 8 74 13 25 6 25 9 25 14 25 22 16 22 51 79 16 18 25 19 24 13 22 8 103 27 33 11 25 12 33 25 41 16 42 22 16 6 25 0 25-6 27-13 24-17 29-25 32-33 23-33 12-25 5-25-3-25-8-17-6-8-10-8-58-21-47-20-144-42-75-27-74-20-31-11-48-25-84-58-29-16-39-17-76-22-66-21-30-15-20-17-12-16-8-17-5-16-5-25-1-25 2-25 10-58 15-41 20-43 25-38 38-44 17-25 14-33zM149 -307l-25 11-16 15-13 24-5 25 3 25 8 16 7 9 8 6 8 4 17 4 17-1 16-3 17-6 16-10 13-11 13-17 7-16 2-8-1-17-3-8-10-17-12-12-17-10-17-4-16-2z"/>
<path fill="#4771c6" d="M-127 -580l707 0 0 791-16-21-10-8-15-7-58-13-50-17-50-11-93-26-154-58-15-9-23-16-26-25-45-51-17-13-16-8-46-11-95-11-42-10-25-7-24-11-18-11-19-16-12-17-8-16-5-17-4-25 0-25 3-25 12-49 22-50 20-29 25-25 48-37 13-17 9-16 11-25zM141 -332l-25 9-25 18-17 23-11 33-4 25 0 17 2 16 5 21 6 12 5 9 11 8 11 4 25 0 25-5 33-10 25-13 24-17 17-17 11-17 7-16 2-25-3-17-8-14-8-10-17-16-16-10-25-9-25-2zM-580 41l16-1 33 2 100 14 33 11 66 27 34 12 91 19 33 11 33 16 25 20 25 30 48 72 17 16 18 13 25 12 24 8 108 24 50 15 25 15 16 18 9 6 58 26 35 21 14 5 25 2 34-3 24-8 31-13 29-16 35-25 27-25 19-25 0 240-1160 0z"/>
<path fill="#4577c6" d="M-87 -580l667 0 0 761-22-15-19-7-50-10-58-16-50-9-110-33-116-50-23-16-23-25-13-25-5-25 1-16 9-17 20-16 78-41 39-26 19-16 16-17 11-17 6-16 3-17 0-16-3-17-7-16-12-17-14-13-17-11-16-8-17-6-25-5-24-1-17 2-33 9-17 8-16 13-18 20-16 33-9 34-10 58-9 24-13 18-9 7-17 9-24 6-41 5-42 1-33-4-33-8-25-9-25-15-16-16-17-27-6-16-4-25 0-17 3-25 6-24 9-28 21-39 21-25 25-19 50-30 10-9 16-16 11-17 12-25 11-33zM-575 75l61-1 75 9 33 9 99 33 83 17 33 10 33 17 26 22 26 33 40 66 16 17 12 8 16 8 28 9 102 15 50 12 33 9 25 13 22 25 11 9 58 26 33 19 16 7 25 6 25 2 29-2 29-6 34-11 33-15 24-14 25-19 0 172-1160 0 0-505z"/>
<path fill="#447cc7" d="M-45 -580l625 0 0 743-33-15-108-24-49-9-110-32-107-50-21-16-13-17-10-25-1-16 3-17 10-17 27-24 72-49 33-26 25-28 8-14 6-16 4-17 2-25-4-24-7-17-12-17-13-12-17-11-19-10-22-8-33-7-25-3-25 0-25 4-17 5-22 9-19 12-21 21-12 21-10 29-18 66-14 31-8 12-15 15-26 15-25 7-25 4-25 1-25-2-25-6-25-9-16-10-20-16-12-17-8-16-4-17-2-16 1-17 4-25 8-25 8-18 17-27 24-25 25-15 67-31 16-11 14-14 17-25 11-24 10-34zM-554 108l57-1 58 6 49 11 92 26 74 14 25 7 17 8 16 11 25 26 20 33 26 66 12 16 11 9 14 6 25 4 132 7 83 18 17 6 14 9 21 25 23 17 58 26 33 19 25 10 25 6 25 3 50-2 29-5 29-8 24-9 25-13 0 121-1160 0 0-469z"/>
<path fill="#4482c6" d="M0 -580l580 0 0 729-33-12-99-22-58-10-108-34-91-46-11-8-13-17-8-17-2-16 2-17 9-16 14-17 19-16 73-55 31-28 18-25 12-33 5-25 2-25-2-17-8-23-12-18-13-14-17-12-25-13-25-8-58-13-24-3-25-1-25 3-25 5-50 17-16 8-15 14-7 17-15 91-14 41-9 17-15 19-17 13-19 9-22 7-17 2-25 0-16-3-25-7-17-8-16-11-12-13-14-25-5-16-1-17 2-16 5-20 8-21 9-15 8-12 16-17 25-17 33-12 82-19 21-8 11-9 12-16 8-25zM-572 149l25-4 33-3 41 1 42 4 66 11 75 18 66 12 17 4 16 8 18 16 12 16 9 17 5 25 0 24-4 17-7 19-19 39-6 17-3 16 1 17 3 10 8 12 8 6 8 2 17-2 17-10 58-43 17-8 23-9 34-7 42-5 41-1 25 2 54 11 29 10 8 5 9 8 21 27 20 15 25 12 37 15 46 27 33 13 41 8 50 1 50-7 41-13 0 78-1160 0 0-429z"/>
<path fill="#4488c6" d="M51 -580l529 0 0 717-33-10-84-19-65-12-91-30-25-9-28-16-40-24-18-17-8-17-2-16 4-17 9-16 31-33 80-67 16-16 11-17 16-41 12-42 1-25-3-25-11-24-12-18-25-23-25-14-33-12-75-17-91-16-16-6-9-6-10-13-7-25-2-33zM-177 -348l19-5 25-3 25 2 17 3 16 7 9 7 8 9 7 13 4 17 1 24-4 25-9 25-10 17-14 16-16 12-17 7-17 4-25 1-16-2-18-5-18-8-14-11-12-14-8-17-4-16 0-17 6-25 8-16 11-17 16-16 16-11zM-545 191l31-5 33-2 42 1 58 5 149 30 10 4 13 8 12 17 2 8-1 17-8 16-31 42-20 33-13 33-5 33 1 17 4 16 11 23 17 19 24 13 17 4 17 1 24-3 17-5 17-9 12-10 64-66 15-13 19-12 22-10 33-9 42-6 25 1 58 10 21 6 12 6 8 6 25 31 25 20 17 9 41 16 50 33 41 18 42 10 41 4 50-2 41-7 0 38-1160 0 0-378z"/>
<path fill="#438ec5" d="M116 -580l464 0 0 706-116-28-66-14-53-18-41-16-31-17-34-25-14-16-4-9-3-16 4-17 8-16 12-17 16-16 73-67 13-16 10-17 22-50 11-33 6-33-2-25-7-25-13-25-21-25-20-16-23-15-25-11-108-35-16-8-17-12-9-10-9-17-5-16zM-178 -323l12-4 17-2 16 1 17 4 16 9 9 8 10 17 4 25-2 16-5 17-7 13-10 12-10 8-13 8-25 6-17 0-16-4-25-13-9-8-9-14-3-8-3-17 2-16 6-17 7-12 11-13 14-10zM-506 249l50-5 58 3 38 10 17 8 11 9 6 8 3 16-3 17-20 58-7 33-3 33 4 34 13 33 18 25 23 19 16 10 17 7 25 6 33 2 33-5 25-9 25-13 25-19 23-23 49-58 27-22 21-11 29-11 33-6 25-2 41 5 33 9 17 10 25 30 25 23 16 11 47 22 53 35 25 13 33 13 33 9 25 4-1061 0 0-304 41-18z"/>
<path fill="#4294c5" d="M207 -580l373 0 0 695-33-6-83-22-58-13-46-16-35-17-35-21-23-20-11-17-3-8-1-16 4-17 9-17 19-24 48-45 19-22 16-25 33-66 11-25 7-25 3-16-1-25-4-25-10-26-16-29-17-21-17-16-24-20-92-56-16-15zM-175 -298l17-4 21 4 14 8 8 8 4 8 3 17-3 17-4 8-9 12-17 11-8 2-17 2-16-4-17-11-8-12-4-17 4-18 8-14 8-9zM96 415l20-2 25 2 25 5 16 7 15 12 27 33 25 24 16 11 42 22 49 33 33 18-501 0 21-17 16-17 58-73 25-25 17-11 25-12 25-7zM-580 431l0-3 8-2 25-2 16 3 17 8 17 17 41 62 20 25 24 25 20 16-188 0z"/>
<path fill="#419ac5" d="M318 -580l262 0 0 684-33-5-74-21-50-12-48-16-32-17-23-16-25-25-9-17-2-8 0-17 8-25 15-21 43-45 25-33 49-83 12-25 9-25 5-33 0-25-6-33-8-25-13-29-17-27-16-22zM-179 -257l5-5 8-3 8 2 7 6 2 8-5 9-4 3-8 3-8-1-6-5-2-7zM77 439l31-5 25-1 25 4 16 8 17 14 33 41 22 22 92 58-404 0 25-30 41-60 16-17 25-19z"/>
<path fill="#40a0c3" d="M404 -580l176 0 0 673-25-3-24-6-108-31-33-12-29-16-20-17-20-25-7-16-1-8 1-17 10-25 60-75 66-99 17-33 11-42 3-24-1-34-3-25-8-33-21-53zM78 464l21-5 25-3 17 2 18 6 12 9 11 10 34 42 16 17 54 38-314 0 37-58 19-25 22-18z"/>
<path fill="#3fa5bd" d="M470 -580l110 0 0 660-33-4-25-6-91-28-33-14-19-11-19-17-12-17-8-24 1-17 10-25 50-66 77-108 16-33 13-42 7-49 0-25-3-33-14-62zM97 489l27-2 17 5 11 5 14 12 40 46 27 25-224 0 25-41 20-25 21-16z"/>
<path fill="#3ca9b7" d="M528 -580l52 0 0 647-25-3-30-6-77-25-25-10-24-15-18-16-10-17-4-16 3-25 12-25 66-90 53-68 18-33 16-41 7-25 5-33 3-58-6-58zM91 539l17-5 8 0 17 5 16 11 32 30-127 0 21-28z"/>
<path fill="#3baeb1" d="M579 -365l1-6 0 423-33-3-25-6-52-18-31-14-17-11-17-17-8-16-2-17 5-25 18-33 46-61 54-63 22-33 24-50z"/>
<path fill="#3fb2aa" d="M577 -274l3-5 0 314-33-3-25-6-26-9-32-15-16-10-16-17-5-8-3-17 1-16 5-17 20-33 31-40 62-68z"/>
<path fill="#48b5a3" d="M579 -224l1-1 0 240-25-2-22-5-24-8-18-8-18-13-11-12-6-13-2-12 4-25 8-16 11-17 20-25 60-58z"/>
<path fill="#50b79a" d="M575 -174l5-5 0 168-39-6-27-11-17-13-8-15-2-10 2-17 8-16 6-9 24-25z"/>
<path fill="#56b991" d="M574 -116l6-5 0 66-15-3-10-5-4-3-4-9 0-8 4-8 6-8z"/>
<path fill="none" stroke="#000" stroke-width="11.5" stroke-linejoin="round" d="M580 65l-25-2-24-5-78-25-21-8-9-5-20-12-11-8-8-8-6-9-4-8-2-8-2-8 0-9 4-16 3-9 8-16 11-17 52-69 51-63 10-17 14-25 10-25 6-16 7-25 5-33 3-25 0-33-1-34-4-33-14-74M61 580l14-18 8-8 9-7 7-3 9-2 8 0 8 2 9 3 16 11 24 22M-175 -274l9-2 8 0 9 3 9 8 3 8 0 8-3 9-7 8-11 6-8 1-8-1-11-6-5-8-1-9 1-8 8-11zM580 107l-33-6-74-20-58-14-25-8-17-6-23-12-14-8-23-16-10-9-13-13-8-12-3-8-2-8-1-8 1-9 2-8 7-17 10-16 7-8 37-37 12-13 13-17 11-16 14-27 28-48 12-25 9-25 3-16 1-17-1-25-2-16-5-17-5-17-7-16-14-25-19-26-17-19-17-17-40-37-23-25M-76 580l26-30 37-53 13-16 16-17 9-6 16-11 25-10 25-6 17-2 16-1 17 1 13 2 12 4 9 4 7 6 9 7 41 50 17 16 8 5 41 24 51 33M-126 -373l35-3 16 1 9 1 8 3 8 3 9 6 4 6 4 7 3 9 2 8 2 17 0 17-2 16-5 33-9 25-8 16-6 9-6 8-9 9-12 9-14 7-11 4-8 3-17 2-25 1-24-4-17-6-17-8-16-13-10-12-9-17-5-16-2-17 1-8 3-17 5-17 8-16 5-8 12-16 17-16 16-10 17-7 25-6zM580 144l-33-11-41-9-58-13-42-7-16-4-100-31-8-3-17-8-60-33-13-8-9-9-6-8-4-8-3-9-2-8 0-8 1-8 2-9 4-8 12-17 16-16 20-17 42-32 25-20 17-15 16-20 7-12 7-17 8-25 3-16 3-17 0-16-3-21-4-13-9-16-12-15-8-8-13-10-12-8-16-8-17-5-75-18-33-4-25-1-16 1-25 3-33 6-9-1-8-1-8-3-4-3-7-8-4-8-2-10-1-15 1-25 2-25 4-33 5-33M-580 170l33-9 33-3 41 0 50 4 67 10 66 16 66 11 17 5 7 3 9 7 9 10 7 8 8 17 3 8 1 8-1 17-4 16-6 13-8 12-20 25-12 25-6 17-4 16-1 17 0 8 3 17 3 8 5 8 6 9 9 7 8 4 9 3 8 2 16 1 9-2 8-3 8-4 17-14 56-52 19-13 16-9 25-8 33-7 33-4 33-1 25 4 42 8 16 4 17 7 8 5 5 5 12 16 8 10 8 8 17 12 17 8 41 16 8 5 17 12 16 10 17 9 25 9 17 5 24 4 25 3 25 1 25-2 25-3 25-6 16-5M141 -333l-17 5-10 5-13 8-10 8-8 10-10 15-7 17-5 16-2 17-1 25 3 25 5 16 3 8 5 9 9 8 8 4 8 2 9 1 16-2 25-5 33-11 25-12 25-18 17-17 11-17 7-16 2-8 0-17-1-8-3-10-8-15-6-8-8-9-10-8-17-10-17-6-8-3-17-2-8 0-17 1zM-580 42l25 0 24 2 75 8 25 5 33 11 66 27 34 12 24 6 67 13 16 4 17 7 16 7 17 10 16 12 9 8 8 9 17 21 33 51 14 19 16 16 20 14 23 11 26 8 67 15 41 9 33 9 17 6 17 9 8 6 16 19 9 6 8 5 50 21 16 9 17 10 8 4 8 2 25 3 17-1 17-2 24-7 16-7 18-8 29-16 35-25 10-9 16-16 17-22M580 209l-7-10-9-10-9-7-8-5-7-3-51-11-58-19-50-10-91-26-25-9-49-20-62-21-19-8-15-9-23-16-25-25-31-36-16-18-8-8-17-9-17-6-27-6-47-6-58-6-42-9-25-8-24-11-17-10-11-8-8-8-12-17-8-16-5-17-4-25 0-25 3-25 5-24 7-25 10-25 12-25 10-17 9-11 9-9 16-16 41-30 9-8 13-17 9-16 10-25 8-25 8-33M-580 -77l33-1 74 4 17 0 17-2 16-4 17-7 8-5 8-7 7-9 4-8 6-16 5-26 4-24 2-34 3-24 18-100 8-25 20-50 15-69 27-71 8-25M-307 -52l-8 5-5 6-3 8 0 8 1 8 5 17 4 8 6 9 9 8 8 6 8 4 17 5 16 1 25-1 17-4 8-4 9-7 6-8 2-9 1-8-2-8-3-9-6-8-8-8-11-8-18-9-20-4-33-2-16 2zM58 115l-17 5-8 4-10 9-7 8-4 8-4 17 0 8 1 17 4 16 6 17 8 16 5 9 14 16 9 9 11 8 13 8 17 8 12 5 99 30 50 19 17 4 24 4 34 14 16 4 8 1 9-1 8-2 8-4 9-5 8-7 25-24 10-13 4-8 3-8 1-9 1-8-1-8-7-25-1-17-3-16-3-8-5-9-6-8-9-8-12-9-22-10-37-14-71-22-49-16-25-6-25-4-33-2-50 3zM-580 -191l74-18 25-9 17-11 16-14 13-14 11-17 6-16 5-25 2-25 0-50 20-141 8-49M141 165l-19 9-11 8-3 4-9 13-2 8-1 9 1 8 2 8 3 8 6 8 9 9 16 9 34 16 32 11 41 10 50 9 50 10 8 0 8-2 10-5 7-5 8-8 9-11 2-9-2-12-9-19-8-14-8-10-12-11-12-9-15-8-20-8-27-9-55-15-25-5-17-3-16 0-8 1z"/>
</g></g>
<circle cx="346.9" cy="498.6" r="55.45" fill="none" stroke="#000" stroke-width="1.8"/>
<g font-size="4.4" text-anchor="middle" style="font-weight:normal" fill="#1a1a1a" opacity="0.85"><text x="112.9" y="73.9" style="font-weight:normal">Fp1</text><text x="141.1" y="73.9" style="font-weight:normal">Fp2</text><text x="89.5" y="90.7" style="font-weight:normal">F7</text><text x="108.2" y="93.6" style="font-weight:normal">F3</text><text x="146.1" y="93.6" style="font-weight:normal">F4</text><text x="164.5" y="90.5" style="font-weight:normal">F8</text><text x="81.8" y="116.9" style="font-weight:normal">T3</text><text x="104.7" y="116.9" style="font-weight:normal">C3</text><text x="149.9" y="116.9" style="font-weight:normal">C4</text><text x="172.8" y="116.9" style="font-weight:normal">T4</text><text x="90.5" y="143.5" style="font-weight:normal">T5</text><text x="108.2" y="140.5" style="font-weight:normal">P3</text><text x="145.2" y="142.0" style="font-weight:normal">P4</text><text x="164.3" y="143.9" style="font-weight:normal">T6</text><text x="112.9" y="160.5" style="font-weight:normal">O1</text><text x="141.5" y="160.5" style="font-weight:normal">O2</text></g>
<g font-size="4.4" text-anchor="middle" style="font-weight:normal" fill="#1a1a1a" opacity="0.85"><text x="333.9" y="73.9" style="font-weight:normal">Fp1</text><text x="362.1" y="73.9" style="font-weight:normal">Fp2</text><text x="310.5" y="90.7" style="font-weight:normal">F7</text><text x="329.2" y="93.6" style="font-weight:normal">F3</text><text x="367.1" y="93.6" style="font-weight:normal">F4</text><text x="385.5" y="90.5" style="font-weight:normal">F8</text><text x="302.8" y="116.9" style="font-weight:normal">T3</text><text x="325.7" y="116.9" style="font-weight:normal">C3</text><text x="370.9" y="116.9" style="font-weight:normal">C4</text><text x="393.8" y="116.9" style="font-weight:normal">T4</text><text x="311.5" y="143.5" style="font-weight:normal">T5</text><text x="329.2" y="140.5" style="font-weight:normal">P3</text><text x="366.2" y="142.0" style="font-weight:normal">P4</text><text x="385.3" y="143.9" style="font-weight:normal">T6</text><text x="333.9" y="160.5" style="font-weight:normal">O1</text><text x="362.5" y="160.5" style="font-weight:normal">O2</text></g>
<g font-size="4.4" text-anchor="middle" style="font-weight:normal" fill="#1a1a1a" opacity="0.85"><text x="555.4" y="73.9" style="font-weight:normal">Fp1</text><text x="583.6" y="73.9" style="font-weight:normal">Fp2</text><text x="532.0" y="90.7" style="font-weight:normal">F7</text><text x="550.7" y="93.6" style="font-weight:normal">F3</text><text x="588.6" y="93.6" style="font-weight:normal">F4</text><text x="607.0" y="90.5" style="font-weight:normal">F8</text><text x="524.3" y="116.9" style="font-weight:normal">T3</text><text x="547.2" y="116.9" style="font-weight:normal">C3</text><text x="592.4" y="116.9" style="font-weight:normal">C4</text><text x="615.3" y="116.9" style="font-weight:normal">T4</text><text x="533.0" y="143.5" style="font-weight:normal">T5</text><text x="550.7" y="140.5" style="font-weight:normal">P3</text><text x="587.7" y="142.0" style="font-weight:normal">P4</text><text x="606.8" y="143.9" style="font-weight:normal">T6</text><text x="555.4" y="160.5" style="font-weight:normal">O1</text><text x="584.0" y="160.5" style="font-weight:normal">O2</text></g>
<g font-size="4.4" text-anchor="middle" style="font-weight:normal" fill="#1a1a1a" opacity="0.85"><text x="112.9" y="229.9" style="font-weight:normal">Fp1</text><text x="141.1" y="229.9" style="font-weight:normal">Fp2</text><text x="89.5" y="246.7" style="font-weight:normal">F7</text><text x="108.2" y="249.6" style="font-weight:normal">F3</text><text x="146.1" y="249.6" style="font-weight:normal">F4</text><text x="164.5" y="246.5" style="font-weight:normal">F8</text><text x="81.8" y="272.9" style="font-weight:normal">T3</text><text x="104.7" y="272.9" style="font-weight:normal">C3</text><text x="149.9" y="272.9" style="font-weight:normal">C4</text><text x="172.8" y="272.9" style="font-weight:normal">T4</text><text x="90.5" y="299.5" style="font-weight:normal">T5</text><text x="108.2" y="296.5" style="font-weight:normal">P3</text><text x="145.2" y="298.0" style="font-weight:normal">P4</text><text x="164.3" y="299.9" style="font-weight:normal">T6</text><text x="112.9" y="316.5" style="font-weight:normal">O1</text><text x="141.5" y="316.5" style="font-weight:normal">O2</text></g>
<g font-size="4.4" text-anchor="middle" style="font-weight:normal" fill="#1a1a1a" opacity="0.85"><text x="333.9" y="229.9" style="font-weight:normal">Fp1</text><text x="362.1" y="229.9" style="font-weight:normal">Fp2</text><text x="310.5" y="246.7" style="font-weight:normal">F7</text><text x="329.2" y="249.6" style="font-weight:normal">F3</text><text x="367.1" y="249.6" style="font-weight:normal">F4</text><text x="385.5" y="246.5" style="font-weight:normal">F8</text><text x="302.8" y="272.9" style="font-weight:normal">T3</text><text x="325.7" y="272.9" style="font-weight:normal">C3</text><text x="370.9" y="272.9" style="font-weight:normal">C4</text><text x="393.8" y="272.9" style="font-weight:normal">T4</text><text x="311.5" y="299.5" style="font-weight:normal">T5</text><text x="329.2" y="296.5" style="font-weight:normal">P3</text><text x="366.2" y="298.0" style="font-weight:normal">P4</text><text x="385.3" y="299.9" style="font-weight:normal">T6</text><text x="333.9" y="316.5" style="font-weight:normal">O1</text><text x="362.5" y="316.5" style="font-weight:normal">O2</text></g>
<g font-size="4.4" text-anchor="middle" style="font-weight:normal" fill="#1a1a1a" opacity="0.85"><text x="555.4" y="229.9" style="font-weight:normal">Fp1</text><text x="583.6" y="229.9" style="font-weight:normal">Fp2</text><text x="532.0" y="246.7" style="font-weight:normal">F7</text><text x="550.7" y="249.6" style="font-weight:normal">F3</text><text x="588.6" y="249.6" style="font-weight:normal">F4</text><text x="607.0" y="246.5" style="font-weight:normal">F8</text><text x="524.3" y="272.9" style="font-weight:normal">T3</text><text x="547.2" y="272.9" style="font-weight:normal">C3</text><text x="592.4" y="272.9" style="font-weight:normal">C4</text><text x="615.3" y="272.9" style="font-weight:normal">T4</text><text x="533.0" y="299.5" style="font-weight:normal">T5</text><text x="550.7" y="296.5" style="font-weight:normal">P3</text><text x="587.7" y="298.0" style="font-weight:normal">P4</text><text x="606.8" y="299.9" style="font-weight:normal">T6</text><text x="555.4" y="316.5" style="font-weight:normal">O1</text><text x="584.0" y="316.5" style="font-weight:normal">O2</text></g>
<path d="M306.45 470.84L312.55 473.36M308.24 469.05L310.76 475.15M310.76 469.05L308.24 475.15M312.55 470.84L306.45 473.36M297.65 497.04L303.75 499.56M299.44 495.25L301.96 501.35M301.96 495.25L299.44 501.35M303.75 497.04L297.65 499.56M320.15 497.04L326.25 499.56M321.94 495.25L324.46 501.35M324.46 495.25L321.94 501.35M326.25 497.04L320.15 499.56M361.45 473.94L367.55 476.46M363.24 472.15L365.76 478.25M365.76 472.15L363.24 478.25M367.55 473.94L361.45 476.46M360.95 519.64L367.05 522.16M362.74 517.85L365.26 523.95M365.26 517.85L362.74 523.95M367.05 519.64L360.95 522.16" stroke="#000" stroke-width="0.9" fill="none"/>
<circle cx="309.5" cy="472.1" r="1.5" fill="#000"/>
<circle cx="300.7" cy="498.3" r="1.5" fill="#000"/>
<circle cx="323.2" cy="498.3" r="1.5" fill="#000"/>
<circle cx="364.5" cy="475.2" r="1.5" fill="#000"/>
<circle cx="364.0" cy="520.9" r="1.5" fill="#000"/>
<circle cx="331.9" cy="455.0" r="0.6" fill="#223" opacity="0.8"/>
<circle cx="359.7" cy="455.0" r="0.6" fill="#223" opacity="0.8"/>
<circle cx="368.3" cy="498.5" r="0.6" fill="#223" opacity="0.8"/>
<circle cx="390.7" cy="498.5" r="0.6" fill="#223" opacity="0.8"/>
<circle cx="309.5" cy="524.6" r="0.6" fill="#223" opacity="0.8"/>
<circle cx="327.6" cy="520.7" r="0.6" fill="#223" opacity="0.8"/>
<circle cx="382.2" cy="524.6" r="0.6" fill="#223" opacity="0.8"/>
<circle cx="331.9" cy="541.2" r="0.6" fill="#223" opacity="0.8"/>
<circle cx="360.8" cy="541.2" r="0.6" fill="#223" opacity="0.8"/>
<rect x="200.55" y="51.65" width="12.4" height="122.7" fill="url(#pg)" stroke="#222" stroke-width="0.9"/><path d="M212.90 66.65h-2.4M212.90 82.10h-2.4M212.90 97.55h-2.4M212.90 113.00h-2.4M212.90 128.45h-2.4M212.90 143.90h-2.4M212.90 159.35h-2.4" stroke="#222" stroke-width="0.8" fill="none"/>
<text x="217.5" y="57.2" font-size="14" text-anchor="start">-13</text>
<text x="217.5" y="177.9" font-size="14" text-anchor="start">-13.35</text>
<rect x="421.65" y="51.05" width="12.4" height="123.3" fill="url(#pg)" stroke="#222" stroke-width="0.9"/><path d="M434.00 61.70h-2.4M434.00 76.97h-2.4M434.00 92.24h-2.4M434.00 107.51h-2.4M434.00 122.78h-2.4M434.00 138.05h-2.4M434.00 153.32h-2.4M434.00 168.59h-2.4" stroke="#222" stroke-width="0.8" fill="none"/>
<text x="438.6" y="66.2" font-size="14" text-anchor="start">-13.15</text>
<text x="438.6" y="172.5" font-size="14" text-anchor="start">-13.5</text>
<rect x="643.35" y="51.05" width="12.4" height="123.3" fill="url(#pg)" stroke="#222" stroke-width="0.9"/><path d="M655.70 63.00h-2.4M655.70 79.65h-2.4M655.70 96.30h-2.4M655.70 112.95h-2.4M655.70 129.60h-2.4M655.70 146.25h-2.4M655.70 162.90h-2.4" stroke="#222" stroke-width="0.8" fill="none"/>
<text x="660.4" y="67.5" font-size="14" text-anchor="start">0.3</text>
<text x="660.4" y="117.9" font-size="14" text-anchor="start">0</text>
<text x="660.4" y="167.3" font-size="14" text-anchor="start">-0.3</text>
<rect x="200.55" y="206.55" width="12.4" height="123.3" fill="url(#pg)" stroke="#222" stroke-width="0.9"/><path d="M212.90 216.20h-2.4M212.90 235.40h-2.4M212.90 254.60h-2.4M212.90 273.80h-2.4M212.90 293.00h-2.4M212.90 312.20h-2.4" stroke="#222" stroke-width="0.8" fill="none"/>
<text x="217.7" y="220.7" font-size="14" text-anchor="start">-13</text>
<text x="217.7" y="334.3" font-size="14" text-anchor="start">-13.5</text>
<rect x="421.65" y="206.55" width="12.4" height="123.3" fill="url(#pg)" stroke="#222" stroke-width="0.9"/><path d="M434.00 215.00h-2.4M434.00 226.65h-2.4M434.00 238.30h-2.4M434.00 249.95h-2.4M434.00 261.60h-2.4M434.00 273.25h-2.4M434.00 284.90h-2.4M434.00 296.55h-2.4M434.00 308.20h-2.4M434.00 319.85h-2.4" stroke="#222" stroke-width="0.8" fill="none"/>
<text x="438.6" y="220" font-size="14" text-anchor="start">-12.9</text>
<text x="438.6" y="334" font-size="14" text-anchor="start">-13.35</text>
<rect x="643.35" y="206.55" width="12.4" height="123.3" fill="url(#pg)" stroke="#222" stroke-width="0.9"/><path d="M655.70 212.50h-2.4M655.70 223.65h-2.4M655.70 234.80h-2.4M655.70 245.95h-2.4M655.70 257.10h-2.4M655.70 268.25h-2.4M655.70 279.40h-2.4M655.70 290.55h-2.4M655.70 301.70h-2.4M655.70 312.85h-2.4M655.70 324.00h-2.4" stroke="#222" stroke-width="0.8" fill="none"/>
<text x="660.4" y="218" font-size="14" text-anchor="start">0.5</text>
<text x="660.4" y="273.1" font-size="14" text-anchor="start">0</text>
<text x="660.4" y="328.5" font-size="14" text-anchor="start">-0.5</text>
<rect x="419.85" y="431.85" width="12.4" height="123.5" fill="url(#pg)" stroke="#222" stroke-width="0.9"/><path d="M432.20 440.60h-2.4M432.20 451.12h-2.4M432.20 461.64h-2.4M432.20 472.16h-2.4M432.20 482.68h-2.4M432.20 493.20h-2.4M432.20 503.72h-2.4M432.20 514.24h-2.4M432.20 524.76h-2.4M432.20 535.28h-2.4M432.20 545.80h-2.4" stroke="#222" stroke-width="0.8" fill="none"/>
<text x="435.7" y="445.6" font-size="14" text-anchor="start">2.5</text>
<text x="435.7" y="550.3" font-size="14" text-anchor="start">-2.5</text>
<text x="2.4" y="14.6" font-size="17" text-anchor="start">(A)</text>
<text x="2.4" y="390.4" font-size="17" text-anchor="start">(B)</text>
<text x="127.4" y="25.3" font-size="14.5" text-anchor="middle">T0</text>
<text x="348.4" y="25.3" font-size="14.5" text-anchor="middle">T1</text>
<text x="570" y="25.3" font-size="14.5" text-anchor="middle">T1–T0</text>
<text x="31.2" y="115.4" font-size="14.5" text-anchor="middle" transform="rotate(-90 31.2 115.4)">Active</text>
<text x="31.2" y="271.5" font-size="14.5" text-anchor="middle" transform="rotate(-90 31.2 271.5)">Sham</text>
<text x="344" y="419.8" font-size="14.5" text-anchor="middle">Active vs. Sham</text>
<text x="451.5" y="494.5" font-size="14" text-anchor="middle" transform="rotate(-90 451.5 494.5)">T vaule</text>
<rect x="36.4" y="441.3" width="136.1" height="52.2" fill="#4335a0"/>
<rect x="142.62" y="451.09" width="13.28" height="3.56" fill="#e9ed4c"/>
<rect x="169.18" y="451.09" width="3.32" height="3.56" fill="#e9ed4c"/>
<rect x="142.62" y="457.61" width="13.28" height="3.56" fill="#e9ed4c"/>
<rect x="169.18" y="457.61" width="3.32" height="3.56" fill="#e9ed4c"/>
<rect x="145.94" y="467.40" width="26.56" height="3.56" fill="#e9ed4c"/>
<rect x="142.62" y="477.19" width="29.88" height="3.56" fill="#e9ed4c"/>
<rect x="145.94" y="480.45" width="26.56" height="3.56" fill="#e9ed4c"/>
<rect x="36.4" y="441.3" width="136.1" height="52.2" fill="none" stroke="#111" stroke-width="1.1"/>
<path d="M38.06 493.50v-1.8M38.06 441.30v1.8M54.66 493.50v-1.8M54.66 441.30v1.8M71.25 493.50v-1.8M71.25 441.30v1.8M87.85 493.50v-1.8M87.85 441.30v1.8M104.45 493.50v-1.8M104.45 441.30v1.8M121.05 493.50v-1.8M121.05 441.30v1.8M137.65 493.50v-1.8M137.65 441.30v1.8M154.24 493.50v-1.8M154.24 441.30v1.8M170.84 493.50v-1.8M170.84 441.30v1.8M36.40 478.82h1.8M172.50 478.82h-1.8M36.40 462.51h1.8M172.50 462.51h-1.8M36.40 446.19h1.8M172.50 446.19h-1.8" stroke="#111" stroke-width="0.7" fill="none"/>
<text x="37.7598" y="505.5" font-size="10.2" text-anchor="middle">0</text>
<text x="70.9549" y="505.5" font-size="10.2" text-anchor="middle">10</text>
<text x="104.15" y="505.5" font-size="10.2" text-anchor="middle">20</text>
<text x="137.345" y="505.5" font-size="10.2" text-anchor="middle">30</text>
<text x="170.54" y="505.5" font-size="10.2" text-anchor="middle">40</text>
<text x="33.2" y="450.8" font-size="10.2" text-anchor="end">15</text>
<text x="33.2" y="467.5" font-size="10.2" text-anchor="end">10</text>
<text x="33.2" y="484" font-size="10.2" text-anchor="end">5</text>
<text x="12" y="475.3" font-size="14.5" text-anchor="middle" transform="rotate(-90 12 475.3)">Channel index</text>
<text x="102.5" y="534.3" font-size="14.5" text-anchor="middle">Frequency (Hz)</text>
<rect x="175.65" y="441.45" width="11.5" height="51.8" fill="url(#pg)" stroke="#222" stroke-width="0.9"/><path d="M187.10 447.56h-2.4M187.10 454.12h-2.4M187.10 460.69h-2.4M187.10 467.25h-2.4M187.10 473.81h-2.4M187.10 480.38h-2.4M187.10 486.94h-2.4" stroke="#222" stroke-width="0.8" fill="none"/>
<text x="189.6" y="447" font-size="10.8" text-anchor="start">Highlighted</text>
<text x="189.6" y="495.2" font-size="10.8" text-anchor="start">Masked</text>
<path d="M563.70 400.00V535.50H655.80M563.70 413.30h-3.4M563.70 443.85h-3.4M563.70 474.40h-3.4M563.70 504.95h-3.4M563.70 535.50h-3.4M608.8 535.50v-3.2" stroke="#111" stroke-width="1" fill="none"/>
<text x="558.6" y="418.3" font-size="14" text-anchor="end">2</text>
<text x="558.6" y="448.85" font-size="14" text-anchor="end">1</text>
<text x="558.6" y="479.4" font-size="14" text-anchor="end">0</text>
<text x="558.6" y="509.95" font-size="14" text-anchor="end">-1</text>
<text x="558.6" y="540.5" font-size="14" text-anchor="end">-2</text>
<text x="583.2" y="557.6" font-size="14" text-anchor="middle">Active</text>
<text x="631.8" y="557.6" font-size="14" text-anchor="middle">Sham</text>
<text x="530.4" y="474.3" font-size="14.5" text-anchor="middle" transform="rotate(-90 530.4 474.3)">Δ Gamma power (T1–T0)</text>
<path d="M585.9 429V424.4H631.8V429" stroke="#111" stroke-width="1.1" fill="none"/>
<text x="608" y="427.5" font-size="25" text-anchor="middle">*</text>
<g stroke="#ec9a3f" stroke-width="1.1" fill="none"><rect x="575" y="471.4" width="22.5" height="10.9"/><path d="M573.8 475.9H598.6M586.3 463.1V471.4M586.3 482.3V490.9M580 463.1H592.5M580 490.9H592.5"/></g>
<circle cx="586.3" cy="463.1" r="2.4" fill="#ec9a3f"/>
<circle cx="586.3" cy="468.8" r="2.4" fill="#ec9a3f"/>
<circle cx="586.3" cy="471.5" r="2.4" fill="#ec9a3f"/>
<circle cx="586.3" cy="474" r="2.4" fill="#ec9a3f"/>
<circle cx="586.3" cy="476.5" r="2.4" fill="#ec9a3f"/>
<circle cx="586.3" cy="479" r="2.4" fill="#ec9a3f"/>
<circle cx="586.3" cy="481.5" r="2.4" fill="#ec9a3f"/>
<circle cx="586.3" cy="484.5" r="2.4" fill="#ec9a3f"/>
<circle cx="586.3" cy="490.9" r="2.4" fill="#ec9a3f"/>
<circle cx="586.3" cy="519.5" r="2.4" fill="#ec9a3f"/>
<g stroke="#5560b8" stroke-width="1.1" fill="none"><rect x="620.7" y="458.5" width="22" height="17.6"/><path d="M619.5 466.6H644M631.8 439V458.5M631.8 476.1V480M625.8 439H638M625.8 480H638"/></g>
<path d="M631.8 436.2l2.6 4.6h-5.2z" fill="#5560b8"/>
<path d="M631.8 442.7l2.6 4.6h-5.2z" fill="#5560b8"/>
<path d="M631.8 454.7l2.6 4.6h-5.2z" fill="#5560b8"/>
<path d="M631.8 461.7l2.6 4.6h-5.2z" fill="#5560b8"/>
<path d="M631.8 465.2l2.6 4.6h-5.2z" fill="#5560b8"/>
<path d="M631.8 468.2l2.6 4.6h-5.2z" fill="#5560b8"/>
<path d="M631.8 471.2l2.6 4.6h-5.2z" fill="#5560b8"/>
<path d="M631.8 475.2l2.6 4.6h-5.2z" fill="#5560b8"/>
<path d="M631.8 477.2l2.6 4.6h-5.2z" fill="#5560b8"/>
</svg></body></html>
